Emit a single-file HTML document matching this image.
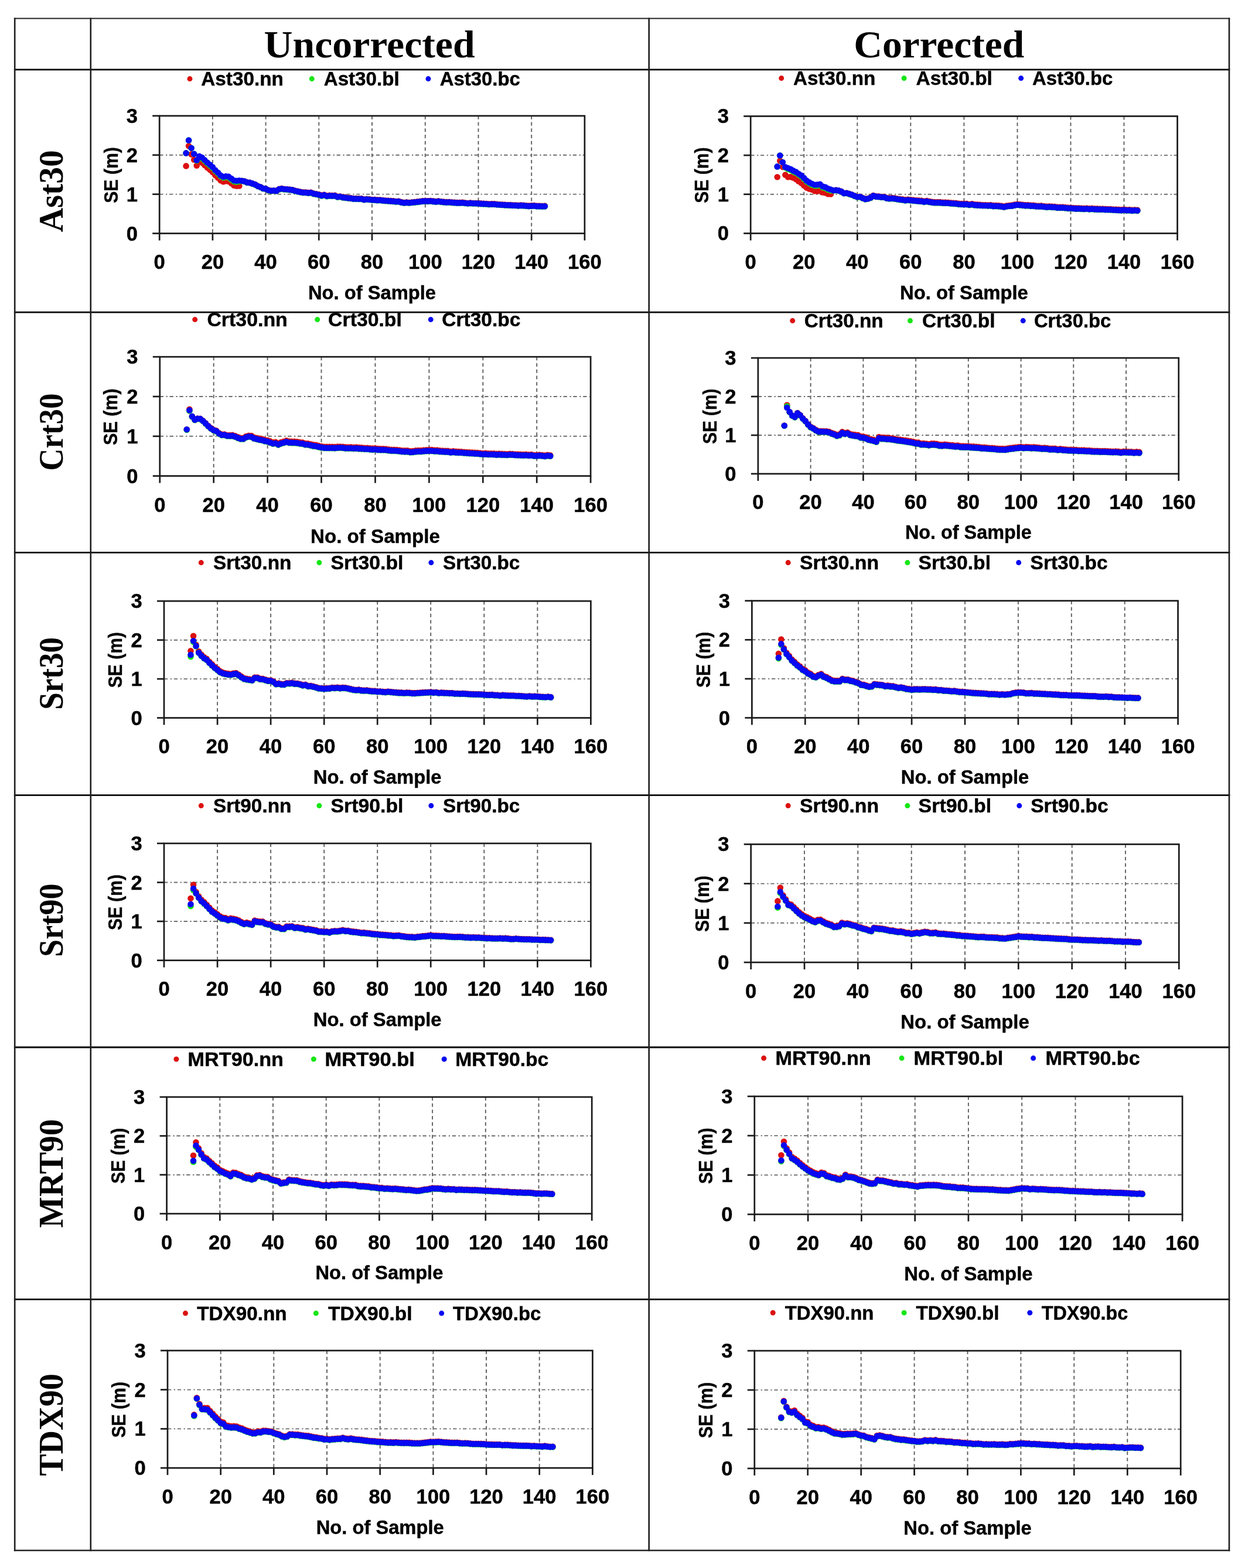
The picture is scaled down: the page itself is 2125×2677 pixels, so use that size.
<!DOCTYPE html>
<html><head><meta charset="utf-8"><title>SE vs No. of Sample</title>
<style>html,body{margin:0;padding:0;background:#fff;}svg{display:block;}</style></head><body>
<svg width="2125" height="2677" viewBox="0 0 2125 2677">
<rect x="0" y="0" width="2125" height="2677" fill="#fff"/>
<g><line x1="362.9" y1="197.8" x2="362.9" y2="398.5" stroke="#5e5e5e" stroke-width="1.9" stroke-dasharray="6 4.75"/><line x1="453.6" y1="197.8" x2="453.6" y2="398.5" stroke="#5e5e5e" stroke-width="1.9" stroke-dasharray="6 4.75"/><line x1="544.3" y1="197.8" x2="544.3" y2="398.5" stroke="#5e5e5e" stroke-width="1.9" stroke-dasharray="6 4.75"/><line x1="635.0" y1="197.8" x2="635.0" y2="398.5" stroke="#5e5e5e" stroke-width="1.9" stroke-dasharray="6 4.75"/><line x1="725.8" y1="197.8" x2="725.8" y2="398.5" stroke="#5e5e5e" stroke-width="1.9" stroke-dasharray="6 4.75"/><line x1="816.5" y1="197.8" x2="816.5" y2="398.5" stroke="#5e5e5e" stroke-width="1.9" stroke-dasharray="6 4.75"/><line x1="907.2" y1="197.8" x2="907.2" y2="398.5" stroke="#5e5e5e" stroke-width="1.9" stroke-dasharray="6 4.75"/><line x1="272.2" y1="331.6" x2="997.9" y2="331.6" stroke="#6c6c6c" stroke-width="1.9" stroke-dasharray="6.3 4.5 2.3 3.7"/><line x1="272.2" y1="264.7" x2="997.9" y2="264.7" stroke="#6c6c6c" stroke-width="1.9" stroke-dasharray="6.3 4.5 2.3 3.7"/><rect x="272.2" y="197.8" width="725.7" height="200.7" fill="none" stroke="#1a1a1a" stroke-width="2.7"/><line x1="260.2" y1="398.5" x2="272.2" y2="398.5" stroke="#1a1a1a" stroke-width="2.7"/><line x1="260.2" y1="331.6" x2="272.2" y2="331.6" stroke="#1a1a1a" stroke-width="2.7"/><line x1="260.2" y1="264.7" x2="272.2" y2="264.7" stroke="#1a1a1a" stroke-width="2.7"/><line x1="260.2" y1="197.8" x2="272.2" y2="197.8" stroke="#1a1a1a" stroke-width="2.7"/><line x1="272.2" y1="398.5" x2="272.2" y2="410.5" stroke="#1a1a1a" stroke-width="2.7"/><line x1="362.9" y1="398.5" x2="362.9" y2="410.5" stroke="#1a1a1a" stroke-width="2.7"/><line x1="453.6" y1="398.5" x2="453.6" y2="410.5" stroke="#1a1a1a" stroke-width="2.7"/><line x1="544.3" y1="398.5" x2="544.3" y2="410.5" stroke="#1a1a1a" stroke-width="2.7"/><line x1="635.0" y1="398.5" x2="635.0" y2="410.5" stroke="#1a1a1a" stroke-width="2.7"/><line x1="725.8" y1="398.5" x2="725.8" y2="410.5" stroke="#1a1a1a" stroke-width="2.7"/><line x1="816.5" y1="398.5" x2="816.5" y2="410.5" stroke="#1a1a1a" stroke-width="2.7"/><line x1="907.2" y1="398.5" x2="907.2" y2="410.5" stroke="#1a1a1a" stroke-width="2.7"/><line x1="997.9" y1="398.5" x2="997.9" y2="410.5" stroke="#1a1a1a" stroke-width="2.7"/><g fill="#dc1010"><circle cx="317.6" cy="283.4" r="5.3"/><circle cx="322.1" cy="249.3" r="5.3"/><circle cx="326.6" cy="263.4" r="5.3"/><circle cx="331.2" cy="272.7" r="5.3"/><circle cx="335.7" cy="282.8" r="5.3"/><circle cx="340.2" cy="275.5" r="5.3"/><circle cx="344.8" cy="277.7" r="5.3"/><circle cx="349.3" cy="282.0" r="5.3"/><circle cx="353.8" cy="286.2" r="5.3"/><circle cx="358.4" cy="289.9" r="5.3"/><circle cx="362.9" cy="294.0" r="5.3"/><circle cx="367.4" cy="299.2" r="5.3"/><circle cx="372.0" cy="303.4" r="5.3"/><circle cx="376.5" cy="308.1" r="5.3"/><circle cx="381.1" cy="310.2" r="5.3"/><circle cx="385.6" cy="309.3" r="5.3"/><circle cx="390.1" cy="309.7" r="5.3"/><circle cx="394.7" cy="312.9" r="5.3"/><circle cx="399.2" cy="316.6" r="5.3"/><circle cx="403.7" cy="317.6" r="5.3"/><circle cx="408.3" cy="317.5" r="5.3"/><circle cx="412.8" cy="308.7" r="5.3"/><circle cx="417.3" cy="309.6" r="5.3"/><circle cx="421.9" cy="311.4" r="5.3"/><circle cx="426.4" cy="311.9" r="5.3"/><circle cx="430.9" cy="313.3" r="5.3"/><circle cx="435.5" cy="314.9" r="5.3"/><circle cx="440.0" cy="317.6" r="5.3"/><circle cx="444.6" cy="319.3" r="5.3"/><circle cx="449.1" cy="321.7" r="5.3"/><circle cx="453.6" cy="322.3" r="5.3"/><circle cx="458.2" cy="324.6" r="5.3"/><circle cx="462.7" cy="325.6" r="5.3"/><circle cx="467.2" cy="325.2" r="5.3"/><circle cx="471.8" cy="325.6" r="5.3"/><circle cx="476.3" cy="322.8" r="5.3"/><circle cx="480.8" cy="321.9" r="5.3"/><circle cx="485.4" cy="322.7" r="5.3"/><circle cx="489.9" cy="323.0" r="5.3"/><circle cx="494.4" cy="323.6" r="5.3"/><circle cx="499.0" cy="324.0" r="5.3"/><circle cx="503.5" cy="325.5" r="5.3"/><circle cx="508.1" cy="326.5" r="5.3"/><circle cx="512.6" cy="327.5" r="5.3"/><circle cx="517.1" cy="328.3" r="5.3"/><circle cx="521.7" cy="328.3" r="5.3"/><circle cx="526.2" cy="328.9" r="5.3"/><circle cx="530.7" cy="328.5" r="5.3"/><circle cx="535.3" cy="330.3" r="5.3"/><circle cx="539.8" cy="331.0" r="5.3"/><circle cx="544.3" cy="332.0" r="5.3"/><circle cx="548.9" cy="333.4" r="5.3"/><circle cx="553.4" cy="332.5" r="5.3"/><circle cx="557.9" cy="334.3" r="5.3"/><circle cx="562.5" cy="333.6" r="5.3"/><circle cx="567.0" cy="333.9" r="5.3"/><circle cx="571.6" cy="333.6" r="5.3"/><circle cx="576.1" cy="335.7" r="5.3"/><circle cx="580.6" cy="335.2" r="5.3"/><circle cx="585.2" cy="336.5" r="5.3"/><circle cx="589.7" cy="336.9" r="5.3"/><circle cx="594.2" cy="337.7" r="5.3"/><circle cx="598.8" cy="338.1" r="5.3"/><circle cx="603.3" cy="338.9" r="5.3"/><circle cx="607.8" cy="338.9" r="5.3"/><circle cx="612.4" cy="339.1" r="5.3"/><circle cx="616.9" cy="339.0" r="5.3"/><circle cx="621.4" cy="340.4" r="5.3"/><circle cx="626.0" cy="339.7" r="5.3"/><circle cx="630.5" cy="340.1" r="5.3"/><circle cx="635.0" cy="340.7" r="5.3"/><circle cx="639.6" cy="340.9" r="5.3"/><circle cx="644.1" cy="341.4" r="5.3"/><circle cx="648.7" cy="341.2" r="5.3"/><circle cx="653.2" cy="341.8" r="5.3"/><circle cx="657.7" cy="342.2" r="5.3"/><circle cx="662.3" cy="342.5" r="5.3"/><circle cx="666.8" cy="342.8" r="5.3"/><circle cx="671.3" cy="343.1" r="5.3"/><circle cx="675.9" cy="343.8" r="5.3"/><circle cx="680.4" cy="343.5" r="5.3"/><circle cx="684.9" cy="344.9" r="5.3"/><circle cx="689.5" cy="345.8" r="5.3"/><circle cx="694.0" cy="345.4" r="5.3"/><circle cx="698.5" cy="345.8" r="5.3"/><circle cx="703.1" cy="345.2" r="5.3"/><circle cx="707.6" cy="344.8" r="5.3"/><circle cx="712.2" cy="344.3" r="5.3"/><circle cx="716.7" cy="343.7" r="5.3"/><circle cx="721.2" cy="343.0" r="5.3"/><circle cx="725.8" cy="342.9" r="5.3"/><circle cx="730.3" cy="343.1" r="5.3"/><circle cx="734.8" cy="342.8" r="5.3"/><circle cx="739.4" cy="343.3" r="5.3"/><circle cx="743.9" cy="343.9" r="5.3"/><circle cx="748.4" cy="343.4" r="5.3"/><circle cx="753.0" cy="344.0" r="5.3"/><circle cx="757.5" cy="344.6" r="5.3"/><circle cx="762.0" cy="344.9" r="5.3"/><circle cx="766.6" cy="344.8" r="5.3"/><circle cx="771.1" cy="345.3" r="5.3"/><circle cx="775.7" cy="345.6" r="5.3"/><circle cx="780.2" cy="345.8" r="5.3"/><circle cx="784.7" cy="345.8" r="5.3"/><circle cx="789.3" cy="345.6" r="5.3"/><circle cx="793.8" cy="346.2" r="5.3"/><circle cx="798.3" cy="346.7" r="5.3"/><circle cx="802.9" cy="346.4" r="5.3"/><circle cx="807.4" cy="346.7" r="5.3"/><circle cx="811.9" cy="346.7" r="5.3"/><circle cx="816.5" cy="346.8" r="5.3"/><circle cx="821.0" cy="347.4" r="5.3"/><circle cx="825.5" cy="347.6" r="5.3"/><circle cx="830.1" cy="347.8" r="5.3"/><circle cx="834.6" cy="348.3" r="5.3"/><circle cx="839.2" cy="348.1" r="5.3"/><circle cx="843.7" cy="348.1" r="5.3"/><circle cx="848.2" cy="348.6" r="5.3"/><circle cx="852.8" cy="349.0" r="5.3"/><circle cx="857.3" cy="349.2" r="5.3"/><circle cx="861.8" cy="349.5" r="5.3"/><circle cx="866.4" cy="349.8" r="5.3"/><circle cx="870.9" cy="349.9" r="5.3"/><circle cx="875.4" cy="350.2" r="5.3"/><circle cx="880.0" cy="350.2" r="5.3"/><circle cx="884.5" cy="350.6" r="5.3"/><circle cx="889.0" cy="350.3" r="5.3"/><circle cx="893.6" cy="350.6" r="5.3"/><circle cx="898.1" cy="351.0" r="5.3"/><circle cx="902.7" cy="351.4" r="5.3"/><circle cx="907.2" cy="351.0" r="5.3"/><circle cx="911.7" cy="350.9" r="5.3"/><circle cx="916.3" cy="351.5" r="5.3"/><circle cx="920.8" cy="351.6" r="5.3"/><circle cx="925.3" cy="351.8" r="5.3"/><circle cx="929.9" cy="351.6" r="5.3"/></g><g fill="#16e616"><circle cx="317.6" cy="261.4" r="5.3"/><circle cx="322.1" cy="239.5" r="5.3"/><circle cx="326.6" cy="252.7" r="5.3"/><circle cx="331.2" cy="262.8" r="5.3"/><circle cx="335.7" cy="274.2" r="5.3"/><circle cx="340.2" cy="268.2" r="5.3"/><circle cx="344.8" cy="270.4" r="5.3"/><circle cx="349.3" cy="274.7" r="5.3"/><circle cx="353.8" cy="278.9" r="5.3"/><circle cx="358.4" cy="282.7" r="5.3"/><circle cx="362.9" cy="286.8" r="5.3"/><circle cx="367.4" cy="291.9" r="5.3"/><circle cx="372.0" cy="296.2" r="5.3"/><circle cx="376.5" cy="301.0" r="5.3"/><circle cx="381.1" cy="303.2" r="5.3"/><circle cx="385.6" cy="302.5" r="5.3"/><circle cx="390.1" cy="303.1" r="5.3"/><circle cx="394.7" cy="306.4" r="5.3"/><circle cx="399.2" cy="309.7" r="5.3"/><circle cx="403.7" cy="310.4" r="5.3"/><circle cx="408.3" cy="309.8" r="5.3"/><circle cx="412.8" cy="309.1" r="5.3"/><circle cx="417.3" cy="310.0" r="5.3"/><circle cx="421.9" cy="311.9" r="5.3"/><circle cx="426.4" cy="312.3" r="5.3"/><circle cx="430.9" cy="313.8" r="5.3"/><circle cx="435.5" cy="315.4" r="5.3"/><circle cx="440.0" cy="318.1" r="5.3"/><circle cx="444.6" cy="319.8" r="5.3"/><circle cx="449.1" cy="322.2" r="5.3"/><circle cx="453.6" cy="322.8" r="5.3"/><circle cx="458.2" cy="325.2" r="5.3"/><circle cx="462.7" cy="326.2" r="5.3"/><circle cx="467.2" cy="325.8" r="5.3"/><circle cx="471.8" cy="326.3" r="5.3"/><circle cx="476.3" cy="323.5" r="5.3"/><circle cx="480.8" cy="322.6" r="5.3"/><circle cx="485.4" cy="323.4" r="5.3"/><circle cx="489.9" cy="323.7" r="5.3"/><circle cx="494.4" cy="324.3" r="5.3"/><circle cx="499.0" cy="324.8" r="5.3"/><circle cx="503.5" cy="326.2" r="5.3"/><circle cx="508.1" cy="327.3" r="5.3"/><circle cx="512.6" cy="328.3" r="5.3"/><circle cx="517.1" cy="329.1" r="5.3"/><circle cx="521.7" cy="329.1" r="5.3"/><circle cx="526.2" cy="329.8" r="5.3"/><circle cx="530.7" cy="329.4" r="5.3"/><circle cx="535.3" cy="331.2" r="5.3"/><circle cx="539.8" cy="331.9" r="5.3"/><circle cx="544.3" cy="332.9" r="5.3"/><circle cx="548.9" cy="334.4" r="5.3"/><circle cx="553.4" cy="333.4" r="5.3"/><circle cx="557.9" cy="335.2" r="5.3"/><circle cx="562.5" cy="334.6" r="5.3"/><circle cx="567.0" cy="334.8" r="5.3"/><circle cx="571.6" cy="334.6" r="5.3"/><circle cx="576.1" cy="336.6" r="5.3"/><circle cx="580.6" cy="336.1" r="5.3"/><circle cx="585.2" cy="337.4" r="5.3"/><circle cx="589.7" cy="337.9" r="5.3"/><circle cx="594.2" cy="338.6" r="5.3"/><circle cx="598.8" cy="339.0" r="5.3"/><circle cx="603.3" cy="339.8" r="5.3"/><circle cx="607.8" cy="339.8" r="5.3"/><circle cx="612.4" cy="340.0" r="5.3"/><circle cx="616.9" cy="340.0" r="5.3"/><circle cx="621.4" cy="341.3" r="5.3"/><circle cx="626.0" cy="340.6" r="5.3"/><circle cx="630.5" cy="341.0" r="5.3"/><circle cx="635.0" cy="341.7" r="5.3"/><circle cx="639.6" cy="341.8" r="5.3"/><circle cx="644.1" cy="342.3" r="5.3"/><circle cx="648.7" cy="342.1" r="5.3"/><circle cx="653.2" cy="342.7" r="5.3"/><circle cx="657.7" cy="343.1" r="5.3"/><circle cx="662.3" cy="343.4" r="5.3"/><circle cx="666.8" cy="343.7" r="5.3"/><circle cx="671.3" cy="344.1" r="5.3"/><circle cx="675.9" cy="344.7" r="5.3"/><circle cx="680.4" cy="344.4" r="5.3"/><circle cx="684.9" cy="345.8" r="5.3"/><circle cx="689.5" cy="346.7" r="5.3"/><circle cx="694.0" cy="346.3" r="5.3"/><circle cx="698.5" cy="346.7" r="5.3"/><circle cx="703.1" cy="346.0" r="5.3"/><circle cx="707.6" cy="345.7" r="5.3"/><circle cx="712.2" cy="345.2" r="5.3"/><circle cx="716.7" cy="344.6" r="5.3"/><circle cx="721.2" cy="343.9" r="5.3"/><circle cx="725.8" cy="343.8" r="5.3"/><circle cx="730.3" cy="344.0" r="5.3"/><circle cx="734.8" cy="343.7" r="5.3"/><circle cx="739.4" cy="344.2" r="5.3"/><circle cx="743.9" cy="344.8" r="5.3"/><circle cx="748.4" cy="344.3" r="5.3"/><circle cx="753.0" cy="344.9" r="5.3"/><circle cx="757.5" cy="345.4" r="5.3"/><circle cx="762.0" cy="345.8" r="5.3"/><circle cx="766.6" cy="345.7" r="5.3"/><circle cx="771.1" cy="346.2" r="5.3"/><circle cx="775.7" cy="346.5" r="5.3"/><circle cx="780.2" cy="346.7" r="5.3"/><circle cx="784.7" cy="346.7" r="5.3"/><circle cx="789.3" cy="346.5" r="5.3"/><circle cx="793.8" cy="347.1" r="5.3"/><circle cx="798.3" cy="347.6" r="5.3"/><circle cx="802.9" cy="347.2" r="5.3"/><circle cx="807.4" cy="347.6" r="5.3"/><circle cx="811.9" cy="347.6" r="5.3"/><circle cx="816.5" cy="347.7" r="5.3"/><circle cx="821.0" cy="348.3" r="5.3"/><circle cx="825.5" cy="348.5" r="5.3"/><circle cx="830.1" cy="348.7" r="5.3"/><circle cx="834.6" cy="349.2" r="5.3"/><circle cx="839.2" cy="349.0" r="5.3"/><circle cx="843.7" cy="349.0" r="5.3"/><circle cx="848.2" cy="349.5" r="5.3"/><circle cx="852.8" cy="349.8" r="5.3"/><circle cx="857.3" cy="350.1" r="5.3"/><circle cx="861.8" cy="350.4" r="5.3"/><circle cx="866.4" cy="350.6" r="5.3"/><circle cx="870.9" cy="350.8" r="5.3"/><circle cx="875.4" cy="351.0" r="5.3"/><circle cx="880.0" cy="351.1" r="5.3"/><circle cx="884.5" cy="351.5" r="5.3"/><circle cx="889.0" cy="351.2" r="5.3"/><circle cx="893.6" cy="351.4" r="5.3"/><circle cx="898.1" cy="351.9" r="5.3"/><circle cx="902.7" cy="352.3" r="5.3"/><circle cx="907.2" cy="351.9" r="5.3"/><circle cx="911.7" cy="351.8" r="5.3"/><circle cx="916.3" cy="352.4" r="5.3"/><circle cx="920.8" cy="352.5" r="5.3"/><circle cx="925.3" cy="352.7" r="5.3"/><circle cx="929.9" cy="352.5" r="5.3"/></g><g fill="#0808f2"><circle cx="317.6" cy="261.4" r="5.3"/><circle cx="322.1" cy="239.5" r="5.3"/><circle cx="326.6" cy="252.7" r="5.3"/><circle cx="331.2" cy="262.8" r="5.3"/><circle cx="335.7" cy="273.5" r="5.3"/><circle cx="340.2" cy="266.8" r="5.3"/><circle cx="344.8" cy="269.0" r="5.3"/><circle cx="349.3" cy="273.3" r="5.3"/><circle cx="353.8" cy="277.5" r="5.3"/><circle cx="358.4" cy="281.2" r="5.3"/><circle cx="362.9" cy="285.3" r="5.3"/><circle cx="367.4" cy="290.5" r="5.3"/><circle cx="372.0" cy="294.7" r="5.3"/><circle cx="376.5" cy="299.4" r="5.3"/><circle cx="381.1" cy="301.7" r="5.3"/><circle cx="385.6" cy="301.0" r="5.3"/><circle cx="390.1" cy="301.5" r="5.3"/><circle cx="394.7" cy="304.8" r="5.3"/><circle cx="399.2" cy="308.1" r="5.3"/><circle cx="403.7" cy="308.7" r="5.3"/><circle cx="408.3" cy="308.2" r="5.3"/><circle cx="412.8" cy="308.7" r="5.3"/><circle cx="417.3" cy="309.6" r="5.3"/><circle cx="421.9" cy="311.5" r="5.3"/><circle cx="426.4" cy="311.9" r="5.3"/><circle cx="430.9" cy="313.4" r="5.3"/><circle cx="435.5" cy="315.0" r="5.3"/><circle cx="440.0" cy="317.7" r="5.3"/><circle cx="444.6" cy="319.4" r="5.3"/><circle cx="449.1" cy="321.8" r="5.3"/><circle cx="453.6" cy="322.4" r="5.3"/><circle cx="458.2" cy="324.8" r="5.3"/><circle cx="462.7" cy="325.8" r="5.3"/><circle cx="467.2" cy="325.4" r="5.3"/><circle cx="471.8" cy="325.9" r="5.3"/><circle cx="476.3" cy="323.1" r="5.3"/><circle cx="480.8" cy="322.2" r="5.3"/><circle cx="485.4" cy="323.0" r="5.3"/><circle cx="489.9" cy="323.3" r="5.3"/><circle cx="494.4" cy="323.9" r="5.3"/><circle cx="499.0" cy="324.4" r="5.3"/><circle cx="503.5" cy="325.8" r="5.3"/><circle cx="508.1" cy="326.9" r="5.3"/><circle cx="512.6" cy="327.9" r="5.3"/><circle cx="517.1" cy="328.8" r="5.3"/><circle cx="521.7" cy="328.8" r="5.3"/><circle cx="526.2" cy="329.4" r="5.3"/><circle cx="530.7" cy="329.0" r="5.3"/><circle cx="535.3" cy="330.8" r="5.3"/><circle cx="539.8" cy="331.5" r="5.3"/><circle cx="544.3" cy="332.5" r="5.3"/><circle cx="548.9" cy="334.0" r="5.3"/><circle cx="553.4" cy="333.0" r="5.3"/><circle cx="557.9" cy="334.8" r="5.3"/><circle cx="562.5" cy="334.2" r="5.3"/><circle cx="567.0" cy="334.4" r="5.3"/><circle cx="571.6" cy="334.2" r="5.3"/><circle cx="576.1" cy="336.2" r="5.3"/><circle cx="580.6" cy="335.7" r="5.3"/><circle cx="585.2" cy="337.1" r="5.3"/><circle cx="589.7" cy="337.5" r="5.3"/><circle cx="594.2" cy="338.3" r="5.3"/><circle cx="598.8" cy="338.6" r="5.3"/><circle cx="603.3" cy="339.4" r="5.3"/><circle cx="607.8" cy="339.5" r="5.3"/><circle cx="612.4" cy="339.6" r="5.3"/><circle cx="616.9" cy="339.6" r="5.3"/><circle cx="621.4" cy="340.9" r="5.3"/><circle cx="626.0" cy="340.2" r="5.3"/><circle cx="630.5" cy="340.7" r="5.3"/><circle cx="635.0" cy="341.3" r="5.3"/><circle cx="639.6" cy="341.4" r="5.3"/><circle cx="644.1" cy="341.9" r="5.3"/><circle cx="648.7" cy="341.7" r="5.3"/><circle cx="653.2" cy="342.4" r="5.3"/><circle cx="657.7" cy="342.8" r="5.3"/><circle cx="662.3" cy="343.1" r="5.3"/><circle cx="666.8" cy="343.4" r="5.3"/><circle cx="671.3" cy="343.7" r="5.3"/><circle cx="675.9" cy="344.3" r="5.3"/><circle cx="680.4" cy="344.1" r="5.3"/><circle cx="684.9" cy="345.5" r="5.3"/><circle cx="689.5" cy="346.3" r="5.3"/><circle cx="694.0" cy="345.9" r="5.3"/><circle cx="698.5" cy="346.3" r="5.3"/><circle cx="703.1" cy="345.7" r="5.3"/><circle cx="707.6" cy="345.3" r="5.3"/><circle cx="712.2" cy="344.8" r="5.3"/><circle cx="716.7" cy="344.2" r="5.3"/><circle cx="721.2" cy="343.6" r="5.3"/><circle cx="725.8" cy="343.4" r="5.3"/><circle cx="730.3" cy="343.6" r="5.3"/><circle cx="734.8" cy="343.3" r="5.3"/><circle cx="739.4" cy="343.9" r="5.3"/><circle cx="743.9" cy="344.5" r="5.3"/><circle cx="748.4" cy="343.9" r="5.3"/><circle cx="753.0" cy="344.5" r="5.3"/><circle cx="757.5" cy="345.1" r="5.3"/><circle cx="762.0" cy="345.5" r="5.3"/><circle cx="766.6" cy="345.3" r="5.3"/><circle cx="771.1" cy="345.8" r="5.3"/><circle cx="775.7" cy="346.1" r="5.3"/><circle cx="780.2" cy="346.4" r="5.3"/><circle cx="784.7" cy="346.4" r="5.3"/><circle cx="789.3" cy="346.2" r="5.3"/><circle cx="793.8" cy="346.8" r="5.3"/><circle cx="798.3" cy="347.2" r="5.3"/><circle cx="802.9" cy="346.9" r="5.3"/><circle cx="807.4" cy="347.2" r="5.3"/><circle cx="811.9" cy="347.3" r="5.3"/><circle cx="816.5" cy="347.4" r="5.3"/><circle cx="821.0" cy="347.9" r="5.3"/><circle cx="825.5" cy="348.1" r="5.3"/><circle cx="830.1" cy="348.3" r="5.3"/><circle cx="834.6" cy="348.8" r="5.3"/><circle cx="839.2" cy="348.6" r="5.3"/><circle cx="843.7" cy="348.7" r="5.3"/><circle cx="848.2" cy="349.2" r="5.3"/><circle cx="852.8" cy="349.5" r="5.3"/><circle cx="857.3" cy="349.7" r="5.3"/><circle cx="861.8" cy="350.1" r="5.3"/><circle cx="866.4" cy="350.3" r="5.3"/><circle cx="870.9" cy="350.4" r="5.3"/><circle cx="875.4" cy="350.7" r="5.3"/><circle cx="880.0" cy="350.7" r="5.3"/><circle cx="884.5" cy="351.2" r="5.3"/><circle cx="889.0" cy="350.9" r="5.3"/><circle cx="893.6" cy="351.1" r="5.3"/><circle cx="898.1" cy="351.5" r="5.3"/><circle cx="902.7" cy="352.0" r="5.3"/><circle cx="907.2" cy="351.6" r="5.3"/><circle cx="911.7" cy="351.5" r="5.3"/><circle cx="916.3" cy="352.1" r="5.3"/><circle cx="920.8" cy="352.1" r="5.3"/><circle cx="925.3" cy="352.3" r="5.3"/><circle cx="929.9" cy="352.2" r="5.3"/></g><circle cx="324.0" cy="134.6" r="4.5" fill="#dc1010"/><circle cx="532.3" cy="134.6" r="4.5" fill="#16e616"/><circle cx="731.0" cy="134.6" r="4.5" fill="#0808f2"/></g>
<g font-family="'Liberation Sans', Arial, sans-serif" font-weight="bold" font-size="33.0" fill="#000" stroke="#000" stroke-width="0.45"><text x="234.9" y="410.5" text-anchor="end" font-size="34.6">0</text><text x="234.9" y="343.6" text-anchor="end" font-size="34.6">1</text><text x="234.9" y="276.7" text-anchor="end" font-size="34.6">2</text><text x="234.9" y="209.8" text-anchor="end" font-size="34.6">3</text><text x="272.2" y="459.3" text-anchor="middle" font-size="34.6">0</text><text x="362.9" y="459.3" text-anchor="middle" font-size="34.6">20</text><text x="453.6" y="459.3" text-anchor="middle" font-size="34.6">40</text><text x="544.3" y="459.3" text-anchor="middle" font-size="34.6">60</text><text x="635.0" y="459.3" text-anchor="middle" font-size="34.6">80</text><text x="725.8" y="459.3" text-anchor="middle" font-size="34.6">100</text><text x="816.5" y="459.3" text-anchor="middle" font-size="34.6">120</text><text x="907.2" y="459.3" text-anchor="middle" font-size="34.6">140</text><text x="997.9" y="459.3" text-anchor="middle" font-size="34.6">160</text><text x="635.0" y="511.4" text-anchor="middle" textLength="218.0" lengthAdjust="spacingAndGlyphs">No. of Sample</text><text transform="translate(200.6,298.9) rotate(-90)" text-anchor="middle" textLength="95.5" lengthAdjust="spacingAndGlyphs">SE (m)</text><text x="343.3" y="146.0" textLength="140.6" lengthAdjust="spacingAndGlyphs">Ast30.nn</text><text x="552.7" y="146.0" textLength="129.0" lengthAdjust="spacingAndGlyphs">Ast30.bl</text><text x="750.7" y="146.0" textLength="137.1" lengthAdjust="spacingAndGlyphs">Ast30.bc</text></g>
<g><line x1="364.7" y1="609.2" x2="364.7" y2="812.6" stroke="#5e5e5e" stroke-width="1.9" stroke-dasharray="6 4.75"/><line x1="456.6" y1="609.2" x2="456.6" y2="812.6" stroke="#5e5e5e" stroke-width="1.9" stroke-dasharray="6 4.75"/><line x1="548.5" y1="609.2" x2="548.5" y2="812.6" stroke="#5e5e5e" stroke-width="1.9" stroke-dasharray="6 4.75"/><line x1="640.5" y1="609.2" x2="640.5" y2="812.6" stroke="#5e5e5e" stroke-width="1.9" stroke-dasharray="6 4.75"/><line x1="732.4" y1="609.2" x2="732.4" y2="812.6" stroke="#5e5e5e" stroke-width="1.9" stroke-dasharray="6 4.75"/><line x1="824.3" y1="609.2" x2="824.3" y2="812.6" stroke="#5e5e5e" stroke-width="1.9" stroke-dasharray="6 4.75"/><line x1="916.2" y1="609.2" x2="916.2" y2="812.6" stroke="#5e5e5e" stroke-width="1.9" stroke-dasharray="6 4.75"/><line x1="272.8" y1="744.8" x2="1008.1" y2="744.8" stroke="#6c6c6c" stroke-width="1.9" stroke-dasharray="6.3 4.5 2.3 3.7"/><line x1="272.8" y1="677.0" x2="1008.1" y2="677.0" stroke="#6c6c6c" stroke-width="1.9" stroke-dasharray="6.3 4.5 2.3 3.7"/><rect x="272.8" y="609.2" width="735.3" height="203.4" fill="none" stroke="#1a1a1a" stroke-width="2.7"/><line x1="260.8" y1="812.6" x2="272.8" y2="812.6" stroke="#1a1a1a" stroke-width="2.7"/><line x1="260.8" y1="744.8" x2="272.8" y2="744.8" stroke="#1a1a1a" stroke-width="2.7"/><line x1="260.8" y1="677.0" x2="272.8" y2="677.0" stroke="#1a1a1a" stroke-width="2.7"/><line x1="260.8" y1="609.2" x2="272.8" y2="609.2" stroke="#1a1a1a" stroke-width="2.7"/><line x1="272.8" y1="812.6" x2="272.8" y2="824.6" stroke="#1a1a1a" stroke-width="2.7"/><line x1="364.7" y1="812.6" x2="364.7" y2="824.6" stroke="#1a1a1a" stroke-width="2.7"/><line x1="456.6" y1="812.6" x2="456.6" y2="824.6" stroke="#1a1a1a" stroke-width="2.7"/><line x1="548.5" y1="812.6" x2="548.5" y2="824.6" stroke="#1a1a1a" stroke-width="2.7"/><line x1="640.5" y1="812.6" x2="640.5" y2="824.6" stroke="#1a1a1a" stroke-width="2.7"/><line x1="732.4" y1="812.6" x2="732.4" y2="824.6" stroke="#1a1a1a" stroke-width="2.7"/><line x1="824.3" y1="812.6" x2="824.3" y2="824.6" stroke="#1a1a1a" stroke-width="2.7"/><line x1="916.2" y1="812.6" x2="916.2" y2="824.6" stroke="#1a1a1a" stroke-width="2.7"/><line x1="1008.1" y1="812.6" x2="1008.1" y2="824.6" stroke="#1a1a1a" stroke-width="2.7"/><g fill="#dc1010"><circle cx="318.8" cy="733.3" r="5.3"/><circle cx="323.4" cy="698.7" r="5.3"/><circle cx="327.9" cy="710.9" r="5.3"/><circle cx="332.5" cy="716.6" r="5.3"/><circle cx="337.1" cy="714.6" r="5.3"/><circle cx="341.7" cy="714.9" r="5.3"/><circle cx="346.3" cy="718.2" r="5.3"/><circle cx="350.9" cy="722.4" r="5.3"/><circle cx="355.5" cy="727.0" r="5.3"/><circle cx="360.1" cy="730.9" r="5.3"/><circle cx="364.7" cy="733.9" r="5.3"/><circle cx="369.3" cy="735.4" r="5.3"/><circle cx="373.9" cy="739.4" r="5.3"/><circle cx="378.5" cy="741.6" r="5.3"/><circle cx="383.1" cy="741.5" r="5.3"/><circle cx="387.7" cy="743.0" r="5.3"/><circle cx="392.3" cy="743.1" r="5.3"/><circle cx="396.9" cy="742.9" r="5.3"/><circle cx="401.5" cy="744.2" r="5.3"/><circle cx="406.1" cy="746.3" r="5.3"/><circle cx="410.7" cy="747.9" r="5.3"/><circle cx="415.3" cy="747.8" r="5.3"/><circle cx="419.9" cy="745.0" r="5.3"/><circle cx="424.5" cy="743.7" r="5.3"/><circle cx="429.1" cy="744.0" r="5.3"/><circle cx="433.6" cy="746.7" r="5.3"/><circle cx="438.2" cy="747.8" r="5.3"/><circle cx="442.8" cy="748.9" r="5.3"/><circle cx="447.4" cy="749.6" r="5.3"/><circle cx="452.0" cy="751.0" r="5.3"/><circle cx="456.6" cy="751.7" r="5.3"/><circle cx="461.2" cy="753.4" r="5.3"/><circle cx="465.8" cy="755.2" r="5.3"/><circle cx="470.4" cy="754.8" r="5.3"/><circle cx="475.0" cy="757.1" r="5.3"/><circle cx="479.6" cy="755.1" r="5.3"/><circle cx="484.2" cy="753.8" r="5.3"/><circle cx="488.8" cy="752.4" r="5.3"/><circle cx="493.4" cy="753.6" r="5.3"/><circle cx="498.0" cy="753.9" r="5.3"/><circle cx="502.6" cy="753.8" r="5.3"/><circle cx="507.2" cy="754.3" r="5.3"/><circle cx="511.8" cy="755.1" r="5.3"/><circle cx="516.4" cy="755.5" r="5.3"/><circle cx="521.0" cy="757.0" r="5.3"/><circle cx="525.6" cy="757.2" r="5.3"/><circle cx="530.2" cy="758.4" r="5.3"/><circle cx="534.8" cy="759.4" r="5.3"/><circle cx="539.3" cy="759.8" r="5.3"/><circle cx="543.9" cy="761.0" r="5.3"/><circle cx="548.5" cy="762.0" r="5.3"/><circle cx="553.1" cy="762.7" r="5.3"/><circle cx="557.7" cy="762.8" r="5.3"/><circle cx="562.3" cy="762.8" r="5.3"/><circle cx="566.9" cy="762.8" r="5.3"/><circle cx="571.5" cy="763.1" r="5.3"/><circle cx="576.1" cy="762.6" r="5.3"/><circle cx="580.7" cy="762.5" r="5.3"/><circle cx="585.3" cy="762.8" r="5.3"/><circle cx="589.9" cy="763.3" r="5.3"/><circle cx="594.5" cy="763.5" r="5.3"/><circle cx="599.1" cy="763.4" r="5.3"/><circle cx="603.7" cy="763.8" r="5.3"/><circle cx="608.3" cy="763.6" r="5.3"/><circle cx="612.9" cy="764.1" r="5.3"/><circle cx="617.5" cy="764.3" r="5.3"/><circle cx="622.1" cy="764.7" r="5.3"/><circle cx="626.7" cy="764.8" r="5.3"/><circle cx="631.3" cy="765.3" r="5.3"/><circle cx="635.9" cy="765.6" r="5.3"/><circle cx="640.5" cy="765.4" r="5.3"/><circle cx="645.0" cy="766.1" r="5.3"/><circle cx="649.6" cy="766.3" r="5.3"/><circle cx="654.2" cy="766.3" r="5.3"/><circle cx="658.8" cy="766.5" r="5.3"/><circle cx="663.4" cy="767.2" r="5.3"/><circle cx="668.0" cy="767.7" r="5.3"/><circle cx="672.6" cy="767.7" r="5.3"/><circle cx="677.2" cy="768.0" r="5.3"/><circle cx="681.8" cy="768.5" r="5.3"/><circle cx="686.4" cy="769.2" r="5.3"/><circle cx="691.0" cy="769.4" r="5.3"/><circle cx="695.6" cy="769.4" r="5.3"/><circle cx="700.2" cy="770.3" r="5.3"/><circle cx="704.8" cy="770.1" r="5.3"/><circle cx="709.4" cy="769.4" r="5.3"/><circle cx="714.0" cy="769.1" r="5.3"/><circle cx="718.6" cy="769.1" r="5.3"/><circle cx="723.2" cy="768.6" r="5.3"/><circle cx="727.8" cy="768.2" r="5.3"/><circle cx="732.4" cy="768.0" r="5.3"/><circle cx="737.0" cy="768.1" r="5.3"/><circle cx="741.6" cy="768.6" r="5.3"/><circle cx="746.1" cy="768.5" r="5.3"/><circle cx="750.7" cy="769.3" r="5.3"/><circle cx="755.3" cy="769.5" r="5.3"/><circle cx="759.9" cy="769.8" r="5.3"/><circle cx="764.5" cy="769.9" r="5.3"/><circle cx="769.1" cy="770.8" r="5.3"/><circle cx="773.7" cy="770.3" r="5.3"/><circle cx="778.3" cy="770.9" r="5.3"/><circle cx="782.9" cy="771.1" r="5.3"/><circle cx="787.5" cy="771.2" r="5.3"/><circle cx="792.1" cy="771.8" r="5.3"/><circle cx="796.7" cy="772.0" r="5.3"/><circle cx="801.3" cy="772.3" r="5.3"/><circle cx="805.9" cy="772.5" r="5.3"/><circle cx="810.5" cy="772.8" r="5.3"/><circle cx="815.1" cy="773.0" r="5.3"/><circle cx="819.7" cy="773.6" r="5.3"/><circle cx="824.3" cy="774.1" r="5.3"/><circle cx="828.9" cy="773.9" r="5.3"/><circle cx="833.5" cy="774.3" r="5.3"/><circle cx="838.1" cy="774.2" r="5.3"/><circle cx="842.7" cy="774.4" r="5.3"/><circle cx="847.3" cy="774.9" r="5.3"/><circle cx="851.8" cy="774.6" r="5.3"/><circle cx="856.4" cy="774.9" r="5.3"/><circle cx="861.0" cy="775.1" r="5.3"/><circle cx="865.6" cy="775.3" r="5.3"/><circle cx="870.2" cy="774.9" r="5.3"/><circle cx="874.8" cy="775.0" r="5.3"/><circle cx="879.4" cy="775.5" r="5.3"/><circle cx="884.0" cy="775.6" r="5.3"/><circle cx="888.6" cy="775.8" r="5.3"/><circle cx="893.2" cy="776.0" r="5.3"/><circle cx="897.8" cy="775.7" r="5.3"/><circle cx="902.4" cy="776.3" r="5.3"/><circle cx="907.0" cy="776.0" r="5.3"/><circle cx="911.6" cy="777.0" r="5.3"/><circle cx="916.2" cy="777.0" r="5.3"/><circle cx="920.8" cy="776.5" r="5.3"/><circle cx="925.4" cy="777.0" r="5.3"/><circle cx="930.0" cy="777.5" r="5.3"/><circle cx="934.6" cy="776.7" r="5.3"/><circle cx="939.2" cy="777.2" r="5.3"/></g><g fill="#16e616"><circle cx="318.8" cy="734.0" r="5.3"/><circle cx="323.4" cy="701.4" r="5.3"/><circle cx="327.9" cy="711.4" r="5.3"/><circle cx="332.5" cy="717.3" r="5.3"/><circle cx="337.1" cy="715.3" r="5.3"/><circle cx="341.7" cy="715.7" r="5.3"/><circle cx="346.3" cy="719.0" r="5.3"/><circle cx="350.9" cy="723.4" r="5.3"/><circle cx="355.5" cy="728.1" r="5.3"/><circle cx="360.1" cy="732.1" r="5.3"/><circle cx="364.7" cy="735.1" r="5.3"/><circle cx="369.3" cy="736.7" r="5.3"/><circle cx="373.9" cy="740.8" r="5.3"/><circle cx="378.5" cy="743.1" r="5.3"/><circle cx="383.1" cy="743.1" r="5.3"/><circle cx="387.7" cy="744.6" r="5.3"/><circle cx="392.3" cy="744.8" r="5.3"/><circle cx="396.9" cy="744.7" r="5.3"/><circle cx="401.5" cy="746.0" r="5.3"/><circle cx="406.1" cy="748.2" r="5.3"/><circle cx="410.7" cy="749.8" r="5.3"/><circle cx="415.3" cy="749.8" r="5.3"/><circle cx="419.9" cy="747.0" r="5.3"/><circle cx="424.5" cy="745.8" r="5.3"/><circle cx="429.1" cy="746.2" r="5.3"/><circle cx="433.6" cy="749.0" r="5.3"/><circle cx="438.2" cy="750.1" r="5.3"/><circle cx="442.8" cy="751.3" r="5.3"/><circle cx="447.4" cy="752.0" r="5.3"/><circle cx="452.0" cy="753.5" r="5.3"/><circle cx="456.6" cy="754.2" r="5.3"/><circle cx="461.2" cy="756.0" r="5.3"/><circle cx="465.8" cy="757.8" r="5.3"/><circle cx="470.4" cy="757.3" r="5.3"/><circle cx="475.0" cy="759.6" r="5.3"/><circle cx="479.6" cy="757.6" r="5.3"/><circle cx="484.2" cy="756.3" r="5.3"/><circle cx="488.8" cy="754.9" r="5.3"/><circle cx="493.4" cy="756.1" r="5.3"/><circle cx="498.0" cy="756.4" r="5.3"/><circle cx="502.6" cy="756.4" r="5.3"/><circle cx="507.2" cy="756.8" r="5.3"/><circle cx="511.8" cy="757.6" r="5.3"/><circle cx="516.4" cy="758.0" r="5.3"/><circle cx="521.0" cy="759.5" r="5.3"/><circle cx="525.6" cy="759.6" r="5.3"/><circle cx="530.2" cy="760.8" r="5.3"/><circle cx="534.8" cy="761.9" r="5.3"/><circle cx="539.3" cy="762.2" r="5.3"/><circle cx="543.9" cy="763.4" r="5.3"/><circle cx="548.5" cy="764.4" r="5.3"/><circle cx="553.1" cy="765.1" r="5.3"/><circle cx="557.7" cy="765.2" r="5.3"/><circle cx="562.3" cy="765.2" r="5.3"/><circle cx="566.9" cy="765.2" r="5.3"/><circle cx="571.5" cy="765.4" r="5.3"/><circle cx="576.1" cy="765.0" r="5.3"/><circle cx="580.7" cy="764.8" r="5.3"/><circle cx="585.3" cy="765.1" r="5.3"/><circle cx="589.9" cy="765.7" r="5.3"/><circle cx="594.5" cy="765.8" r="5.3"/><circle cx="599.1" cy="765.8" r="5.3"/><circle cx="603.7" cy="766.1" r="5.3"/><circle cx="608.3" cy="765.9" r="5.3"/><circle cx="612.9" cy="766.4" r="5.3"/><circle cx="617.5" cy="766.6" r="5.3"/><circle cx="622.1" cy="767.0" r="5.3"/><circle cx="626.7" cy="767.0" r="5.3"/><circle cx="631.3" cy="767.6" r="5.3"/><circle cx="635.9" cy="767.9" r="5.3"/><circle cx="640.5" cy="767.7" r="5.3"/><circle cx="645.0" cy="768.3" r="5.3"/><circle cx="649.6" cy="768.6" r="5.3"/><circle cx="654.2" cy="768.5" r="5.3"/><circle cx="658.8" cy="768.7" r="5.3"/><circle cx="663.4" cy="769.4" r="5.3"/><circle cx="668.0" cy="769.9" r="5.3"/><circle cx="672.6" cy="769.9" r="5.3"/><circle cx="677.2" cy="770.2" r="5.3"/><circle cx="681.8" cy="770.7" r="5.3"/><circle cx="686.4" cy="771.3" r="5.3"/><circle cx="691.0" cy="771.6" r="5.3"/><circle cx="695.6" cy="771.6" r="5.3"/><circle cx="700.2" cy="772.4" r="5.3"/><circle cx="704.8" cy="772.2" r="5.3"/><circle cx="709.4" cy="771.5" r="5.3"/><circle cx="714.0" cy="771.2" r="5.3"/><circle cx="718.6" cy="771.2" r="5.3"/><circle cx="723.2" cy="770.7" r="5.3"/><circle cx="727.8" cy="770.3" r="5.3"/><circle cx="732.4" cy="770.1" r="5.3"/><circle cx="737.0" cy="770.1" r="5.3"/><circle cx="741.6" cy="770.7" r="5.3"/><circle cx="746.1" cy="770.6" r="5.3"/><circle cx="750.7" cy="771.3" r="5.3"/><circle cx="755.3" cy="771.5" r="5.3"/><circle cx="759.9" cy="771.8" r="5.3"/><circle cx="764.5" cy="771.9" r="5.3"/><circle cx="769.1" cy="772.8" r="5.3"/><circle cx="773.7" cy="772.3" r="5.3"/><circle cx="778.3" cy="772.9" r="5.3"/><circle cx="782.9" cy="773.1" r="5.3"/><circle cx="787.5" cy="773.1" r="5.3"/><circle cx="792.1" cy="773.7" r="5.3"/><circle cx="796.7" cy="773.9" r="5.3"/><circle cx="801.3" cy="774.3" r="5.3"/><circle cx="805.9" cy="774.4" r="5.3"/><circle cx="810.5" cy="774.8" r="5.3"/><circle cx="815.1" cy="774.9" r="5.3"/><circle cx="819.7" cy="775.5" r="5.3"/><circle cx="824.3" cy="776.0" r="5.3"/><circle cx="828.9" cy="775.8" r="5.3"/><circle cx="833.5" cy="776.2" r="5.3"/><circle cx="838.1" cy="776.1" r="5.3"/><circle cx="842.7" cy="776.3" r="5.3"/><circle cx="847.3" cy="776.8" r="5.3"/><circle cx="851.8" cy="776.5" r="5.3"/><circle cx="856.4" cy="776.7" r="5.3"/><circle cx="861.0" cy="776.9" r="5.3"/><circle cx="865.6" cy="777.1" r="5.3"/><circle cx="870.2" cy="776.7" r="5.3"/><circle cx="874.8" cy="776.8" r="5.3"/><circle cx="879.4" cy="777.3" r="5.3"/><circle cx="884.0" cy="777.4" r="5.3"/><circle cx="888.6" cy="777.5" r="5.3"/><circle cx="893.2" cy="777.7" r="5.3"/><circle cx="897.8" cy="777.5" r="5.3"/><circle cx="902.4" cy="778.0" r="5.3"/><circle cx="907.0" cy="777.7" r="5.3"/><circle cx="911.6" cy="778.7" r="5.3"/><circle cx="916.2" cy="778.7" r="5.3"/><circle cx="920.8" cy="778.2" r="5.3"/><circle cx="925.4" cy="778.7" r="5.3"/><circle cx="930.0" cy="779.2" r="5.3"/><circle cx="934.6" cy="778.4" r="5.3"/><circle cx="939.2" cy="778.9" r="5.3"/></g><g fill="#0808f2"><circle cx="318.8" cy="733.3" r="5.3"/><circle cx="323.4" cy="700.4" r="5.3"/><circle cx="327.9" cy="710.9" r="5.3"/><circle cx="332.5" cy="716.7" r="5.3"/><circle cx="337.1" cy="714.8" r="5.3"/><circle cx="341.7" cy="715.1" r="5.3"/><circle cx="346.3" cy="718.5" r="5.3"/><circle cx="350.9" cy="722.9" r="5.3"/><circle cx="355.5" cy="727.5" r="5.3"/><circle cx="360.1" cy="731.5" r="5.3"/><circle cx="364.7" cy="734.5" r="5.3"/><circle cx="369.3" cy="736.1" r="5.3"/><circle cx="373.9" cy="740.2" r="5.3"/><circle cx="378.5" cy="742.6" r="5.3"/><circle cx="383.1" cy="742.6" r="5.3"/><circle cx="387.7" cy="744.1" r="5.3"/><circle cx="392.3" cy="744.3" r="5.3"/><circle cx="396.9" cy="744.1" r="5.3"/><circle cx="401.5" cy="745.5" r="5.3"/><circle cx="406.1" cy="747.6" r="5.3"/><circle cx="410.7" cy="749.3" r="5.3"/><circle cx="415.3" cy="749.3" r="5.3"/><circle cx="419.9" cy="746.5" r="5.3"/><circle cx="424.5" cy="745.2" r="5.3"/><circle cx="429.1" cy="745.7" r="5.3"/><circle cx="433.6" cy="748.4" r="5.3"/><circle cx="438.2" cy="749.6" r="5.3"/><circle cx="442.8" cy="750.7" r="5.3"/><circle cx="447.4" cy="751.5" r="5.3"/><circle cx="452.0" cy="752.9" r="5.3"/><circle cx="456.6" cy="753.7" r="5.3"/><circle cx="461.2" cy="755.5" r="5.3"/><circle cx="465.8" cy="757.2" r="5.3"/><circle cx="470.4" cy="756.8" r="5.3"/><circle cx="475.0" cy="759.1" r="5.3"/><circle cx="479.6" cy="757.1" r="5.3"/><circle cx="484.2" cy="755.7" r="5.3"/><circle cx="488.8" cy="754.4" r="5.3"/><circle cx="493.4" cy="755.6" r="5.3"/><circle cx="498.0" cy="755.8" r="5.3"/><circle cx="502.6" cy="755.8" r="5.3"/><circle cx="507.2" cy="756.2" r="5.3"/><circle cx="511.8" cy="757.1" r="5.3"/><circle cx="516.4" cy="757.4" r="5.3"/><circle cx="521.0" cy="758.9" r="5.3"/><circle cx="525.6" cy="759.1" r="5.3"/><circle cx="530.2" cy="760.3" r="5.3"/><circle cx="534.8" cy="761.3" r="5.3"/><circle cx="539.3" cy="761.7" r="5.3"/><circle cx="543.9" cy="762.9" r="5.3"/><circle cx="548.5" cy="763.9" r="5.3"/><circle cx="553.1" cy="764.6" r="5.3"/><circle cx="557.7" cy="764.7" r="5.3"/><circle cx="562.3" cy="764.7" r="5.3"/><circle cx="566.9" cy="764.7" r="5.3"/><circle cx="571.5" cy="764.9" r="5.3"/><circle cx="576.1" cy="764.5" r="5.3"/><circle cx="580.7" cy="764.3" r="5.3"/><circle cx="585.3" cy="764.6" r="5.3"/><circle cx="589.9" cy="765.2" r="5.3"/><circle cx="594.5" cy="765.3" r="5.3"/><circle cx="599.1" cy="765.3" r="5.3"/><circle cx="603.7" cy="765.6" r="5.3"/><circle cx="608.3" cy="765.4" r="5.3"/><circle cx="612.9" cy="765.9" r="5.3"/><circle cx="617.5" cy="766.1" r="5.3"/><circle cx="622.1" cy="766.5" r="5.3"/><circle cx="626.7" cy="766.6" r="5.3"/><circle cx="631.3" cy="767.1" r="5.3"/><circle cx="635.9" cy="767.4" r="5.3"/><circle cx="640.5" cy="767.2" r="5.3"/><circle cx="645.0" cy="767.9" r="5.3"/><circle cx="649.6" cy="768.1" r="5.3"/><circle cx="654.2" cy="768.1" r="5.3"/><circle cx="658.8" cy="768.2" r="5.3"/><circle cx="663.4" cy="769.0" r="5.3"/><circle cx="668.0" cy="769.4" r="5.3"/><circle cx="672.6" cy="769.5" r="5.3"/><circle cx="677.2" cy="769.8" r="5.3"/><circle cx="681.8" cy="770.2" r="5.3"/><circle cx="686.4" cy="770.9" r="5.3"/><circle cx="691.0" cy="771.1" r="5.3"/><circle cx="695.6" cy="771.1" r="5.3"/><circle cx="700.2" cy="772.0" r="5.3"/><circle cx="704.8" cy="771.7" r="5.3"/><circle cx="709.4" cy="771.1" r="5.3"/><circle cx="714.0" cy="770.7" r="5.3"/><circle cx="718.6" cy="770.7" r="5.3"/><circle cx="723.2" cy="770.3" r="5.3"/><circle cx="727.8" cy="769.9" r="5.3"/><circle cx="732.4" cy="769.7" r="5.3"/><circle cx="737.0" cy="769.7" r="5.3"/><circle cx="741.6" cy="770.2" r="5.3"/><circle cx="746.1" cy="770.2" r="5.3"/><circle cx="750.7" cy="770.9" r="5.3"/><circle cx="755.3" cy="771.1" r="5.3"/><circle cx="759.9" cy="771.4" r="5.3"/><circle cx="764.5" cy="771.5" r="5.3"/><circle cx="769.1" cy="772.4" r="5.3"/><circle cx="773.7" cy="771.9" r="5.3"/><circle cx="778.3" cy="772.5" r="5.3"/><circle cx="782.9" cy="772.7" r="5.3"/><circle cx="787.5" cy="772.7" r="5.3"/><circle cx="792.1" cy="773.3" r="5.3"/><circle cx="796.7" cy="773.5" r="5.3"/><circle cx="801.3" cy="773.9" r="5.3"/><circle cx="805.9" cy="774.0" r="5.3"/><circle cx="810.5" cy="774.4" r="5.3"/><circle cx="815.1" cy="774.5" r="5.3"/><circle cx="819.7" cy="775.1" r="5.3"/><circle cx="824.3" cy="775.6" r="5.3"/><circle cx="828.9" cy="775.4" r="5.3"/><circle cx="833.5" cy="775.8" r="5.3"/><circle cx="838.1" cy="775.7" r="5.3"/><circle cx="842.7" cy="775.9" r="5.3"/><circle cx="847.3" cy="776.4" r="5.3"/><circle cx="851.8" cy="776.1" r="5.3"/><circle cx="856.4" cy="776.4" r="5.3"/><circle cx="861.0" cy="776.5" r="5.3"/><circle cx="865.6" cy="776.8" r="5.3"/><circle cx="870.2" cy="776.3" r="5.3"/><circle cx="874.8" cy="776.4" r="5.3"/><circle cx="879.4" cy="776.9" r="5.3"/><circle cx="884.0" cy="777.1" r="5.3"/><circle cx="888.6" cy="777.2" r="5.3"/><circle cx="893.2" cy="777.4" r="5.3"/><circle cx="897.8" cy="777.2" r="5.3"/><circle cx="902.4" cy="777.7" r="5.3"/><circle cx="907.0" cy="777.4" r="5.3"/><circle cx="911.6" cy="778.3" r="5.3"/><circle cx="916.2" cy="778.4" r="5.3"/><circle cx="920.8" cy="777.9" r="5.3"/><circle cx="925.4" cy="778.3" r="5.3"/><circle cx="930.0" cy="778.9" r="5.3"/><circle cx="934.6" cy="778.0" r="5.3"/><circle cx="939.2" cy="778.5" r="5.3"/></g><circle cx="332.7" cy="545.6" r="4.5" fill="#dc1010"/><circle cx="541.7" cy="545.6" r="4.5" fill="#16e616"/><circle cx="735.2" cy="545.6" r="4.5" fill="#0808f2"/></g>
<g font-family="'Liberation Sans', Arial, sans-serif" font-weight="bold" font-size="33.0" fill="#000" stroke="#000" stroke-width="0.45"><text x="235.5" y="824.6" text-anchor="end" font-size="34.6">0</text><text x="235.5" y="756.8" text-anchor="end" font-size="34.6">1</text><text x="235.5" y="689.0" text-anchor="end" font-size="34.6">2</text><text x="235.5" y="621.2" text-anchor="end" font-size="34.6">3</text><text x="272.8" y="874.2" text-anchor="middle" font-size="34.6">0</text><text x="364.7" y="874.2" text-anchor="middle" font-size="34.6">20</text><text x="456.6" y="874.2" text-anchor="middle" font-size="34.6">40</text><text x="548.5" y="874.2" text-anchor="middle" font-size="34.6">60</text><text x="640.5" y="874.2" text-anchor="middle" font-size="34.6">80</text><text x="732.4" y="874.2" text-anchor="middle" font-size="34.6">100</text><text x="824.3" y="874.2" text-anchor="middle" font-size="34.6">120</text><text x="916.2" y="874.2" text-anchor="middle" font-size="34.6">140</text><text x="1008.1" y="874.2" text-anchor="middle" font-size="34.6">160</text><text x="640.5" y="927.0" text-anchor="middle" textLength="220.9" lengthAdjust="spacingAndGlyphs">No. of Sample</text><text transform="translate(200.3,711.7) rotate(-90)" text-anchor="middle" textLength="96.8" lengthAdjust="spacingAndGlyphs">SE (m)</text><text x="353.4" y="557.0" textLength="137.4" lengthAdjust="spacingAndGlyphs">Crt30.nn</text><text x="560.1" y="557.0" textLength="125.8" lengthAdjust="spacingAndGlyphs">Crt30.bl</text><text x="754.3" y="557.0" textLength="134.1" lengthAdjust="spacingAndGlyphs">Crt30.bc</text></g>
<g><line x1="371.1" y1="1026.2" x2="371.1" y2="1225.6" stroke="#5e5e5e" stroke-width="1.9" stroke-dasharray="6 4.75"/><line x1="462.1" y1="1026.2" x2="462.1" y2="1225.6" stroke="#5e5e5e" stroke-width="1.9" stroke-dasharray="6 4.75"/><line x1="553.2" y1="1026.2" x2="553.2" y2="1225.6" stroke="#5e5e5e" stroke-width="1.9" stroke-dasharray="6 4.75"/><line x1="644.2" y1="1026.2" x2="644.2" y2="1225.6" stroke="#5e5e5e" stroke-width="1.9" stroke-dasharray="6 4.75"/><line x1="735.2" y1="1026.2" x2="735.2" y2="1225.6" stroke="#5e5e5e" stroke-width="1.9" stroke-dasharray="6 4.75"/><line x1="826.3" y1="1026.2" x2="826.3" y2="1225.6" stroke="#5e5e5e" stroke-width="1.9" stroke-dasharray="6 4.75"/><line x1="917.4" y1="1026.2" x2="917.4" y2="1225.6" stroke="#5e5e5e" stroke-width="1.9" stroke-dasharray="6 4.75"/><line x1="280.0" y1="1159.1" x2="1008.4" y2="1159.1" stroke="#6c6c6c" stroke-width="1.9" stroke-dasharray="6.3 4.5 2.3 3.7"/><line x1="280.0" y1="1092.7" x2="1008.4" y2="1092.7" stroke="#6c6c6c" stroke-width="1.9" stroke-dasharray="6.3 4.5 2.3 3.7"/><rect x="280.0" y="1026.2" width="728.4" height="199.4" fill="none" stroke="#1a1a1a" stroke-width="2.7"/><line x1="268.0" y1="1225.6" x2="280.0" y2="1225.6" stroke="#1a1a1a" stroke-width="2.7"/><line x1="268.0" y1="1159.1" x2="280.0" y2="1159.1" stroke="#1a1a1a" stroke-width="2.7"/><line x1="268.0" y1="1092.7" x2="280.0" y2="1092.7" stroke="#1a1a1a" stroke-width="2.7"/><line x1="268.0" y1="1026.2" x2="280.0" y2="1026.2" stroke="#1a1a1a" stroke-width="2.7"/><line x1="280.0" y1="1225.6" x2="280.0" y2="1237.6" stroke="#1a1a1a" stroke-width="2.7"/><line x1="371.1" y1="1225.6" x2="371.1" y2="1237.6" stroke="#1a1a1a" stroke-width="2.7"/><line x1="462.1" y1="1225.6" x2="462.1" y2="1237.6" stroke="#1a1a1a" stroke-width="2.7"/><line x1="553.2" y1="1225.6" x2="553.2" y2="1237.6" stroke="#1a1a1a" stroke-width="2.7"/><line x1="644.2" y1="1225.6" x2="644.2" y2="1237.6" stroke="#1a1a1a" stroke-width="2.7"/><line x1="735.2" y1="1225.6" x2="735.2" y2="1237.6" stroke="#1a1a1a" stroke-width="2.7"/><line x1="826.3" y1="1225.6" x2="826.3" y2="1237.6" stroke="#1a1a1a" stroke-width="2.7"/><line x1="917.4" y1="1225.6" x2="917.4" y2="1237.6" stroke="#1a1a1a" stroke-width="2.7"/><line x1="1008.4" y1="1225.6" x2="1008.4" y2="1237.6" stroke="#1a1a1a" stroke-width="2.7"/><g fill="#dc1010"><circle cx="325.5" cy="1111.3" r="5.3"/><circle cx="330.1" cy="1085.7" r="5.3"/><circle cx="334.6" cy="1100.9" r="5.3"/><circle cx="339.2" cy="1112.3" r="5.3"/><circle cx="343.7" cy="1117.6" r="5.3"/><circle cx="348.3" cy="1121.9" r="5.3"/><circle cx="352.8" cy="1124.7" r="5.3"/><circle cx="357.4" cy="1129.8" r="5.3"/><circle cx="361.9" cy="1134.1" r="5.3"/><circle cx="366.5" cy="1138.5" r="5.3"/><circle cx="371.1" cy="1142.1" r="5.3"/><circle cx="375.6" cy="1145.9" r="5.3"/><circle cx="380.2" cy="1148.0" r="5.3"/><circle cx="384.7" cy="1149.2" r="5.3"/><circle cx="389.3" cy="1150.1" r="5.3"/><circle cx="393.8" cy="1150.6" r="5.3"/><circle cx="398.4" cy="1149.5" r="5.3"/><circle cx="402.9" cy="1149.0" r="5.3"/><circle cx="407.5" cy="1151.8" r="5.3"/><circle cx="412.0" cy="1154.9" r="5.3"/><circle cx="416.6" cy="1157.7" r="5.3"/><circle cx="421.1" cy="1158.8" r="5.3"/><circle cx="425.7" cy="1159.6" r="5.3"/><circle cx="430.2" cy="1160.4" r="5.3"/><circle cx="434.8" cy="1156.6" r="5.3"/><circle cx="439.3" cy="1156.5" r="5.3"/><circle cx="443.9" cy="1158.5" r="5.3"/><circle cx="448.4" cy="1158.8" r="5.3"/><circle cx="453.0" cy="1160.2" r="5.3"/><circle cx="457.5" cy="1161.6" r="5.3"/><circle cx="462.1" cy="1161.6" r="5.3"/><circle cx="466.7" cy="1163.4" r="5.3"/><circle cx="471.2" cy="1167.2" r="5.3"/><circle cx="475.8" cy="1166.6" r="5.3"/><circle cx="480.3" cy="1167.8" r="5.3"/><circle cx="484.9" cy="1167.9" r="5.3"/><circle cx="489.4" cy="1166.0" r="5.3"/><circle cx="494.0" cy="1166.1" r="5.3"/><circle cx="498.5" cy="1165.6" r="5.3"/><circle cx="503.1" cy="1166.6" r="5.3"/><circle cx="507.6" cy="1166.7" r="5.3"/><circle cx="512.2" cy="1167.8" r="5.3"/><circle cx="516.7" cy="1169.3" r="5.3"/><circle cx="521.3" cy="1168.8" r="5.3"/><circle cx="525.8" cy="1170.8" r="5.3"/><circle cx="530.4" cy="1170.7" r="5.3"/><circle cx="534.9" cy="1171.8" r="5.3"/><circle cx="539.5" cy="1173.0" r="5.3"/><circle cx="544.0" cy="1174.5" r="5.3"/><circle cx="548.6" cy="1174.7" r="5.3"/><circle cx="553.2" cy="1175.3" r="5.3"/><circle cx="557.7" cy="1174.9" r="5.3"/><circle cx="562.3" cy="1174.7" r="5.3"/><circle cx="566.8" cy="1173.8" r="5.3"/><circle cx="571.4" cy="1174.1" r="5.3"/><circle cx="575.9" cy="1173.6" r="5.3"/><circle cx="580.5" cy="1174.4" r="5.3"/><circle cx="585.0" cy="1173.9" r="5.3"/><circle cx="589.6" cy="1174.1" r="5.3"/><circle cx="594.1" cy="1175.0" r="5.3"/><circle cx="598.7" cy="1176.0" r="5.3"/><circle cx="603.2" cy="1177.2" r="5.3"/><circle cx="607.8" cy="1177.7" r="5.3"/><circle cx="612.3" cy="1177.3" r="5.3"/><circle cx="616.9" cy="1178.3" r="5.3"/><circle cx="621.4" cy="1178.5" r="5.3"/><circle cx="626.0" cy="1178.4" r="5.3"/><circle cx="630.5" cy="1179.1" r="5.3"/><circle cx="635.1" cy="1179.6" r="5.3"/><circle cx="639.6" cy="1179.6" r="5.3"/><circle cx="644.2" cy="1180.2" r="5.3"/><circle cx="648.8" cy="1180.2" r="5.3"/><circle cx="653.3" cy="1180.7" r="5.3"/><circle cx="657.9" cy="1181.1" r="5.3"/><circle cx="662.4" cy="1180.5" r="5.3"/><circle cx="667.0" cy="1181.0" r="5.3"/><circle cx="671.5" cy="1181.5" r="5.3"/><circle cx="676.1" cy="1181.8" r="5.3"/><circle cx="680.6" cy="1182.3" r="5.3"/><circle cx="685.2" cy="1182.3" r="5.3"/><circle cx="689.7" cy="1182.7" r="5.3"/><circle cx="694.3" cy="1182.4" r="5.3"/><circle cx="698.8" cy="1182.5" r="5.3"/><circle cx="703.4" cy="1183.1" r="5.3"/><circle cx="707.9" cy="1183.1" r="5.3"/><circle cx="712.5" cy="1182.7" r="5.3"/><circle cx="717.0" cy="1182.5" r="5.3"/><circle cx="721.6" cy="1182.1" r="5.3"/><circle cx="726.1" cy="1181.9" r="5.3"/><circle cx="730.7" cy="1181.7" r="5.3"/><circle cx="735.2" cy="1181.4" r="5.3"/><circle cx="739.8" cy="1182.0" r="5.3"/><circle cx="744.4" cy="1181.8" r="5.3"/><circle cx="748.9" cy="1182.7" r="5.3"/><circle cx="753.5" cy="1182.3" r="5.3"/><circle cx="758.0" cy="1182.6" r="5.3"/><circle cx="762.6" cy="1182.7" r="5.3"/><circle cx="767.1" cy="1183.0" r="5.3"/><circle cx="771.7" cy="1183.1" r="5.3"/><circle cx="776.2" cy="1183.8" r="5.3"/><circle cx="780.8" cy="1183.7" r="5.3"/><circle cx="785.3" cy="1184.0" r="5.3"/><circle cx="789.9" cy="1183.9" r="5.3"/><circle cx="794.4" cy="1184.1" r="5.3"/><circle cx="799.0" cy="1184.5" r="5.3"/><circle cx="803.5" cy="1184.7" r="5.3"/><circle cx="808.1" cy="1184.9" r="5.3"/><circle cx="812.6" cy="1185.0" r="5.3"/><circle cx="817.2" cy="1185.1" r="5.3"/><circle cx="821.7" cy="1185.2" r="5.3"/><circle cx="826.3" cy="1185.6" r="5.3"/><circle cx="830.9" cy="1186.0" r="5.3"/><circle cx="835.4" cy="1186.1" r="5.3"/><circle cx="840.0" cy="1185.9" r="5.3"/><circle cx="844.5" cy="1186.5" r="5.3"/><circle cx="849.1" cy="1186.5" r="5.3"/><circle cx="853.6" cy="1187.2" r="5.3"/><circle cx="858.2" cy="1186.6" r="5.3"/><circle cx="862.7" cy="1187.0" r="5.3"/><circle cx="867.3" cy="1187.3" r="5.3"/><circle cx="871.8" cy="1187.4" r="5.3"/><circle cx="876.4" cy="1187.4" r="5.3"/><circle cx="880.9" cy="1187.7" r="5.3"/><circle cx="885.5" cy="1187.8" r="5.3"/><circle cx="890.0" cy="1188.0" r="5.3"/><circle cx="894.6" cy="1188.5" r="5.3"/><circle cx="899.1" cy="1188.8" r="5.3"/><circle cx="903.7" cy="1188.3" r="5.3"/><circle cx="908.2" cy="1188.9" r="5.3"/><circle cx="912.8" cy="1188.6" r="5.3"/><circle cx="917.4" cy="1188.8" r="5.3"/><circle cx="921.9" cy="1189.4" r="5.3"/><circle cx="926.5" cy="1189.6" r="5.3"/><circle cx="931.0" cy="1189.8" r="5.3"/><circle cx="935.6" cy="1189.4" r="5.3"/><circle cx="940.1" cy="1190.0" r="5.3"/></g><g fill="#16e616"><circle cx="325.5" cy="1121.2" r="5.3"/><circle cx="330.1" cy="1096.0" r="5.3"/><circle cx="334.6" cy="1103.4" r="5.3"/><circle cx="339.2" cy="1114.7" r="5.3"/><circle cx="343.7" cy="1120.0" r="5.3"/><circle cx="348.3" cy="1124.3" r="5.3"/><circle cx="352.8" cy="1127.1" r="5.3"/><circle cx="357.4" cy="1132.1" r="5.3"/><circle cx="361.9" cy="1136.4" r="5.3"/><circle cx="366.5" cy="1140.7" r="5.3"/><circle cx="371.1" cy="1144.2" r="5.3"/><circle cx="375.6" cy="1148.1" r="5.3"/><circle cx="380.2" cy="1150.1" r="5.3"/><circle cx="384.7" cy="1151.3" r="5.3"/><circle cx="389.3" cy="1152.1" r="5.3"/><circle cx="393.8" cy="1152.6" r="5.3"/><circle cx="398.4" cy="1151.4" r="5.3"/><circle cx="402.9" cy="1150.9" r="5.3"/><circle cx="407.5" cy="1153.7" r="5.3"/><circle cx="412.0" cy="1156.7" r="5.3"/><circle cx="416.6" cy="1159.4" r="5.3"/><circle cx="421.1" cy="1160.6" r="5.3"/><circle cx="425.7" cy="1161.2" r="5.3"/><circle cx="430.2" cy="1162.0" r="5.3"/><circle cx="434.8" cy="1158.1" r="5.3"/><circle cx="439.3" cy="1158.0" r="5.3"/><circle cx="443.9" cy="1160.0" r="5.3"/><circle cx="448.4" cy="1160.2" r="5.3"/><circle cx="453.0" cy="1161.6" r="5.3"/><circle cx="457.5" cy="1163.0" r="5.3"/><circle cx="462.1" cy="1162.9" r="5.3"/><circle cx="466.7" cy="1164.7" r="5.3"/><circle cx="471.2" cy="1168.5" r="5.3"/><circle cx="475.8" cy="1168.0" r="5.3"/><circle cx="480.3" cy="1169.1" r="5.3"/><circle cx="484.9" cy="1169.2" r="5.3"/><circle cx="489.4" cy="1167.3" r="5.3"/><circle cx="494.0" cy="1167.4" r="5.3"/><circle cx="498.5" cy="1166.9" r="5.3"/><circle cx="503.1" cy="1167.9" r="5.3"/><circle cx="507.6" cy="1168.0" r="5.3"/><circle cx="512.2" cy="1169.1" r="5.3"/><circle cx="516.7" cy="1170.6" r="5.3"/><circle cx="521.3" cy="1170.1" r="5.3"/><circle cx="525.8" cy="1172.1" r="5.3"/><circle cx="530.4" cy="1172.0" r="5.3"/><circle cx="534.9" cy="1173.0" r="5.3"/><circle cx="539.5" cy="1174.2" r="5.3"/><circle cx="544.0" cy="1175.7" r="5.3"/><circle cx="548.6" cy="1175.9" r="5.3"/><circle cx="553.2" cy="1176.6" r="5.3"/><circle cx="557.7" cy="1176.1" r="5.3"/><circle cx="562.3" cy="1175.9" r="5.3"/><circle cx="566.8" cy="1175.0" r="5.3"/><circle cx="571.4" cy="1175.3" r="5.3"/><circle cx="575.9" cy="1174.8" r="5.3"/><circle cx="580.5" cy="1175.6" r="5.3"/><circle cx="585.0" cy="1175.1" r="5.3"/><circle cx="589.6" cy="1175.3" r="5.3"/><circle cx="594.1" cy="1176.1" r="5.3"/><circle cx="598.7" cy="1177.2" r="5.3"/><circle cx="603.2" cy="1178.3" r="5.3"/><circle cx="607.8" cy="1178.8" r="5.3"/><circle cx="612.3" cy="1178.5" r="5.3"/><circle cx="616.9" cy="1179.4" r="5.3"/><circle cx="621.4" cy="1179.7" r="5.3"/><circle cx="626.0" cy="1179.5" r="5.3"/><circle cx="630.5" cy="1180.3" r="5.3"/><circle cx="635.1" cy="1180.8" r="5.3"/><circle cx="639.6" cy="1180.7" r="5.3"/><circle cx="644.2" cy="1181.3" r="5.3"/><circle cx="648.8" cy="1181.3" r="5.3"/><circle cx="653.3" cy="1181.8" r="5.3"/><circle cx="657.9" cy="1182.2" r="5.3"/><circle cx="662.4" cy="1181.6" r="5.3"/><circle cx="667.0" cy="1182.1" r="5.3"/><circle cx="671.5" cy="1182.6" r="5.3"/><circle cx="676.1" cy="1182.9" r="5.3"/><circle cx="680.6" cy="1183.4" r="5.3"/><circle cx="685.2" cy="1183.4" r="5.3"/><circle cx="689.7" cy="1183.8" r="5.3"/><circle cx="694.3" cy="1183.4" r="5.3"/><circle cx="698.8" cy="1183.5" r="5.3"/><circle cx="703.4" cy="1184.1" r="5.3"/><circle cx="707.9" cy="1184.2" r="5.3"/><circle cx="712.5" cy="1183.7" r="5.3"/><circle cx="717.0" cy="1183.5" r="5.3"/><circle cx="721.6" cy="1183.2" r="5.3"/><circle cx="726.1" cy="1182.9" r="5.3"/><circle cx="730.7" cy="1182.7" r="5.3"/><circle cx="735.2" cy="1182.4" r="5.3"/><circle cx="739.8" cy="1183.0" r="5.3"/><circle cx="744.4" cy="1182.8" r="5.3"/><circle cx="748.9" cy="1183.6" r="5.3"/><circle cx="753.5" cy="1183.3" r="5.3"/><circle cx="758.0" cy="1183.6" r="5.3"/><circle cx="762.6" cy="1183.6" r="5.3"/><circle cx="767.1" cy="1184.0" r="5.3"/><circle cx="771.7" cy="1184.0" r="5.3"/><circle cx="776.2" cy="1184.8" r="5.3"/><circle cx="780.8" cy="1184.6" r="5.3"/><circle cx="785.3" cy="1184.9" r="5.3"/><circle cx="789.9" cy="1184.8" r="5.3"/><circle cx="794.4" cy="1185.0" r="5.3"/><circle cx="799.0" cy="1185.4" r="5.3"/><circle cx="803.5" cy="1185.6" r="5.3"/><circle cx="808.1" cy="1185.8" r="5.3"/><circle cx="812.6" cy="1185.9" r="5.3"/><circle cx="817.2" cy="1185.9" r="5.3"/><circle cx="821.7" cy="1186.1" r="5.3"/><circle cx="826.3" cy="1186.5" r="5.3"/><circle cx="830.9" cy="1186.9" r="5.3"/><circle cx="835.4" cy="1187.0" r="5.3"/><circle cx="840.0" cy="1186.8" r="5.3"/><circle cx="844.5" cy="1187.4" r="5.3"/><circle cx="849.1" cy="1187.4" r="5.3"/><circle cx="853.6" cy="1188.1" r="5.3"/><circle cx="858.2" cy="1187.4" r="5.3"/><circle cx="862.7" cy="1187.8" r="5.3"/><circle cx="867.3" cy="1188.1" r="5.3"/><circle cx="871.8" cy="1188.2" r="5.3"/><circle cx="876.4" cy="1188.2" r="5.3"/><circle cx="880.9" cy="1188.5" r="5.3"/><circle cx="885.5" cy="1188.6" r="5.3"/><circle cx="890.0" cy="1188.8" r="5.3"/><circle cx="894.6" cy="1189.3" r="5.3"/><circle cx="899.1" cy="1189.6" r="5.3"/><circle cx="903.7" cy="1189.1" r="5.3"/><circle cx="908.2" cy="1189.7" r="5.3"/><circle cx="912.8" cy="1189.4" r="5.3"/><circle cx="917.4" cy="1189.6" r="5.3"/><circle cx="921.9" cy="1190.2" r="5.3"/><circle cx="926.5" cy="1190.4" r="5.3"/><circle cx="931.0" cy="1190.5" r="5.3"/><circle cx="935.6" cy="1190.1" r="5.3"/><circle cx="940.1" cy="1190.7" r="5.3"/></g><g fill="#0808f2"><circle cx="325.5" cy="1117.9" r="5.3"/><circle cx="330.1" cy="1094.2" r="5.3"/><circle cx="334.6" cy="1102.9" r="5.3"/><circle cx="339.2" cy="1114.2" r="5.3"/><circle cx="343.7" cy="1119.5" r="5.3"/><circle cx="348.3" cy="1123.7" r="5.3"/><circle cx="352.8" cy="1126.5" r="5.3"/><circle cx="357.4" cy="1131.6" r="5.3"/><circle cx="361.9" cy="1135.9" r="5.3"/><circle cx="366.5" cy="1140.2" r="5.3"/><circle cx="371.1" cy="1143.7" r="5.3"/><circle cx="375.6" cy="1147.6" r="5.3"/><circle cx="380.2" cy="1149.6" r="5.3"/><circle cx="384.7" cy="1150.7" r="5.3"/><circle cx="389.3" cy="1151.6" r="5.3"/><circle cx="393.8" cy="1152.0" r="5.3"/><circle cx="398.4" cy="1150.9" r="5.3"/><circle cx="402.9" cy="1150.4" r="5.3"/><circle cx="407.5" cy="1153.1" r="5.3"/><circle cx="412.0" cy="1156.2" r="5.3"/><circle cx="416.6" cy="1158.9" r="5.3"/><circle cx="421.1" cy="1160.0" r="5.3"/><circle cx="425.7" cy="1160.7" r="5.3"/><circle cx="430.2" cy="1161.5" r="5.3"/><circle cx="434.8" cy="1157.6" r="5.3"/><circle cx="439.3" cy="1157.5" r="5.3"/><circle cx="443.9" cy="1159.4" r="5.3"/><circle cx="448.4" cy="1159.7" r="5.3"/><circle cx="453.0" cy="1161.1" r="5.3"/><circle cx="457.5" cy="1162.5" r="5.3"/><circle cx="462.1" cy="1162.4" r="5.3"/><circle cx="466.7" cy="1164.2" r="5.3"/><circle cx="471.2" cy="1168.0" r="5.3"/><circle cx="475.8" cy="1167.4" r="5.3"/><circle cx="480.3" cy="1168.6" r="5.3"/><circle cx="484.9" cy="1168.7" r="5.3"/><circle cx="489.4" cy="1166.8" r="5.3"/><circle cx="494.0" cy="1166.8" r="5.3"/><circle cx="498.5" cy="1166.4" r="5.3"/><circle cx="503.1" cy="1167.4" r="5.3"/><circle cx="507.6" cy="1167.5" r="5.3"/><circle cx="512.2" cy="1168.6" r="5.3"/><circle cx="516.7" cy="1170.1" r="5.3"/><circle cx="521.3" cy="1169.6" r="5.3"/><circle cx="525.8" cy="1171.6" r="5.3"/><circle cx="530.4" cy="1171.5" r="5.3"/><circle cx="534.9" cy="1172.5" r="5.3"/><circle cx="539.5" cy="1173.7" r="5.3"/><circle cx="544.0" cy="1175.2" r="5.3"/><circle cx="548.6" cy="1175.4" r="5.3"/><circle cx="553.2" cy="1176.1" r="5.3"/><circle cx="557.7" cy="1175.6" r="5.3"/><circle cx="562.3" cy="1175.4" r="5.3"/><circle cx="566.8" cy="1174.5" r="5.3"/><circle cx="571.4" cy="1174.8" r="5.3"/><circle cx="575.9" cy="1174.3" r="5.3"/><circle cx="580.5" cy="1175.1" r="5.3"/><circle cx="585.0" cy="1174.6" r="5.3"/><circle cx="589.6" cy="1174.8" r="5.3"/><circle cx="594.1" cy="1175.6" r="5.3"/><circle cx="598.7" cy="1176.7" r="5.3"/><circle cx="603.2" cy="1177.8" r="5.3"/><circle cx="607.8" cy="1178.3" r="5.3"/><circle cx="612.3" cy="1178.0" r="5.3"/><circle cx="616.9" cy="1178.9" r="5.3"/><circle cx="621.4" cy="1179.2" r="5.3"/><circle cx="626.0" cy="1179.1" r="5.3"/><circle cx="630.5" cy="1179.8" r="5.3"/><circle cx="635.1" cy="1180.3" r="5.3"/><circle cx="639.6" cy="1180.3" r="5.3"/><circle cx="644.2" cy="1180.9" r="5.3"/><circle cx="648.8" cy="1180.8" r="5.3"/><circle cx="653.3" cy="1181.4" r="5.3"/><circle cx="657.9" cy="1181.7" r="5.3"/><circle cx="662.4" cy="1181.1" r="5.3"/><circle cx="667.0" cy="1181.6" r="5.3"/><circle cx="671.5" cy="1182.1" r="5.3"/><circle cx="676.1" cy="1182.4" r="5.3"/><circle cx="680.6" cy="1182.9" r="5.3"/><circle cx="685.2" cy="1182.9" r="5.3"/><circle cx="689.7" cy="1183.3" r="5.3"/><circle cx="694.3" cy="1183.0" r="5.3"/><circle cx="698.8" cy="1183.1" r="5.3"/><circle cx="703.4" cy="1183.7" r="5.3"/><circle cx="707.9" cy="1183.7" r="5.3"/><circle cx="712.5" cy="1183.3" r="5.3"/><circle cx="717.0" cy="1183.1" r="5.3"/><circle cx="721.6" cy="1182.7" r="5.3"/><circle cx="726.1" cy="1182.5" r="5.3"/><circle cx="730.7" cy="1182.3" r="5.3"/><circle cx="735.2" cy="1182.0" r="5.3"/><circle cx="739.8" cy="1182.6" r="5.3"/><circle cx="744.4" cy="1182.3" r="5.3"/><circle cx="748.9" cy="1183.2" r="5.3"/><circle cx="753.5" cy="1182.9" r="5.3"/><circle cx="758.0" cy="1183.2" r="5.3"/><circle cx="762.6" cy="1183.2" r="5.3"/><circle cx="767.1" cy="1183.6" r="5.3"/><circle cx="771.7" cy="1183.6" r="5.3"/><circle cx="776.2" cy="1184.3" r="5.3"/><circle cx="780.8" cy="1184.2" r="5.3"/><circle cx="785.3" cy="1184.5" r="5.3"/><circle cx="789.9" cy="1184.4" r="5.3"/><circle cx="794.4" cy="1184.6" r="5.3"/><circle cx="799.0" cy="1185.0" r="5.3"/><circle cx="803.5" cy="1185.2" r="5.3"/><circle cx="808.1" cy="1185.5" r="5.3"/><circle cx="812.6" cy="1185.5" r="5.3"/><circle cx="817.2" cy="1185.6" r="5.3"/><circle cx="821.7" cy="1185.7" r="5.3"/><circle cx="826.3" cy="1186.1" r="5.3"/><circle cx="830.9" cy="1186.5" r="5.3"/><circle cx="835.4" cy="1186.6" r="5.3"/><circle cx="840.0" cy="1186.4" r="5.3"/><circle cx="844.5" cy="1187.0" r="5.3"/><circle cx="849.1" cy="1187.0" r="5.3"/><circle cx="853.6" cy="1187.7" r="5.3"/><circle cx="858.2" cy="1187.1" r="5.3"/><circle cx="862.7" cy="1187.4" r="5.3"/><circle cx="867.3" cy="1187.8" r="5.3"/><circle cx="871.8" cy="1187.8" r="5.3"/><circle cx="876.4" cy="1187.8" r="5.3"/><circle cx="880.9" cy="1188.2" r="5.3"/><circle cx="885.5" cy="1188.3" r="5.3"/><circle cx="890.0" cy="1188.5" r="5.3"/><circle cx="894.6" cy="1189.0" r="5.3"/><circle cx="899.1" cy="1189.3" r="5.3"/><circle cx="903.7" cy="1188.8" r="5.3"/><circle cx="908.2" cy="1189.3" r="5.3"/><circle cx="912.8" cy="1189.1" r="5.3"/><circle cx="917.4" cy="1189.2" r="5.3"/><circle cx="921.9" cy="1189.8" r="5.3"/><circle cx="926.5" cy="1190.0" r="5.3"/><circle cx="931.0" cy="1190.2" r="5.3"/><circle cx="935.6" cy="1189.8" r="5.3"/><circle cx="940.1" cy="1190.4" r="5.3"/></g><circle cx="343.3" cy="960.6" r="4.5" fill="#dc1010"/><circle cx="544.9" cy="960.6" r="4.5" fill="#16e616"/><circle cx="735.9" cy="960.6" r="4.5" fill="#0808f2"/></g>
<g font-family="'Liberation Sans', Arial, sans-serif" font-weight="bold" font-size="33.0" fill="#000" stroke="#000" stroke-width="0.45"><text x="242.7" y="1237.6" text-anchor="end" font-size="34.6">0</text><text x="242.7" y="1171.1" text-anchor="end" font-size="34.6">1</text><text x="242.7" y="1104.7" text-anchor="end" font-size="34.6">2</text><text x="242.7" y="1038.2" text-anchor="end" font-size="34.6">3</text><text x="280.0" y="1286.0" text-anchor="middle" font-size="34.6">0</text><text x="371.1" y="1286.0" text-anchor="middle" font-size="34.6">20</text><text x="462.1" y="1286.0" text-anchor="middle" font-size="34.6">40</text><text x="553.2" y="1286.0" text-anchor="middle" font-size="34.6">60</text><text x="644.2" y="1286.0" text-anchor="middle" font-size="34.6">80</text><text x="735.2" y="1286.0" text-anchor="middle" font-size="34.6">100</text><text x="826.3" y="1286.0" text-anchor="middle" font-size="34.6">120</text><text x="917.4" y="1286.0" text-anchor="middle" font-size="34.6">140</text><text x="1008.4" y="1286.0" text-anchor="middle" font-size="34.6">160</text><text x="644.2" y="1337.7" text-anchor="middle" textLength="218.8" lengthAdjust="spacingAndGlyphs">No. of Sample</text><text transform="translate(208.1,1126.7) rotate(-90)" text-anchor="middle" textLength="94.9" lengthAdjust="spacingAndGlyphs">SE (m)</text><text x="364.0" y="972.0" textLength="133.4" lengthAdjust="spacingAndGlyphs">Srt30.nn</text><text x="564.5" y="972.0" textLength="124.0" lengthAdjust="spacingAndGlyphs">Srt30.bl</text><text x="756.1" y="972.0" textLength="131.2" lengthAdjust="spacingAndGlyphs">Srt30.bc</text></g>
<g><line x1="371.1" y1="1439.9" x2="371.1" y2="1639.6" stroke="#5e5e5e" stroke-width="1.9" stroke-dasharray="6 4.75"/><line x1="462.1" y1="1439.9" x2="462.1" y2="1639.6" stroke="#5e5e5e" stroke-width="1.9" stroke-dasharray="6 4.75"/><line x1="553.2" y1="1439.9" x2="553.2" y2="1639.6" stroke="#5e5e5e" stroke-width="1.9" stroke-dasharray="6 4.75"/><line x1="644.2" y1="1439.9" x2="644.2" y2="1639.6" stroke="#5e5e5e" stroke-width="1.9" stroke-dasharray="6 4.75"/><line x1="735.2" y1="1439.9" x2="735.2" y2="1639.6" stroke="#5e5e5e" stroke-width="1.9" stroke-dasharray="6 4.75"/><line x1="826.3" y1="1439.9" x2="826.3" y2="1639.6" stroke="#5e5e5e" stroke-width="1.9" stroke-dasharray="6 4.75"/><line x1="917.4" y1="1439.9" x2="917.4" y2="1639.6" stroke="#5e5e5e" stroke-width="1.9" stroke-dasharray="6 4.75"/><line x1="280.0" y1="1573.0" x2="1008.4" y2="1573.0" stroke="#6c6c6c" stroke-width="1.9" stroke-dasharray="6.3 4.5 2.3 3.7"/><line x1="280.0" y1="1506.5" x2="1008.4" y2="1506.5" stroke="#6c6c6c" stroke-width="1.9" stroke-dasharray="6.3 4.5 2.3 3.7"/><rect x="280.0" y="1439.9" width="728.4" height="199.7" fill="none" stroke="#1a1a1a" stroke-width="2.7"/><line x1="268.0" y1="1639.6" x2="280.0" y2="1639.6" stroke="#1a1a1a" stroke-width="2.7"/><line x1="268.0" y1="1573.0" x2="280.0" y2="1573.0" stroke="#1a1a1a" stroke-width="2.7"/><line x1="268.0" y1="1506.5" x2="280.0" y2="1506.5" stroke="#1a1a1a" stroke-width="2.7"/><line x1="268.0" y1="1439.9" x2="280.0" y2="1439.9" stroke="#1a1a1a" stroke-width="2.7"/><line x1="280.0" y1="1639.6" x2="280.0" y2="1651.6" stroke="#1a1a1a" stroke-width="2.7"/><line x1="371.1" y1="1639.6" x2="371.1" y2="1651.6" stroke="#1a1a1a" stroke-width="2.7"/><line x1="462.1" y1="1639.6" x2="462.1" y2="1651.6" stroke="#1a1a1a" stroke-width="2.7"/><line x1="553.2" y1="1639.6" x2="553.2" y2="1651.6" stroke="#1a1a1a" stroke-width="2.7"/><line x1="644.2" y1="1639.6" x2="644.2" y2="1651.6" stroke="#1a1a1a" stroke-width="2.7"/><line x1="735.2" y1="1639.6" x2="735.2" y2="1651.6" stroke="#1a1a1a" stroke-width="2.7"/><line x1="826.3" y1="1639.6" x2="826.3" y2="1651.6" stroke="#1a1a1a" stroke-width="2.7"/><line x1="917.4" y1="1639.6" x2="917.4" y2="1651.6" stroke="#1a1a1a" stroke-width="2.7"/><line x1="1008.4" y1="1639.6" x2="1008.4" y2="1651.6" stroke="#1a1a1a" stroke-width="2.7"/><g fill="#dc1010"><circle cx="325.5" cy="1533.8" r="5.3"/><circle cx="330.1" cy="1510.5" r="5.3"/><circle cx="334.6" cy="1522.8" r="5.3"/><circle cx="339.2" cy="1530.2" r="5.3"/><circle cx="343.7" cy="1536.1" r="5.3"/><circle cx="348.3" cy="1540.1" r="5.3"/><circle cx="352.8" cy="1544.6" r="5.3"/><circle cx="357.4" cy="1549.5" r="5.3"/><circle cx="361.9" cy="1554.4" r="5.3"/><circle cx="366.5" cy="1557.5" r="5.3"/><circle cx="371.1" cy="1560.9" r="5.3"/><circle cx="375.6" cy="1564.3" r="5.3"/><circle cx="380.2" cy="1566.5" r="5.3"/><circle cx="384.7" cy="1567.0" r="5.3"/><circle cx="389.3" cy="1569.1" r="5.3"/><circle cx="393.8" cy="1567.9" r="5.3"/><circle cx="398.4" cy="1568.6" r="5.3"/><circle cx="402.9" cy="1569.5" r="5.3"/><circle cx="407.5" cy="1571.4" r="5.3"/><circle cx="412.0" cy="1574.0" r="5.3"/><circle cx="416.6" cy="1576.0" r="5.3"/><circle cx="421.1" cy="1575.1" r="5.3"/><circle cx="425.7" cy="1576.3" r="5.3"/><circle cx="430.2" cy="1577.4" r="5.3"/><circle cx="434.8" cy="1571.6" r="5.3"/><circle cx="439.3" cy="1572.7" r="5.3"/><circle cx="443.9" cy="1573.3" r="5.3"/><circle cx="448.4" cy="1573.4" r="5.3"/><circle cx="453.0" cy="1576.0" r="5.3"/><circle cx="457.5" cy="1577.2" r="5.3"/><circle cx="462.1" cy="1577.8" r="5.3"/><circle cx="466.7" cy="1581.0" r="5.3"/><circle cx="471.2" cy="1582.3" r="5.3"/><circle cx="475.8" cy="1582.4" r="5.3"/><circle cx="480.3" cy="1584.7" r="5.3"/><circle cx="484.9" cy="1584.9" r="5.3"/><circle cx="489.4" cy="1581.6" r="5.3"/><circle cx="494.0" cy="1581.6" r="5.3"/><circle cx="498.5" cy="1581.2" r="5.3"/><circle cx="503.1" cy="1583.3" r="5.3"/><circle cx="507.6" cy="1582.7" r="5.3"/><circle cx="512.2" cy="1583.8" r="5.3"/><circle cx="516.7" cy="1584.3" r="5.3"/><circle cx="521.3" cy="1585.9" r="5.3"/><circle cx="525.8" cy="1585.5" r="5.3"/><circle cx="530.4" cy="1586.5" r="5.3"/><circle cx="534.9" cy="1587.4" r="5.3"/><circle cx="539.5" cy="1588.1" r="5.3"/><circle cx="544.0" cy="1589.7" r="5.3"/><circle cx="548.6" cy="1589.9" r="5.3"/><circle cx="553.2" cy="1590.3" r="5.3"/><circle cx="557.7" cy="1590.2" r="5.3"/><circle cx="562.3" cy="1591.2" r="5.3"/><circle cx="566.8" cy="1589.7" r="5.3"/><circle cx="571.4" cy="1589.3" r="5.3"/><circle cx="575.9" cy="1589.5" r="5.3"/><circle cx="580.5" cy="1588.7" r="5.3"/><circle cx="585.0" cy="1587.9" r="5.3"/><circle cx="589.6" cy="1588.8" r="5.3"/><circle cx="594.1" cy="1588.7" r="5.3"/><circle cx="598.7" cy="1589.9" r="5.3"/><circle cx="603.2" cy="1590.4" r="5.3"/><circle cx="607.8" cy="1590.7" r="5.3"/><circle cx="612.3" cy="1591.5" r="5.3"/><circle cx="616.9" cy="1592.2" r="5.3"/><circle cx="621.4" cy="1592.1" r="5.3"/><circle cx="626.0" cy="1592.7" r="5.3"/><circle cx="630.5" cy="1593.0" r="5.3"/><circle cx="635.1" cy="1593.9" r="5.3"/><circle cx="639.6" cy="1594.3" r="5.3"/><circle cx="644.2" cy="1594.6" r="5.3"/><circle cx="648.8" cy="1595.3" r="5.3"/><circle cx="653.3" cy="1595.5" r="5.3"/><circle cx="657.9" cy="1595.8" r="5.3"/><circle cx="662.4" cy="1596.4" r="5.3"/><circle cx="667.0" cy="1596.5" r="5.3"/><circle cx="671.5" cy="1597.2" r="5.3"/><circle cx="676.1" cy="1597.1" r="5.3"/><circle cx="680.6" cy="1596.8" r="5.3"/><circle cx="685.2" cy="1597.7" r="5.3"/><circle cx="689.7" cy="1598.3" r="5.3"/><circle cx="694.3" cy="1599.0" r="5.3"/><circle cx="698.8" cy="1599.2" r="5.3"/><circle cx="703.4" cy="1599.3" r="5.3"/><circle cx="707.9" cy="1599.8" r="5.3"/><circle cx="712.5" cy="1599.0" r="5.3"/><circle cx="717.0" cy="1598.7" r="5.3"/><circle cx="721.6" cy="1598.1" r="5.3"/><circle cx="726.1" cy="1597.9" r="5.3"/><circle cx="730.7" cy="1597.2" r="5.3"/><circle cx="735.2" cy="1596.6" r="5.3"/><circle cx="739.8" cy="1597.4" r="5.3"/><circle cx="744.4" cy="1597.4" r="5.3"/><circle cx="748.9" cy="1597.6" r="5.3"/><circle cx="753.5" cy="1597.8" r="5.3"/><circle cx="758.0" cy="1597.7" r="5.3"/><circle cx="762.6" cy="1598.3" r="5.3"/><circle cx="767.1" cy="1598.6" r="5.3"/><circle cx="771.7" cy="1599.0" r="5.3"/><circle cx="776.2" cy="1599.2" r="5.3"/><circle cx="780.8" cy="1599.0" r="5.3"/><circle cx="785.3" cy="1599.0" r="5.3"/><circle cx="789.9" cy="1599.4" r="5.3"/><circle cx="794.4" cy="1599.8" r="5.3"/><circle cx="799.0" cy="1599.9" r="5.3"/><circle cx="803.5" cy="1600.3" r="5.3"/><circle cx="808.1" cy="1600.0" r="5.3"/><circle cx="812.6" cy="1600.4" r="5.3"/><circle cx="817.2" cy="1600.3" r="5.3"/><circle cx="821.7" cy="1600.7" r="5.3"/><circle cx="826.3" cy="1600.9" r="5.3"/><circle cx="830.9" cy="1601.4" r="5.3"/><circle cx="835.4" cy="1601.2" r="5.3"/><circle cx="840.0" cy="1601.6" r="5.3"/><circle cx="844.5" cy="1601.8" r="5.3"/><circle cx="849.1" cy="1601.7" r="5.3"/><circle cx="853.6" cy="1601.5" r="5.3"/><circle cx="858.2" cy="1601.9" r="5.3"/><circle cx="862.7" cy="1601.6" r="5.3"/><circle cx="867.3" cy="1602.1" r="5.3"/><circle cx="871.8" cy="1602.8" r="5.3"/><circle cx="876.4" cy="1602.7" r="5.3"/><circle cx="880.9" cy="1602.2" r="5.3"/><circle cx="885.5" cy="1602.7" r="5.3"/><circle cx="890.0" cy="1603.0" r="5.3"/><circle cx="894.6" cy="1603.2" r="5.3"/><circle cx="899.1" cy="1603.2" r="5.3"/><circle cx="903.7" cy="1603.3" r="5.3"/><circle cx="908.2" cy="1603.6" r="5.3"/><circle cx="912.8" cy="1603.7" r="5.3"/><circle cx="917.4" cy="1603.7" r="5.3"/><circle cx="921.9" cy="1604.2" r="5.3"/><circle cx="926.5" cy="1604.2" r="5.3"/><circle cx="931.0" cy="1604.4" r="5.3"/><circle cx="935.6" cy="1604.5" r="5.3"/><circle cx="940.1" cy="1604.7" r="5.3"/></g><g fill="#16e616"><circle cx="325.5" cy="1547.1" r="5.3"/><circle cx="330.1" cy="1519.8" r="5.3"/><circle cx="334.6" cy="1525.6" r="5.3"/><circle cx="339.2" cy="1533.0" r="5.3"/><circle cx="343.7" cy="1538.9" r="5.3"/><circle cx="348.3" cy="1542.9" r="5.3"/><circle cx="352.8" cy="1547.3" r="5.3"/><circle cx="357.4" cy="1552.2" r="5.3"/><circle cx="361.9" cy="1557.0" r="5.3"/><circle cx="366.5" cy="1560.1" r="5.3"/><circle cx="371.1" cy="1563.5" r="5.3"/><circle cx="375.6" cy="1566.8" r="5.3"/><circle cx="380.2" cy="1568.9" r="5.3"/><circle cx="384.7" cy="1569.4" r="5.3"/><circle cx="389.3" cy="1571.4" r="5.3"/><circle cx="393.8" cy="1570.2" r="5.3"/><circle cx="398.4" cy="1570.8" r="5.3"/><circle cx="402.9" cy="1571.7" r="5.3"/><circle cx="407.5" cy="1573.6" r="5.3"/><circle cx="412.0" cy="1576.1" r="5.3"/><circle cx="416.6" cy="1578.0" r="5.3"/><circle cx="421.1" cy="1577.1" r="5.3"/><circle cx="425.7" cy="1578.2" r="5.3"/><circle cx="430.2" cy="1579.3" r="5.3"/><circle cx="434.8" cy="1573.4" r="5.3"/><circle cx="439.3" cy="1574.4" r="5.3"/><circle cx="443.9" cy="1575.0" r="5.3"/><circle cx="448.4" cy="1575.1" r="5.3"/><circle cx="453.0" cy="1577.6" r="5.3"/><circle cx="457.5" cy="1578.8" r="5.3"/><circle cx="462.1" cy="1579.3" r="5.3"/><circle cx="466.7" cy="1582.6" r="5.3"/><circle cx="471.2" cy="1583.8" r="5.3"/><circle cx="475.8" cy="1583.9" r="5.3"/><circle cx="480.3" cy="1586.3" r="5.3"/><circle cx="484.9" cy="1586.4" r="5.3"/><circle cx="489.4" cy="1583.1" r="5.3"/><circle cx="494.0" cy="1583.1" r="5.3"/><circle cx="498.5" cy="1582.7" r="5.3"/><circle cx="503.1" cy="1584.8" r="5.3"/><circle cx="507.6" cy="1584.2" r="5.3"/><circle cx="512.2" cy="1585.3" r="5.3"/><circle cx="516.7" cy="1585.8" r="5.3"/><circle cx="521.3" cy="1587.4" r="5.3"/><circle cx="525.8" cy="1587.0" r="5.3"/><circle cx="530.4" cy="1587.9" r="5.3"/><circle cx="534.9" cy="1588.8" r="5.3"/><circle cx="539.5" cy="1589.6" r="5.3"/><circle cx="544.0" cy="1591.1" r="5.3"/><circle cx="548.6" cy="1591.3" r="5.3"/><circle cx="553.2" cy="1591.7" r="5.3"/><circle cx="557.7" cy="1591.6" r="5.3"/><circle cx="562.3" cy="1592.6" r="5.3"/><circle cx="566.8" cy="1591.0" r="5.3"/><circle cx="571.4" cy="1590.6" r="5.3"/><circle cx="575.9" cy="1590.8" r="5.3"/><circle cx="580.5" cy="1590.1" r="5.3"/><circle cx="585.0" cy="1589.2" r="5.3"/><circle cx="589.6" cy="1590.1" r="5.3"/><circle cx="594.1" cy="1590.0" r="5.3"/><circle cx="598.7" cy="1591.2" r="5.3"/><circle cx="603.2" cy="1591.7" r="5.3"/><circle cx="607.8" cy="1592.0" r="5.3"/><circle cx="612.3" cy="1592.8" r="5.3"/><circle cx="616.9" cy="1593.5" r="5.3"/><circle cx="621.4" cy="1593.4" r="5.3"/><circle cx="626.0" cy="1594.0" r="5.3"/><circle cx="630.5" cy="1594.3" r="5.3"/><circle cx="635.1" cy="1595.2" r="5.3"/><circle cx="639.6" cy="1595.6" r="5.3"/><circle cx="644.2" cy="1595.8" r="5.3"/><circle cx="648.8" cy="1596.5" r="5.3"/><circle cx="653.3" cy="1596.8" r="5.3"/><circle cx="657.9" cy="1597.0" r="5.3"/><circle cx="662.4" cy="1597.6" r="5.3"/><circle cx="667.0" cy="1597.7" r="5.3"/><circle cx="671.5" cy="1598.5" r="5.3"/><circle cx="676.1" cy="1598.3" r="5.3"/><circle cx="680.6" cy="1598.0" r="5.3"/><circle cx="685.2" cy="1598.9" r="5.3"/><circle cx="689.7" cy="1599.5" r="5.3"/><circle cx="694.3" cy="1600.2" r="5.3"/><circle cx="698.8" cy="1600.4" r="5.3"/><circle cx="703.4" cy="1600.5" r="5.3"/><circle cx="707.9" cy="1601.0" r="5.3"/><circle cx="712.5" cy="1600.2" r="5.3"/><circle cx="717.0" cy="1599.8" r="5.3"/><circle cx="721.6" cy="1599.2" r="5.3"/><circle cx="726.1" cy="1599.0" r="5.3"/><circle cx="730.7" cy="1598.3" r="5.3"/><circle cx="735.2" cy="1597.7" r="5.3"/><circle cx="739.8" cy="1598.5" r="5.3"/><circle cx="744.4" cy="1598.5" r="5.3"/><circle cx="748.9" cy="1598.7" r="5.3"/><circle cx="753.5" cy="1598.9" r="5.3"/><circle cx="758.0" cy="1598.8" r="5.3"/><circle cx="762.6" cy="1599.4" r="5.3"/><circle cx="767.1" cy="1599.7" r="5.3"/><circle cx="771.7" cy="1600.0" r="5.3"/><circle cx="776.2" cy="1600.3" r="5.3"/><circle cx="780.8" cy="1600.1" r="5.3"/><circle cx="785.3" cy="1600.0" r="5.3"/><circle cx="789.9" cy="1600.4" r="5.3"/><circle cx="794.4" cy="1600.9" r="5.3"/><circle cx="799.0" cy="1600.9" r="5.3"/><circle cx="803.5" cy="1601.3" r="5.3"/><circle cx="808.1" cy="1601.0" r="5.3"/><circle cx="812.6" cy="1601.4" r="5.3"/><circle cx="817.2" cy="1601.3" r="5.3"/><circle cx="821.7" cy="1601.7" r="5.3"/><circle cx="826.3" cy="1601.9" r="5.3"/><circle cx="830.9" cy="1602.4" r="5.3"/><circle cx="835.4" cy="1602.2" r="5.3"/><circle cx="840.0" cy="1602.5" r="5.3"/><circle cx="844.5" cy="1602.7" r="5.3"/><circle cx="849.1" cy="1602.6" r="5.3"/><circle cx="853.6" cy="1602.4" r="5.3"/><circle cx="858.2" cy="1602.8" r="5.3"/><circle cx="862.7" cy="1602.6" r="5.3"/><circle cx="867.3" cy="1603.0" r="5.3"/><circle cx="871.8" cy="1603.7" r="5.3"/><circle cx="876.4" cy="1603.6" r="5.3"/><circle cx="880.9" cy="1603.1" r="5.3"/><circle cx="885.5" cy="1603.6" r="5.3"/><circle cx="890.0" cy="1603.8" r="5.3"/><circle cx="894.6" cy="1604.1" r="5.3"/><circle cx="899.1" cy="1604.1" r="5.3"/><circle cx="903.7" cy="1604.1" r="5.3"/><circle cx="908.2" cy="1604.5" r="5.3"/><circle cx="912.8" cy="1604.5" r="5.3"/><circle cx="917.4" cy="1604.6" r="5.3"/><circle cx="921.9" cy="1605.1" r="5.3"/><circle cx="926.5" cy="1605.0" r="5.3"/><circle cx="931.0" cy="1605.2" r="5.3"/><circle cx="935.6" cy="1605.3" r="5.3"/><circle cx="940.1" cy="1605.5" r="5.3"/></g><g fill="#0808f2"><circle cx="325.5" cy="1543.7" r="5.3"/><circle cx="330.1" cy="1517.1" r="5.3"/><circle cx="334.6" cy="1525.1" r="5.3"/><circle cx="339.2" cy="1532.5" r="5.3"/><circle cx="343.7" cy="1538.4" r="5.3"/><circle cx="348.3" cy="1542.3" r="5.3"/><circle cx="352.8" cy="1546.7" r="5.3"/><circle cx="357.4" cy="1551.7" r="5.3"/><circle cx="361.9" cy="1556.5" r="5.3"/><circle cx="366.5" cy="1559.5" r="5.3"/><circle cx="371.1" cy="1562.9" r="5.3"/><circle cx="375.6" cy="1566.3" r="5.3"/><circle cx="380.2" cy="1568.4" r="5.3"/><circle cx="384.7" cy="1568.9" r="5.3"/><circle cx="389.3" cy="1570.9" r="5.3"/><circle cx="393.8" cy="1569.6" r="5.3"/><circle cx="398.4" cy="1570.3" r="5.3"/><circle cx="402.9" cy="1571.1" r="5.3"/><circle cx="407.5" cy="1573.0" r="5.3"/><circle cx="412.0" cy="1575.6" r="5.3"/><circle cx="416.6" cy="1577.5" r="5.3"/><circle cx="421.1" cy="1576.5" r="5.3"/><circle cx="425.7" cy="1577.7" r="5.3"/><circle cx="430.2" cy="1578.8" r="5.3"/><circle cx="434.8" cy="1572.9" r="5.3"/><circle cx="439.3" cy="1573.9" r="5.3"/><circle cx="443.9" cy="1574.5" r="5.3"/><circle cx="448.4" cy="1574.6" r="5.3"/><circle cx="453.0" cy="1577.1" r="5.3"/><circle cx="457.5" cy="1578.3" r="5.3"/><circle cx="462.1" cy="1578.8" r="5.3"/><circle cx="466.7" cy="1582.0" r="5.3"/><circle cx="471.2" cy="1583.3" r="5.3"/><circle cx="475.8" cy="1583.4" r="5.3"/><circle cx="480.3" cy="1585.7" r="5.3"/><circle cx="484.9" cy="1585.8" r="5.3"/><circle cx="489.4" cy="1582.6" r="5.3"/><circle cx="494.0" cy="1582.6" r="5.3"/><circle cx="498.5" cy="1582.1" r="5.3"/><circle cx="503.1" cy="1584.3" r="5.3"/><circle cx="507.6" cy="1583.7" r="5.3"/><circle cx="512.2" cy="1584.7" r="5.3"/><circle cx="516.7" cy="1585.3" r="5.3"/><circle cx="521.3" cy="1586.9" r="5.3"/><circle cx="525.8" cy="1586.5" r="5.3"/><circle cx="530.4" cy="1587.4" r="5.3"/><circle cx="534.9" cy="1588.3" r="5.3"/><circle cx="539.5" cy="1589.1" r="5.3"/><circle cx="544.0" cy="1590.6" r="5.3"/><circle cx="548.6" cy="1590.8" r="5.3"/><circle cx="553.2" cy="1591.2" r="5.3"/><circle cx="557.7" cy="1591.1" r="5.3"/><circle cx="562.3" cy="1592.1" r="5.3"/><circle cx="566.8" cy="1590.5" r="5.3"/><circle cx="571.4" cy="1590.1" r="5.3"/><circle cx="575.9" cy="1590.3" r="5.3"/><circle cx="580.5" cy="1589.6" r="5.3"/><circle cx="585.0" cy="1588.7" r="5.3"/><circle cx="589.6" cy="1589.6" r="5.3"/><circle cx="594.1" cy="1589.6" r="5.3"/><circle cx="598.7" cy="1590.7" r="5.3"/><circle cx="603.2" cy="1591.3" r="5.3"/><circle cx="607.8" cy="1591.5" r="5.3"/><circle cx="612.3" cy="1592.3" r="5.3"/><circle cx="616.9" cy="1593.0" r="5.3"/><circle cx="621.4" cy="1592.9" r="5.3"/><circle cx="626.0" cy="1593.5" r="5.3"/><circle cx="630.5" cy="1593.9" r="5.3"/><circle cx="635.1" cy="1594.7" r="5.3"/><circle cx="639.6" cy="1595.1" r="5.3"/><circle cx="644.2" cy="1595.3" r="5.3"/><circle cx="648.8" cy="1596.1" r="5.3"/><circle cx="653.3" cy="1596.3" r="5.3"/><circle cx="657.9" cy="1596.5" r="5.3"/><circle cx="662.4" cy="1597.1" r="5.3"/><circle cx="667.0" cy="1597.2" r="5.3"/><circle cx="671.5" cy="1598.0" r="5.3"/><circle cx="676.1" cy="1597.8" r="5.3"/><circle cx="680.6" cy="1597.6" r="5.3"/><circle cx="685.2" cy="1598.5" r="5.3"/><circle cx="689.7" cy="1599.1" r="5.3"/><circle cx="694.3" cy="1599.7" r="5.3"/><circle cx="698.8" cy="1600.0" r="5.3"/><circle cx="703.4" cy="1600.1" r="5.3"/><circle cx="707.9" cy="1600.5" r="5.3"/><circle cx="712.5" cy="1599.8" r="5.3"/><circle cx="717.0" cy="1599.4" r="5.3"/><circle cx="721.6" cy="1598.8" r="5.3"/><circle cx="726.1" cy="1598.6" r="5.3"/><circle cx="730.7" cy="1597.9" r="5.3"/><circle cx="735.2" cy="1597.3" r="5.3"/><circle cx="739.8" cy="1598.1" r="5.3"/><circle cx="744.4" cy="1598.1" r="5.3"/><circle cx="748.9" cy="1598.3" r="5.3"/><circle cx="753.5" cy="1598.5" r="5.3"/><circle cx="758.0" cy="1598.4" r="5.3"/><circle cx="762.6" cy="1599.0" r="5.3"/><circle cx="767.1" cy="1599.3" r="5.3"/><circle cx="771.7" cy="1599.6" r="5.3"/><circle cx="776.2" cy="1599.8" r="5.3"/><circle cx="780.8" cy="1599.7" r="5.3"/><circle cx="785.3" cy="1599.6" r="5.3"/><circle cx="789.9" cy="1600.0" r="5.3"/><circle cx="794.4" cy="1600.5" r="5.3"/><circle cx="799.0" cy="1600.5" r="5.3"/><circle cx="803.5" cy="1600.9" r="5.3"/><circle cx="808.1" cy="1600.6" r="5.3"/><circle cx="812.6" cy="1601.0" r="5.3"/><circle cx="817.2" cy="1600.9" r="5.3"/><circle cx="821.7" cy="1601.3" r="5.3"/><circle cx="826.3" cy="1601.5" r="5.3"/><circle cx="830.9" cy="1602.0" r="5.3"/><circle cx="835.4" cy="1601.8" r="5.3"/><circle cx="840.0" cy="1602.2" r="5.3"/><circle cx="844.5" cy="1602.3" r="5.3"/><circle cx="849.1" cy="1602.3" r="5.3"/><circle cx="853.6" cy="1602.0" r="5.3"/><circle cx="858.2" cy="1602.5" r="5.3"/><circle cx="862.7" cy="1602.2" r="5.3"/><circle cx="867.3" cy="1602.7" r="5.3"/><circle cx="871.8" cy="1603.3" r="5.3"/><circle cx="876.4" cy="1603.3" r="5.3"/><circle cx="880.9" cy="1602.8" r="5.3"/><circle cx="885.5" cy="1603.2" r="5.3"/><circle cx="890.0" cy="1603.5" r="5.3"/><circle cx="894.6" cy="1603.8" r="5.3"/><circle cx="899.1" cy="1603.7" r="5.3"/><circle cx="903.7" cy="1603.8" r="5.3"/><circle cx="908.2" cy="1604.2" r="5.3"/><circle cx="912.8" cy="1604.2" r="5.3"/><circle cx="917.4" cy="1604.2" r="5.3"/><circle cx="921.9" cy="1604.7" r="5.3"/><circle cx="926.5" cy="1604.6" r="5.3"/><circle cx="931.0" cy="1604.9" r="5.3"/><circle cx="935.6" cy="1605.0" r="5.3"/><circle cx="940.1" cy="1605.2" r="5.3"/></g><circle cx="343.3" cy="1375.6" r="4.5" fill="#dc1010"/><circle cx="544.9" cy="1375.6" r="4.5" fill="#16e616"/><circle cx="735.9" cy="1375.6" r="4.5" fill="#0808f2"/></g>
<g font-family="'Liberation Sans', Arial, sans-serif" font-weight="bold" font-size="33.0" fill="#000" stroke="#000" stroke-width="0.45"><text x="242.7" y="1651.6" text-anchor="end" font-size="34.6">0</text><text x="242.7" y="1585.0" text-anchor="end" font-size="34.6">1</text><text x="242.7" y="1518.5" text-anchor="end" font-size="34.6">2</text><text x="242.7" y="1451.9" text-anchor="end" font-size="34.6">3</text><text x="280.0" y="1700.1" text-anchor="middle" font-size="34.6">0</text><text x="371.1" y="1700.1" text-anchor="middle" font-size="34.6">20</text><text x="462.1" y="1700.1" text-anchor="middle" font-size="34.6">40</text><text x="553.2" y="1700.1" text-anchor="middle" font-size="34.6">60</text><text x="644.2" y="1700.1" text-anchor="middle" font-size="34.6">80</text><text x="735.2" y="1700.1" text-anchor="middle" font-size="34.6">100</text><text x="826.3" y="1700.1" text-anchor="middle" font-size="34.6">120</text><text x="917.4" y="1700.1" text-anchor="middle" font-size="34.6">140</text><text x="1008.4" y="1700.1" text-anchor="middle" font-size="34.6">160</text><text x="644.2" y="1751.9" text-anchor="middle" textLength="218.8" lengthAdjust="spacingAndGlyphs">No. of Sample</text><text transform="translate(208.1,1540.5) rotate(-90)" text-anchor="middle" textLength="95.1" lengthAdjust="spacingAndGlyphs">SE (m)</text><text x="364.0" y="1387.0" textLength="133.4" lengthAdjust="spacingAndGlyphs">Srt90.nn</text><text x="564.5" y="1387.0" textLength="124.0" lengthAdjust="spacingAndGlyphs">Srt90.bl</text><text x="756.1" y="1387.0" textLength="131.2" lengthAdjust="spacingAndGlyphs">Srt90.bc</text></g>
<g><line x1="375.3" y1="1872.9" x2="375.3" y2="2072.1" stroke="#5e5e5e" stroke-width="1.9" stroke-dasharray="6 4.75"/><line x1="466.0" y1="1872.9" x2="466.0" y2="2072.1" stroke="#5e5e5e" stroke-width="1.9" stroke-dasharray="6 4.75"/><line x1="556.7" y1="1872.9" x2="556.7" y2="2072.1" stroke="#5e5e5e" stroke-width="1.9" stroke-dasharray="6 4.75"/><line x1="647.4" y1="1872.9" x2="647.4" y2="2072.1" stroke="#5e5e5e" stroke-width="1.9" stroke-dasharray="6 4.75"/><line x1="738.1" y1="1872.9" x2="738.1" y2="2072.1" stroke="#5e5e5e" stroke-width="1.9" stroke-dasharray="6 4.75"/><line x1="828.8" y1="1872.9" x2="828.8" y2="2072.1" stroke="#5e5e5e" stroke-width="1.9" stroke-dasharray="6 4.75"/><line x1="919.5" y1="1872.9" x2="919.5" y2="2072.1" stroke="#5e5e5e" stroke-width="1.9" stroke-dasharray="6 4.75"/><line x1="284.6" y1="2005.7" x2="1010.2" y2="2005.7" stroke="#6c6c6c" stroke-width="1.9" stroke-dasharray="6.3 4.5 2.3 3.7"/><line x1="284.6" y1="1939.3" x2="1010.2" y2="1939.3" stroke="#6c6c6c" stroke-width="1.9" stroke-dasharray="6.3 4.5 2.3 3.7"/><rect x="284.6" y="1872.9" width="725.6" height="199.2" fill="none" stroke="#1a1a1a" stroke-width="2.7"/><line x1="272.6" y1="2072.1" x2="284.6" y2="2072.1" stroke="#1a1a1a" stroke-width="2.7"/><line x1="272.6" y1="2005.7" x2="284.6" y2="2005.7" stroke="#1a1a1a" stroke-width="2.7"/><line x1="272.6" y1="1939.3" x2="284.6" y2="1939.3" stroke="#1a1a1a" stroke-width="2.7"/><line x1="272.6" y1="1872.9" x2="284.6" y2="1872.9" stroke="#1a1a1a" stroke-width="2.7"/><line x1="284.6" y1="2072.1" x2="284.6" y2="2084.1" stroke="#1a1a1a" stroke-width="2.7"/><line x1="375.3" y1="2072.1" x2="375.3" y2="2084.1" stroke="#1a1a1a" stroke-width="2.7"/><line x1="466.0" y1="2072.1" x2="466.0" y2="2084.1" stroke="#1a1a1a" stroke-width="2.7"/><line x1="556.7" y1="2072.1" x2="556.7" y2="2084.1" stroke="#1a1a1a" stroke-width="2.7"/><line x1="647.4" y1="2072.1" x2="647.4" y2="2084.1" stroke="#1a1a1a" stroke-width="2.7"/><line x1="738.1" y1="2072.1" x2="738.1" y2="2084.1" stroke="#1a1a1a" stroke-width="2.7"/><line x1="828.8" y1="2072.1" x2="828.8" y2="2084.1" stroke="#1a1a1a" stroke-width="2.7"/><line x1="919.5" y1="2072.1" x2="919.5" y2="2084.1" stroke="#1a1a1a" stroke-width="2.7"/><line x1="1010.2" y1="2072.1" x2="1010.2" y2="2084.1" stroke="#1a1a1a" stroke-width="2.7"/><g fill="#dc1010"><circle cx="330.0" cy="1972.8" r="5.3"/><circle cx="334.5" cy="1950.2" r="5.3"/><circle cx="339.0" cy="1960.4" r="5.3"/><circle cx="343.6" cy="1968.7" r="5.3"/><circle cx="348.1" cy="1975.2" r="5.3"/><circle cx="352.6" cy="1977.5" r="5.3"/><circle cx="357.2" cy="1981.9" r="5.3"/><circle cx="361.7" cy="1985.8" r="5.3"/><circle cx="366.2" cy="1990.1" r="5.3"/><circle cx="370.8" cy="1993.1" r="5.3"/><circle cx="375.3" cy="1997.2" r="5.3"/><circle cx="379.8" cy="1999.3" r="5.3"/><circle cx="384.4" cy="2001.6" r="5.3"/><circle cx="388.9" cy="2003.2" r="5.3"/><circle cx="393.4" cy="2006.2" r="5.3"/><circle cx="398.0" cy="2001.9" r="5.3"/><circle cx="402.5" cy="2002.4" r="5.3"/><circle cx="407.0" cy="2004.3" r="5.3"/><circle cx="411.6" cy="2005.9" r="5.3"/><circle cx="416.1" cy="2008.5" r="5.3"/><circle cx="420.7" cy="2010.1" r="5.3"/><circle cx="425.2" cy="2010.7" r="5.3"/><circle cx="429.7" cy="2012.4" r="5.3"/><circle cx="434.3" cy="2010.9" r="5.3"/><circle cx="438.8" cy="2006.6" r="5.3"/><circle cx="443.3" cy="2006.0" r="5.3"/><circle cx="447.9" cy="2008.1" r="5.3"/><circle cx="452.4" cy="2009.1" r="5.3"/><circle cx="456.9" cy="2009.4" r="5.3"/><circle cx="461.5" cy="2012.3" r="5.3"/><circle cx="466.0" cy="2013.8" r="5.3"/><circle cx="470.5" cy="2014.9" r="5.3"/><circle cx="475.1" cy="2016.0" r="5.3"/><circle cx="479.6" cy="2019.5" r="5.3"/><circle cx="484.1" cy="2018.6" r="5.3"/><circle cx="488.7" cy="2018.1" r="5.3"/><circle cx="493.2" cy="2013.9" r="5.3"/><circle cx="497.7" cy="2014.5" r="5.3"/><circle cx="502.3" cy="2014.8" r="5.3"/><circle cx="506.8" cy="2015.1" r="5.3"/><circle cx="511.4" cy="2016.6" r="5.3"/><circle cx="515.9" cy="2017.6" r="5.3"/><circle cx="520.4" cy="2018.3" r="5.3"/><circle cx="525.0" cy="2019.0" r="5.3"/><circle cx="529.5" cy="2019.2" r="5.3"/><circle cx="534.0" cy="2020.1" r="5.3"/><circle cx="538.6" cy="2021.0" r="5.3"/><circle cx="543.1" cy="2021.2" r="5.3"/><circle cx="547.6" cy="2022.6" r="5.3"/><circle cx="552.2" cy="2023.4" r="5.3"/><circle cx="556.7" cy="2022.5" r="5.3"/><circle cx="561.2" cy="2023.5" r="5.3"/><circle cx="565.8" cy="2022.2" r="5.3"/><circle cx="570.3" cy="2022.6" r="5.3"/><circle cx="574.8" cy="2022.3" r="5.3"/><circle cx="579.4" cy="2021.7" r="5.3"/><circle cx="583.9" cy="2021.9" r="5.3"/><circle cx="588.4" cy="2021.9" r="5.3"/><circle cx="593.0" cy="2022.1" r="5.3"/><circle cx="597.5" cy="2022.7" r="5.3"/><circle cx="602.0" cy="2022.8" r="5.3"/><circle cx="606.6" cy="2022.9" r="5.3"/><circle cx="611.1" cy="2024.2" r="5.3"/><circle cx="615.7" cy="2024.6" r="5.3"/><circle cx="620.2" cy="2024.6" r="5.3"/><circle cx="624.7" cy="2025.1" r="5.3"/><circle cx="629.3" cy="2025.4" r="5.3"/><circle cx="633.8" cy="2026.4" r="5.3"/><circle cx="638.3" cy="2026.5" r="5.3"/><circle cx="642.9" cy="2027.1" r="5.3"/><circle cx="647.4" cy="2027.9" r="5.3"/><circle cx="651.9" cy="2027.9" r="5.3"/><circle cx="656.5" cy="2028.7" r="5.3"/><circle cx="661.0" cy="2028.5" r="5.3"/><circle cx="665.5" cy="2029.1" r="5.3"/><circle cx="670.1" cy="2029.3" r="5.3"/><circle cx="674.6" cy="2029.0" r="5.3"/><circle cx="679.1" cy="2029.5" r="5.3"/><circle cx="683.7" cy="2030.1" r="5.3"/><circle cx="688.2" cy="2030.4" r="5.3"/><circle cx="692.8" cy="2031.0" r="5.3"/><circle cx="697.3" cy="2030.8" r="5.3"/><circle cx="701.8" cy="2031.2" r="5.3"/><circle cx="706.4" cy="2031.9" r="5.3"/><circle cx="710.9" cy="2032.5" r="5.3"/><circle cx="715.4" cy="2032.3" r="5.3"/><circle cx="720.0" cy="2031.6" r="5.3"/><circle cx="724.5" cy="2030.6" r="5.3"/><circle cx="729.0" cy="2030.3" r="5.3"/><circle cx="733.6" cy="2029.4" r="5.3"/><circle cx="738.1" cy="2028.3" r="5.3"/><circle cx="742.6" cy="2028.6" r="5.3"/><circle cx="747.2" cy="2028.6" r="5.3"/><circle cx="751.7" cy="2028.8" r="5.3"/><circle cx="756.2" cy="2029.5" r="5.3"/><circle cx="760.8" cy="2030.1" r="5.3"/><circle cx="765.3" cy="2029.6" r="5.3"/><circle cx="769.8" cy="2030.0" r="5.3"/><circle cx="774.4" cy="2030.0" r="5.3"/><circle cx="778.9" cy="2030.9" r="5.3"/><circle cx="783.5" cy="2030.5" r="5.3"/><circle cx="788.0" cy="2030.6" r="5.3"/><circle cx="792.5" cy="2031.0" r="5.3"/><circle cx="797.1" cy="2030.9" r="5.3"/><circle cx="801.6" cy="2031.2" r="5.3"/><circle cx="806.1" cy="2031.4" r="5.3"/><circle cx="810.7" cy="2031.3" r="5.3"/><circle cx="815.2" cy="2031.5" r="5.3"/><circle cx="819.7" cy="2031.7" r="5.3"/><circle cx="824.3" cy="2032.2" r="5.3"/><circle cx="828.8" cy="2032.4" r="5.3"/><circle cx="833.3" cy="2032.5" r="5.3"/><circle cx="837.9" cy="2032.8" r="5.3"/><circle cx="842.4" cy="2033.3" r="5.3"/><circle cx="846.9" cy="2033.3" r="5.3"/><circle cx="851.5" cy="2033.4" r="5.3"/><circle cx="856.0" cy="2033.9" r="5.3"/><circle cx="860.5" cy="2034.3" r="5.3"/><circle cx="865.1" cy="2034.1" r="5.3"/><circle cx="869.6" cy="2034.7" r="5.3"/><circle cx="874.2" cy="2035.1" r="5.3"/><circle cx="878.7" cy="2035.0" r="5.3"/><circle cx="883.2" cy="2035.6" r="5.3"/><circle cx="887.8" cy="2035.3" r="5.3"/><circle cx="892.3" cy="2035.8" r="5.3"/><circle cx="896.8" cy="2035.9" r="5.3"/><circle cx="901.4" cy="2035.8" r="5.3"/><circle cx="905.9" cy="2036.1" r="5.3"/><circle cx="910.4" cy="2036.6" r="5.3"/><circle cx="915.0" cy="2037.4" r="5.3"/><circle cx="919.5" cy="2037.1" r="5.3"/><circle cx="924.0" cy="2037.5" r="5.3"/><circle cx="928.6" cy="2037.2" r="5.3"/><circle cx="933.1" cy="2037.3" r="5.3"/><circle cx="937.6" cy="2037.8" r="5.3"/><circle cx="942.2" cy="2038.0" r="5.3"/></g><g fill="#16e616"><circle cx="330.0" cy="1983.8" r="5.3"/><circle cx="334.5" cy="1957.9" r="5.3"/><circle cx="339.0" cy="1963.3" r="5.3"/><circle cx="343.6" cy="1971.5" r="5.3"/><circle cx="348.1" cy="1978.0" r="5.3"/><circle cx="352.6" cy="1980.2" r="5.3"/><circle cx="357.2" cy="1984.6" r="5.3"/><circle cx="361.7" cy="1988.4" r="5.3"/><circle cx="366.2" cy="1992.7" r="5.3"/><circle cx="370.8" cy="1995.7" r="5.3"/><circle cx="375.3" cy="1999.7" r="5.3"/><circle cx="379.8" cy="2001.8" r="5.3"/><circle cx="384.4" cy="2004.1" r="5.3"/><circle cx="388.9" cy="2005.6" r="5.3"/><circle cx="393.4" cy="2008.5" r="5.3"/><circle cx="398.0" cy="2004.1" r="5.3"/><circle cx="402.5" cy="2004.6" r="5.3"/><circle cx="407.0" cy="2006.5" r="5.3"/><circle cx="411.6" cy="2008.0" r="5.3"/><circle cx="416.1" cy="2010.6" r="5.3"/><circle cx="420.7" cy="2012.1" r="5.3"/><circle cx="425.2" cy="2012.7" r="5.3"/><circle cx="429.7" cy="2014.3" r="5.3"/><circle cx="434.3" cy="2012.8" r="5.3"/><circle cx="438.8" cy="2008.5" r="5.3"/><circle cx="443.3" cy="2007.8" r="5.3"/><circle cx="447.9" cy="2009.9" r="5.3"/><circle cx="452.4" cy="2010.8" r="5.3"/><circle cx="456.9" cy="2011.0" r="5.3"/><circle cx="461.5" cy="2013.9" r="5.3"/><circle cx="466.0" cy="2015.4" r="5.3"/><circle cx="470.5" cy="2016.4" r="5.3"/><circle cx="475.1" cy="2017.5" r="5.3"/><circle cx="479.6" cy="2021.0" r="5.3"/><circle cx="484.1" cy="2020.1" r="5.3"/><circle cx="488.7" cy="2019.6" r="5.3"/><circle cx="493.2" cy="2015.4" r="5.3"/><circle cx="497.7" cy="2016.0" r="5.3"/><circle cx="502.3" cy="2016.3" r="5.3"/><circle cx="506.8" cy="2016.6" r="5.3"/><circle cx="511.4" cy="2018.1" r="5.3"/><circle cx="515.9" cy="2019.1" r="5.3"/><circle cx="520.4" cy="2019.8" r="5.3"/><circle cx="525.0" cy="2020.5" r="5.3"/><circle cx="529.5" cy="2020.6" r="5.3"/><circle cx="534.0" cy="2021.5" r="5.3"/><circle cx="538.6" cy="2022.4" r="5.3"/><circle cx="543.1" cy="2022.6" r="5.3"/><circle cx="547.6" cy="2024.0" r="5.3"/><circle cx="552.2" cy="2024.8" r="5.3"/><circle cx="556.7" cy="2023.9" r="5.3"/><circle cx="561.2" cy="2024.9" r="5.3"/><circle cx="565.8" cy="2023.6" r="5.3"/><circle cx="570.3" cy="2024.0" r="5.3"/><circle cx="574.8" cy="2023.7" r="5.3"/><circle cx="579.4" cy="2023.0" r="5.3"/><circle cx="583.9" cy="2023.2" r="5.3"/><circle cx="588.4" cy="2023.3" r="5.3"/><circle cx="593.0" cy="2023.5" r="5.3"/><circle cx="597.5" cy="2024.0" r="5.3"/><circle cx="602.0" cy="2024.1" r="5.3"/><circle cx="606.6" cy="2024.2" r="5.3"/><circle cx="611.1" cy="2025.5" r="5.3"/><circle cx="615.7" cy="2025.9" r="5.3"/><circle cx="620.2" cy="2025.9" r="5.3"/><circle cx="624.7" cy="2026.4" r="5.3"/><circle cx="629.3" cy="2026.7" r="5.3"/><circle cx="633.8" cy="2027.6" r="5.3"/><circle cx="638.3" cy="2027.7" r="5.3"/><circle cx="642.9" cy="2028.4" r="5.3"/><circle cx="647.4" cy="2029.2" r="5.3"/><circle cx="651.9" cy="2029.1" r="5.3"/><circle cx="656.5" cy="2030.0" r="5.3"/><circle cx="661.0" cy="2029.7" r="5.3"/><circle cx="665.5" cy="2030.3" r="5.3"/><circle cx="670.1" cy="2030.5" r="5.3"/><circle cx="674.6" cy="2030.2" r="5.3"/><circle cx="679.1" cy="2030.7" r="5.3"/><circle cx="683.7" cy="2031.3" r="5.3"/><circle cx="688.2" cy="2031.6" r="5.3"/><circle cx="692.8" cy="2032.2" r="5.3"/><circle cx="697.3" cy="2032.0" r="5.3"/><circle cx="701.8" cy="2032.4" r="5.3"/><circle cx="706.4" cy="2033.1" r="5.3"/><circle cx="710.9" cy="2033.6" r="5.3"/><circle cx="715.4" cy="2033.5" r="5.3"/><circle cx="720.0" cy="2032.7" r="5.3"/><circle cx="724.5" cy="2031.7" r="5.3"/><circle cx="729.0" cy="2031.4" r="5.3"/><circle cx="733.6" cy="2030.6" r="5.3"/><circle cx="738.1" cy="2029.5" r="5.3"/><circle cx="742.6" cy="2029.7" r="5.3"/><circle cx="747.2" cy="2029.7" r="5.3"/><circle cx="751.7" cy="2029.9" r="5.3"/><circle cx="756.2" cy="2030.6" r="5.3"/><circle cx="760.8" cy="2031.1" r="5.3"/><circle cx="765.3" cy="2030.7" r="5.3"/><circle cx="769.8" cy="2031.1" r="5.3"/><circle cx="774.4" cy="2031.0" r="5.3"/><circle cx="778.9" cy="2032.0" r="5.3"/><circle cx="783.5" cy="2031.5" r="5.3"/><circle cx="788.0" cy="2031.7" r="5.3"/><circle cx="792.5" cy="2032.0" r="5.3"/><circle cx="797.1" cy="2031.9" r="5.3"/><circle cx="801.6" cy="2032.2" r="5.3"/><circle cx="806.1" cy="2032.4" r="5.3"/><circle cx="810.7" cy="2032.3" r="5.3"/><circle cx="815.2" cy="2032.5" r="5.3"/><circle cx="819.7" cy="2032.7" r="5.3"/><circle cx="824.3" cy="2033.1" r="5.3"/><circle cx="828.8" cy="2033.4" r="5.3"/><circle cx="833.3" cy="2033.5" r="5.3"/><circle cx="837.9" cy="2033.8" r="5.3"/><circle cx="842.4" cy="2034.3" r="5.3"/><circle cx="846.9" cy="2034.2" r="5.3"/><circle cx="851.5" cy="2034.3" r="5.3"/><circle cx="856.0" cy="2034.9" r="5.3"/><circle cx="860.5" cy="2035.3" r="5.3"/><circle cx="865.1" cy="2035.1" r="5.3"/><circle cx="869.6" cy="2035.6" r="5.3"/><circle cx="874.2" cy="2036.0" r="5.3"/><circle cx="878.7" cy="2035.9" r="5.3"/><circle cx="883.2" cy="2036.5" r="5.3"/><circle cx="887.8" cy="2036.2" r="5.3"/><circle cx="892.3" cy="2036.7" r="5.3"/><circle cx="896.8" cy="2036.7" r="5.3"/><circle cx="901.4" cy="2036.7" r="5.3"/><circle cx="905.9" cy="2036.9" r="5.3"/><circle cx="910.4" cy="2037.4" r="5.3"/><circle cx="915.0" cy="2038.2" r="5.3"/><circle cx="919.5" cy="2038.0" r="5.3"/><circle cx="924.0" cy="2038.4" r="5.3"/><circle cx="928.6" cy="2038.1" r="5.3"/><circle cx="933.1" cy="2038.1" r="5.3"/><circle cx="937.6" cy="2038.6" r="5.3"/><circle cx="942.2" cy="2038.8" r="5.3"/></g><g fill="#0808f2"><circle cx="330.0" cy="1981.8" r="5.3"/><circle cx="334.5" cy="1955.7" r="5.3"/><circle cx="339.0" cy="1962.8" r="5.3"/><circle cx="343.6" cy="1970.9" r="5.3"/><circle cx="348.1" cy="1977.5" r="5.3"/><circle cx="352.6" cy="1979.6" r="5.3"/><circle cx="357.2" cy="1984.1" r="5.3"/><circle cx="361.7" cy="1987.9" r="5.3"/><circle cx="366.2" cy="1992.2" r="5.3"/><circle cx="370.8" cy="1995.2" r="5.3"/><circle cx="375.3" cy="1999.2" r="5.3"/><circle cx="379.8" cy="2001.3" r="5.3"/><circle cx="384.4" cy="2003.5" r="5.3"/><circle cx="388.9" cy="2005.1" r="5.3"/><circle cx="393.4" cy="2008.0" r="5.3"/><circle cx="398.0" cy="2003.6" r="5.3"/><circle cx="402.5" cy="2004.0" r="5.3"/><circle cx="407.0" cy="2006.0" r="5.3"/><circle cx="411.6" cy="2007.5" r="5.3"/><circle cx="416.1" cy="2010.1" r="5.3"/><circle cx="420.7" cy="2011.6" r="5.3"/><circle cx="425.2" cy="2012.1" r="5.3"/><circle cx="429.7" cy="2013.8" r="5.3"/><circle cx="434.3" cy="2012.3" r="5.3"/><circle cx="438.8" cy="2007.9" r="5.3"/><circle cx="443.3" cy="2007.3" r="5.3"/><circle cx="447.9" cy="2009.3" r="5.3"/><circle cx="452.4" cy="2010.2" r="5.3"/><circle cx="456.9" cy="2010.5" r="5.3"/><circle cx="461.5" cy="2013.3" r="5.3"/><circle cx="466.0" cy="2014.8" r="5.3"/><circle cx="470.5" cy="2015.9" r="5.3"/><circle cx="475.1" cy="2017.0" r="5.3"/><circle cx="479.6" cy="2020.5" r="5.3"/><circle cx="484.1" cy="2019.6" r="5.3"/><circle cx="488.7" cy="2019.0" r="5.3"/><circle cx="493.2" cy="2014.9" r="5.3"/><circle cx="497.7" cy="2015.5" r="5.3"/><circle cx="502.3" cy="2015.8" r="5.3"/><circle cx="506.8" cy="2016.1" r="5.3"/><circle cx="511.4" cy="2017.6" r="5.3"/><circle cx="515.9" cy="2018.6" r="5.3"/><circle cx="520.4" cy="2019.3" r="5.3"/><circle cx="525.0" cy="2020.0" r="5.3"/><circle cx="529.5" cy="2020.1" r="5.3"/><circle cx="534.0" cy="2021.0" r="5.3"/><circle cx="538.6" cy="2021.9" r="5.3"/><circle cx="543.1" cy="2022.1" r="5.3"/><circle cx="547.6" cy="2023.5" r="5.3"/><circle cx="552.2" cy="2024.3" r="5.3"/><circle cx="556.7" cy="2023.4" r="5.3"/><circle cx="561.2" cy="2024.4" r="5.3"/><circle cx="565.8" cy="2023.1" r="5.3"/><circle cx="570.3" cy="2023.5" r="5.3"/><circle cx="574.8" cy="2023.2" r="5.3"/><circle cx="579.4" cy="2022.5" r="5.3"/><circle cx="583.9" cy="2022.7" r="5.3"/><circle cx="588.4" cy="2022.8" r="5.3"/><circle cx="593.0" cy="2023.0" r="5.3"/><circle cx="597.5" cy="2023.5" r="5.3"/><circle cx="602.0" cy="2023.6" r="5.3"/><circle cx="606.6" cy="2023.8" r="5.3"/><circle cx="611.1" cy="2025.0" r="5.3"/><circle cx="615.7" cy="2025.4" r="5.3"/><circle cx="620.2" cy="2025.4" r="5.3"/><circle cx="624.7" cy="2025.9" r="5.3"/><circle cx="629.3" cy="2026.2" r="5.3"/><circle cx="633.8" cy="2027.2" r="5.3"/><circle cx="638.3" cy="2027.3" r="5.3"/><circle cx="642.9" cy="2027.9" r="5.3"/><circle cx="647.4" cy="2028.7" r="5.3"/><circle cx="651.9" cy="2028.7" r="5.3"/><circle cx="656.5" cy="2029.5" r="5.3"/><circle cx="661.0" cy="2029.3" r="5.3"/><circle cx="665.5" cy="2029.8" r="5.3"/><circle cx="670.1" cy="2030.1" r="5.3"/><circle cx="674.6" cy="2029.8" r="5.3"/><circle cx="679.1" cy="2030.2" r="5.3"/><circle cx="683.7" cy="2030.8" r="5.3"/><circle cx="688.2" cy="2031.1" r="5.3"/><circle cx="692.8" cy="2031.7" r="5.3"/><circle cx="697.3" cy="2031.5" r="5.3"/><circle cx="701.8" cy="2032.0" r="5.3"/><circle cx="706.4" cy="2032.7" r="5.3"/><circle cx="710.9" cy="2033.2" r="5.3"/><circle cx="715.4" cy="2033.1" r="5.3"/><circle cx="720.0" cy="2032.3" r="5.3"/><circle cx="724.5" cy="2031.3" r="5.3"/><circle cx="729.0" cy="2031.0" r="5.3"/><circle cx="733.6" cy="2030.1" r="5.3"/><circle cx="738.1" cy="2029.0" r="5.3"/><circle cx="742.6" cy="2029.3" r="5.3"/><circle cx="747.2" cy="2029.3" r="5.3"/><circle cx="751.7" cy="2029.4" r="5.3"/><circle cx="756.2" cy="2030.1" r="5.3"/><circle cx="760.8" cy="2030.7" r="5.3"/><circle cx="765.3" cy="2030.3" r="5.3"/><circle cx="769.8" cy="2030.7" r="5.3"/><circle cx="774.4" cy="2030.6" r="5.3"/><circle cx="778.9" cy="2031.6" r="5.3"/><circle cx="783.5" cy="2031.1" r="5.3"/><circle cx="788.0" cy="2031.3" r="5.3"/><circle cx="792.5" cy="2031.6" r="5.3"/><circle cx="797.1" cy="2031.5" r="5.3"/><circle cx="801.6" cy="2031.8" r="5.3"/><circle cx="806.1" cy="2032.0" r="5.3"/><circle cx="810.7" cy="2031.9" r="5.3"/><circle cx="815.2" cy="2032.1" r="5.3"/><circle cx="819.7" cy="2032.4" r="5.3"/><circle cx="824.3" cy="2032.8" r="5.3"/><circle cx="828.8" cy="2033.0" r="5.3"/><circle cx="833.3" cy="2033.1" r="5.3"/><circle cx="837.9" cy="2033.4" r="5.3"/><circle cx="842.4" cy="2033.9" r="5.3"/><circle cx="846.9" cy="2033.8" r="5.3"/><circle cx="851.5" cy="2033.9" r="5.3"/><circle cx="856.0" cy="2034.5" r="5.3"/><circle cx="860.5" cy="2034.9" r="5.3"/><circle cx="865.1" cy="2034.7" r="5.3"/><circle cx="869.6" cy="2035.3" r="5.3"/><circle cx="874.2" cy="2035.7" r="5.3"/><circle cx="878.7" cy="2035.6" r="5.3"/><circle cx="883.2" cy="2036.1" r="5.3"/><circle cx="887.8" cy="2035.9" r="5.3"/><circle cx="892.3" cy="2036.3" r="5.3"/><circle cx="896.8" cy="2036.4" r="5.3"/><circle cx="901.4" cy="2036.3" r="5.3"/><circle cx="905.9" cy="2036.6" r="5.3"/><circle cx="910.4" cy="2037.1" r="5.3"/><circle cx="915.0" cy="2037.9" r="5.3"/><circle cx="919.5" cy="2037.6" r="5.3"/><circle cx="924.0" cy="2038.0" r="5.3"/><circle cx="928.6" cy="2037.7" r="5.3"/><circle cx="933.1" cy="2037.8" r="5.3"/><circle cx="937.6" cy="2038.2" r="5.3"/><circle cx="942.2" cy="2038.5" r="5.3"/></g><circle cx="300.9" cy="1808.3" r="4.5" fill="#dc1010"/><circle cx="535.4" cy="1808.3" r="4.5" fill="#16e616"/><circle cx="758.2" cy="1808.3" r="4.5" fill="#0808f2"/></g>
<g font-family="'Liberation Sans', Arial, sans-serif" font-weight="bold" font-size="33.0" fill="#000" stroke="#000" stroke-width="0.45"><text x="247.3" y="2084.1" text-anchor="end" font-size="34.6">0</text><text x="247.3" y="2017.7" text-anchor="end" font-size="34.6">1</text><text x="247.3" y="1951.3" text-anchor="end" font-size="34.6">2</text><text x="247.3" y="1884.9" text-anchor="end" font-size="34.6">3</text><text x="284.6" y="2132.5" text-anchor="middle" font-size="34.6">0</text><text x="375.3" y="2132.5" text-anchor="middle" font-size="34.6">20</text><text x="466.0" y="2132.5" text-anchor="middle" font-size="34.6">40</text><text x="556.7" y="2132.5" text-anchor="middle" font-size="34.6">60</text><text x="647.4" y="2132.5" text-anchor="middle" font-size="34.6">80</text><text x="738.1" y="2132.5" text-anchor="middle" font-size="34.6">100</text><text x="828.8" y="2132.5" text-anchor="middle" font-size="34.6">120</text><text x="919.5" y="2132.5" text-anchor="middle" font-size="34.6">140</text><text x="1010.2" y="2132.5" text-anchor="middle" font-size="34.6">160</text><text x="647.4" y="2184.1" text-anchor="middle" textLength="218.0" lengthAdjust="spacingAndGlyphs">No. of Sample</text><text transform="translate(213.0,1973.3) rotate(-90)" text-anchor="middle" textLength="94.8" lengthAdjust="spacingAndGlyphs">SE (m)</text><text x="320.6" y="1819.7" textLength="163.4" lengthAdjust="spacingAndGlyphs">MRT90.nn</text><text x="554.5" y="1819.7" textLength="153.4" lengthAdjust="spacingAndGlyphs">MRT90.bl</text><text x="777.3" y="1819.7" textLength="159.0" lengthAdjust="spacingAndGlyphs">MRT90.bc</text></g>
<g><line x1="376.7" y1="2305.8" x2="376.7" y2="2506.2" stroke="#5e5e5e" stroke-width="1.9" stroke-dasharray="6 4.75"/><line x1="467.3" y1="2305.8" x2="467.3" y2="2506.2" stroke="#5e5e5e" stroke-width="1.9" stroke-dasharray="6 4.75"/><line x1="558.0" y1="2305.8" x2="558.0" y2="2506.2" stroke="#5e5e5e" stroke-width="1.9" stroke-dasharray="6 4.75"/><line x1="648.7" y1="2305.8" x2="648.7" y2="2506.2" stroke="#5e5e5e" stroke-width="1.9" stroke-dasharray="6 4.75"/><line x1="739.4" y1="2305.8" x2="739.4" y2="2506.2" stroke="#5e5e5e" stroke-width="1.9" stroke-dasharray="6 4.75"/><line x1="830.0" y1="2305.8" x2="830.0" y2="2506.2" stroke="#5e5e5e" stroke-width="1.9" stroke-dasharray="6 4.75"/><line x1="920.7" y1="2305.8" x2="920.7" y2="2506.2" stroke="#5e5e5e" stroke-width="1.9" stroke-dasharray="6 4.75"/><line x1="286.0" y1="2439.4" x2="1011.4" y2="2439.4" stroke="#6c6c6c" stroke-width="1.9" stroke-dasharray="6.3 4.5 2.3 3.7"/><line x1="286.0" y1="2372.6" x2="1011.4" y2="2372.6" stroke="#6c6c6c" stroke-width="1.9" stroke-dasharray="6.3 4.5 2.3 3.7"/><rect x="286.0" y="2305.8" width="725.4" height="200.4" fill="none" stroke="#1a1a1a" stroke-width="2.7"/><line x1="274.0" y1="2506.2" x2="286.0" y2="2506.2" stroke="#1a1a1a" stroke-width="2.7"/><line x1="274.0" y1="2439.4" x2="286.0" y2="2439.4" stroke="#1a1a1a" stroke-width="2.7"/><line x1="274.0" y1="2372.6" x2="286.0" y2="2372.6" stroke="#1a1a1a" stroke-width="2.7"/><line x1="274.0" y1="2305.8" x2="286.0" y2="2305.8" stroke="#1a1a1a" stroke-width="2.7"/><line x1="286.0" y1="2506.2" x2="286.0" y2="2518.2" stroke="#1a1a1a" stroke-width="2.7"/><line x1="376.7" y1="2506.2" x2="376.7" y2="2518.2" stroke="#1a1a1a" stroke-width="2.7"/><line x1="467.3" y1="2506.2" x2="467.3" y2="2518.2" stroke="#1a1a1a" stroke-width="2.7"/><line x1="558.0" y1="2506.2" x2="558.0" y2="2518.2" stroke="#1a1a1a" stroke-width="2.7"/><line x1="648.7" y1="2506.2" x2="648.7" y2="2518.2" stroke="#1a1a1a" stroke-width="2.7"/><line x1="739.4" y1="2506.2" x2="739.4" y2="2518.2" stroke="#1a1a1a" stroke-width="2.7"/><line x1="830.0" y1="2506.2" x2="830.0" y2="2518.2" stroke="#1a1a1a" stroke-width="2.7"/><line x1="920.7" y1="2506.2" x2="920.7" y2="2518.2" stroke="#1a1a1a" stroke-width="2.7"/><line x1="1011.4" y1="2506.2" x2="1011.4" y2="2518.2" stroke="#1a1a1a" stroke-width="2.7"/><g fill="#dc1010"><circle cx="331.3" cy="2415.4" r="5.3"/><circle cx="335.9" cy="2386.6" r="5.3"/><circle cx="340.4" cy="2397.0" r="5.3"/><circle cx="344.9" cy="2403.9" r="5.3"/><circle cx="349.5" cy="2403.7" r="5.3"/><circle cx="354.0" cy="2403.9" r="5.3"/><circle cx="358.5" cy="2408.7" r="5.3"/><circle cx="363.1" cy="2413.6" r="5.3"/><circle cx="367.6" cy="2418.4" r="5.3"/><circle cx="372.1" cy="2422.5" r="5.3"/><circle cx="376.7" cy="2427.1" r="5.3"/><circle cx="381.2" cy="2428.6" r="5.3"/><circle cx="385.7" cy="2433.3" r="5.3"/><circle cx="390.3" cy="2434.4" r="5.3"/><circle cx="394.8" cy="2435.0" r="5.3"/><circle cx="399.3" cy="2434.9" r="5.3"/><circle cx="403.9" cy="2435.3" r="5.3"/><circle cx="408.4" cy="2437.3" r="5.3"/><circle cx="412.9" cy="2438.6" r="5.3"/><circle cx="417.5" cy="2440.7" r="5.3"/><circle cx="422.0" cy="2442.6" r="5.3"/><circle cx="426.5" cy="2443.9" r="5.3"/><circle cx="431.1" cy="2445.5" r="5.3"/><circle cx="435.6" cy="2445.4" r="5.3"/><circle cx="440.1" cy="2443.9" r="5.3"/><circle cx="444.7" cy="2444.1" r="5.3"/><circle cx="449.2" cy="2442.6" r="5.3"/><circle cx="453.7" cy="2442.5" r="5.3"/><circle cx="458.3" cy="2443.3" r="5.3"/><circle cx="462.8" cy="2443.7" r="5.3"/><circle cx="467.3" cy="2445.8" r="5.3"/><circle cx="471.9" cy="2447.3" r="5.3"/><circle cx="476.4" cy="2448.6" r="5.3"/><circle cx="481.0" cy="2451.1" r="5.3"/><circle cx="485.5" cy="2452.4" r="5.3"/><circle cx="490.0" cy="2451.5" r="5.3"/><circle cx="494.6" cy="2448.5" r="5.3"/><circle cx="499.1" cy="2448.5" r="5.3"/><circle cx="503.6" cy="2449.1" r="5.3"/><circle cx="508.2" cy="2449.0" r="5.3"/><circle cx="512.7" cy="2449.9" r="5.3"/><circle cx="517.2" cy="2450.5" r="5.3"/><circle cx="521.8" cy="2451.1" r="5.3"/><circle cx="526.3" cy="2451.4" r="5.3"/><circle cx="530.8" cy="2452.4" r="5.3"/><circle cx="535.4" cy="2453.4" r="5.3"/><circle cx="539.9" cy="2453.9" r="5.3"/><circle cx="544.4" cy="2454.8" r="5.3"/><circle cx="549.0" cy="2455.2" r="5.3"/><circle cx="553.5" cy="2456.5" r="5.3"/><circle cx="558.0" cy="2456.4" r="5.3"/><circle cx="562.6" cy="2457.2" r="5.3"/><circle cx="567.1" cy="2456.5" r="5.3"/><circle cx="571.6" cy="2456.2" r="5.3"/><circle cx="576.2" cy="2455.7" r="5.3"/><circle cx="580.7" cy="2455.7" r="5.3"/><circle cx="585.2" cy="2454.6" r="5.3"/><circle cx="589.8" cy="2455.7" r="5.3"/><circle cx="594.3" cy="2456.3" r="5.3"/><circle cx="598.8" cy="2455.6" r="5.3"/><circle cx="603.4" cy="2456.6" r="5.3"/><circle cx="607.9" cy="2457.2" r="5.3"/><circle cx="612.4" cy="2457.5" r="5.3"/><circle cx="617.0" cy="2457.9" r="5.3"/><circle cx="621.5" cy="2458.6" r="5.3"/><circle cx="626.0" cy="2459.1" r="5.3"/><circle cx="630.6" cy="2459.7" r="5.3"/><circle cx="635.1" cy="2460.0" r="5.3"/><circle cx="639.6" cy="2460.3" r="5.3"/><circle cx="644.2" cy="2460.9" r="5.3"/><circle cx="648.7" cy="2461.1" r="5.3"/><circle cx="653.2" cy="2461.4" r="5.3"/><circle cx="657.8" cy="2461.8" r="5.3"/><circle cx="662.3" cy="2462.3" r="5.3"/><circle cx="666.8" cy="2462.1" r="5.3"/><circle cx="671.4" cy="2462.4" r="5.3"/><circle cx="675.9" cy="2462.0" r="5.3"/><circle cx="680.4" cy="2462.5" r="5.3"/><circle cx="685.0" cy="2462.7" r="5.3"/><circle cx="689.5" cy="2462.9" r="5.3"/><circle cx="694.0" cy="2462.7" r="5.3"/><circle cx="698.6" cy="2462.9" r="5.3"/><circle cx="703.1" cy="2463.4" r="5.3"/><circle cx="707.6" cy="2463.6" r="5.3"/><circle cx="712.2" cy="2463.6" r="5.3"/><circle cx="716.7" cy="2463.5" r="5.3"/><circle cx="721.2" cy="2463.0" r="5.3"/><circle cx="725.8" cy="2462.6" r="5.3"/><circle cx="730.3" cy="2462.1" r="5.3"/><circle cx="734.8" cy="2461.4" r="5.3"/><circle cx="739.4" cy="2461.5" r="5.3"/><circle cx="743.9" cy="2461.3" r="5.3"/><circle cx="748.4" cy="2461.1" r="5.3"/><circle cx="753.0" cy="2461.5" r="5.3"/><circle cx="757.5" cy="2462.0" r="5.3"/><circle cx="762.0" cy="2462.2" r="5.3"/><circle cx="766.6" cy="2462.6" r="5.3"/><circle cx="771.1" cy="2462.9" r="5.3"/><circle cx="775.6" cy="2462.8" r="5.3"/><circle cx="780.2" cy="2462.8" r="5.3"/><circle cx="784.7" cy="2463.4" r="5.3"/><circle cx="789.2" cy="2463.7" r="5.3"/><circle cx="793.8" cy="2463.6" r="5.3"/><circle cx="798.3" cy="2463.7" r="5.3"/><circle cx="802.8" cy="2464.2" r="5.3"/><circle cx="807.4" cy="2464.7" r="5.3"/><circle cx="811.9" cy="2464.7" r="5.3"/><circle cx="816.4" cy="2464.7" r="5.3"/><circle cx="821.0" cy="2464.9" r="5.3"/><circle cx="825.5" cy="2465.0" r="5.3"/><circle cx="830.0" cy="2465.5" r="5.3"/><circle cx="834.6" cy="2465.9" r="5.3"/><circle cx="839.1" cy="2465.9" r="5.3"/><circle cx="843.7" cy="2466.1" r="5.3"/><circle cx="848.2" cy="2466.0" r="5.3"/><circle cx="852.7" cy="2466.1" r="5.3"/><circle cx="857.3" cy="2466.7" r="5.3"/><circle cx="861.8" cy="2466.5" r="5.3"/><circle cx="866.3" cy="2466.6" r="5.3"/><circle cx="870.9" cy="2466.9" r="5.3"/><circle cx="875.4" cy="2467.4" r="5.3"/><circle cx="879.9" cy="2467.3" r="5.3"/><circle cx="884.5" cy="2467.6" r="5.3"/><circle cx="889.0" cy="2467.8" r="5.3"/><circle cx="893.5" cy="2467.9" r="5.3"/><circle cx="898.1" cy="2467.9" r="5.3"/><circle cx="902.6" cy="2468.0" r="5.3"/><circle cx="907.1" cy="2468.6" r="5.3"/><circle cx="911.7" cy="2468.3" r="5.3"/><circle cx="916.2" cy="2468.8" r="5.3"/><circle cx="920.7" cy="2468.8" r="5.3"/><circle cx="925.3" cy="2469.4" r="5.3"/><circle cx="929.8" cy="2468.6" r="5.3"/><circle cx="934.3" cy="2469.2" r="5.3"/><circle cx="938.9" cy="2469.7" r="5.3"/><circle cx="943.4" cy="2469.7" r="5.3"/></g><g fill="#16e616"><circle cx="331.3" cy="2417.4" r="5.3"/><circle cx="335.9" cy="2388.0" r="5.3"/><circle cx="340.4" cy="2398.9" r="5.3"/><circle cx="344.9" cy="2406.2" r="5.3"/><circle cx="349.5" cy="2406.4" r="5.3"/><circle cx="354.0" cy="2407.2" r="5.3"/><circle cx="358.5" cy="2411.8" r="5.3"/><circle cx="363.1" cy="2416.6" r="5.3"/><circle cx="367.6" cy="2421.4" r="5.3"/><circle cx="372.1" cy="2425.4" r="5.3"/><circle cx="376.7" cy="2430.0" r="5.3"/><circle cx="381.2" cy="2431.4" r="5.3"/><circle cx="385.7" cy="2436.1" r="5.3"/><circle cx="390.3" cy="2437.0" r="5.3"/><circle cx="394.8" cy="2437.6" r="5.3"/><circle cx="399.3" cy="2437.5" r="5.3"/><circle cx="403.9" cy="2437.8" r="5.3"/><circle cx="408.4" cy="2439.7" r="5.3"/><circle cx="412.9" cy="2441.0" r="5.3"/><circle cx="417.5" cy="2442.9" r="5.3"/><circle cx="422.0" cy="2444.8" r="5.3"/><circle cx="426.5" cy="2446.1" r="5.3"/><circle cx="431.1" cy="2447.6" r="5.3"/><circle cx="435.6" cy="2447.5" r="5.3"/><circle cx="440.1" cy="2445.8" r="5.3"/><circle cx="444.7" cy="2446.0" r="5.3"/><circle cx="449.2" cy="2444.4" r="5.3"/><circle cx="453.7" cy="2444.2" r="5.3"/><circle cx="458.3" cy="2445.0" r="5.3"/><circle cx="462.8" cy="2445.3" r="5.3"/><circle cx="467.3" cy="2447.3" r="5.3"/><circle cx="471.9" cy="2448.9" r="5.3"/><circle cx="476.4" cy="2450.1" r="5.3"/><circle cx="481.0" cy="2452.6" r="5.3"/><circle cx="485.5" cy="2453.9" r="5.3"/><circle cx="490.0" cy="2453.0" r="5.3"/><circle cx="494.6" cy="2450.0" r="5.3"/><circle cx="499.1" cy="2450.0" r="5.3"/><circle cx="503.6" cy="2450.6" r="5.3"/><circle cx="508.2" cy="2450.5" r="5.3"/><circle cx="512.7" cy="2451.4" r="5.3"/><circle cx="517.2" cy="2452.0" r="5.3"/><circle cx="521.8" cy="2452.5" r="5.3"/><circle cx="526.3" cy="2452.9" r="5.3"/><circle cx="530.8" cy="2453.9" r="5.3"/><circle cx="535.4" cy="2454.9" r="5.3"/><circle cx="539.9" cy="2455.4" r="5.3"/><circle cx="544.4" cy="2456.2" r="5.3"/><circle cx="549.0" cy="2456.6" r="5.3"/><circle cx="553.5" cy="2457.9" r="5.3"/><circle cx="558.0" cy="2457.8" r="5.3"/><circle cx="562.6" cy="2458.6" r="5.3"/><circle cx="567.1" cy="2457.9" r="5.3"/><circle cx="571.6" cy="2457.6" r="5.3"/><circle cx="576.2" cy="2457.1" r="5.3"/><circle cx="580.7" cy="2457.1" r="5.3"/><circle cx="585.2" cy="2455.9" r="5.3"/><circle cx="589.8" cy="2457.1" r="5.3"/><circle cx="594.3" cy="2457.7" r="5.3"/><circle cx="598.8" cy="2457.0" r="5.3"/><circle cx="603.4" cy="2457.9" r="5.3"/><circle cx="607.9" cy="2458.5" r="5.3"/><circle cx="612.4" cy="2458.8" r="5.3"/><circle cx="617.0" cy="2459.2" r="5.3"/><circle cx="621.5" cy="2459.9" r="5.3"/><circle cx="626.0" cy="2460.4" r="5.3"/><circle cx="630.6" cy="2461.0" r="5.3"/><circle cx="635.1" cy="2461.3" r="5.3"/><circle cx="639.6" cy="2461.6" r="5.3"/><circle cx="644.2" cy="2462.2" r="5.3"/><circle cx="648.7" cy="2462.3" r="5.3"/><circle cx="653.2" cy="2462.7" r="5.3"/><circle cx="657.8" cy="2463.1" r="5.3"/><circle cx="662.3" cy="2463.5" r="5.3"/><circle cx="666.8" cy="2463.4" r="5.3"/><circle cx="671.4" cy="2463.7" r="5.3"/><circle cx="675.9" cy="2463.3" r="5.3"/><circle cx="680.4" cy="2463.7" r="5.3"/><circle cx="685.0" cy="2463.9" r="5.3"/><circle cx="689.5" cy="2464.1" r="5.3"/><circle cx="694.0" cy="2463.9" r="5.3"/><circle cx="698.6" cy="2464.1" r="5.3"/><circle cx="703.1" cy="2464.6" r="5.3"/><circle cx="707.6" cy="2464.8" r="5.3"/><circle cx="712.2" cy="2464.8" r="5.3"/><circle cx="716.7" cy="2464.6" r="5.3"/><circle cx="721.2" cy="2464.1" r="5.3"/><circle cx="725.8" cy="2463.7" r="5.3"/><circle cx="730.3" cy="2463.2" r="5.3"/><circle cx="734.8" cy="2462.6" r="5.3"/><circle cx="739.4" cy="2462.6" r="5.3"/><circle cx="743.9" cy="2462.4" r="5.3"/><circle cx="748.4" cy="2462.2" r="5.3"/><circle cx="753.0" cy="2462.6" r="5.3"/><circle cx="757.5" cy="2463.1" r="5.3"/><circle cx="762.0" cy="2463.3" r="5.3"/><circle cx="766.6" cy="2463.7" r="5.3"/><circle cx="771.1" cy="2463.9" r="5.3"/><circle cx="775.6" cy="2463.9" r="5.3"/><circle cx="780.2" cy="2463.8" r="5.3"/><circle cx="784.7" cy="2464.5" r="5.3"/><circle cx="789.2" cy="2464.7" r="5.3"/><circle cx="793.8" cy="2464.6" r="5.3"/><circle cx="798.3" cy="2464.7" r="5.3"/><circle cx="802.8" cy="2465.3" r="5.3"/><circle cx="807.4" cy="2465.7" r="5.3"/><circle cx="811.9" cy="2465.7" r="5.3"/><circle cx="816.4" cy="2465.7" r="5.3"/><circle cx="821.0" cy="2465.9" r="5.3"/><circle cx="825.5" cy="2466.0" r="5.3"/><circle cx="830.0" cy="2466.5" r="5.3"/><circle cx="834.6" cy="2466.8" r="5.3"/><circle cx="839.1" cy="2466.9" r="5.3"/><circle cx="843.7" cy="2467.0" r="5.3"/><circle cx="848.2" cy="2467.0" r="5.3"/><circle cx="852.7" cy="2467.0" r="5.3"/><circle cx="857.3" cy="2467.6" r="5.3"/><circle cx="861.8" cy="2467.4" r="5.3"/><circle cx="866.3" cy="2467.5" r="5.3"/><circle cx="870.9" cy="2467.8" r="5.3"/><circle cx="875.4" cy="2468.3" r="5.3"/><circle cx="879.9" cy="2468.2" r="5.3"/><circle cx="884.5" cy="2468.5" r="5.3"/><circle cx="889.0" cy="2468.7" r="5.3"/><circle cx="893.5" cy="2468.8" r="5.3"/><circle cx="898.1" cy="2468.8" r="5.3"/><circle cx="902.6" cy="2468.8" r="5.3"/><circle cx="907.1" cy="2469.4" r="5.3"/><circle cx="911.7" cy="2469.2" r="5.3"/><circle cx="916.2" cy="2469.6" r="5.3"/><circle cx="920.7" cy="2469.6" r="5.3"/><circle cx="925.3" cy="2470.2" r="5.3"/><circle cx="929.8" cy="2469.5" r="5.3"/><circle cx="934.3" cy="2470.0" r="5.3"/><circle cx="938.9" cy="2470.5" r="5.3"/><circle cx="943.4" cy="2470.5" r="5.3"/></g><g fill="#0808f2"><circle cx="331.3" cy="2416.4" r="5.3"/><circle cx="335.9" cy="2387.6" r="5.3"/><circle cx="340.4" cy="2398.3" r="5.3"/><circle cx="344.9" cy="2405.7" r="5.3"/><circle cx="349.5" cy="2405.9" r="5.3"/><circle cx="354.0" cy="2406.6" r="5.3"/><circle cx="358.5" cy="2411.3" r="5.3"/><circle cx="363.1" cy="2416.1" r="5.3"/><circle cx="367.6" cy="2420.8" r="5.3"/><circle cx="372.1" cy="2424.9" r="5.3"/><circle cx="376.7" cy="2429.5" r="5.3"/><circle cx="381.2" cy="2430.9" r="5.3"/><circle cx="385.7" cy="2435.5" r="5.3"/><circle cx="390.3" cy="2436.5" r="5.3"/><circle cx="394.8" cy="2437.1" r="5.3"/><circle cx="399.3" cy="2436.9" r="5.3"/><circle cx="403.9" cy="2437.2" r="5.3"/><circle cx="408.4" cy="2439.2" r="5.3"/><circle cx="412.9" cy="2440.4" r="5.3"/><circle cx="417.5" cy="2442.4" r="5.3"/><circle cx="422.0" cy="2444.3" r="5.3"/><circle cx="426.5" cy="2445.5" r="5.3"/><circle cx="431.1" cy="2447.1" r="5.3"/><circle cx="435.6" cy="2446.9" r="5.3"/><circle cx="440.1" cy="2445.3" r="5.3"/><circle cx="444.7" cy="2445.4" r="5.3"/><circle cx="449.2" cy="2443.9" r="5.3"/><circle cx="453.7" cy="2443.7" r="5.3"/><circle cx="458.3" cy="2444.4" r="5.3"/><circle cx="462.8" cy="2444.8" r="5.3"/><circle cx="467.3" cy="2446.8" r="5.3"/><circle cx="471.9" cy="2448.3" r="5.3"/><circle cx="476.4" cy="2449.6" r="5.3"/><circle cx="481.0" cy="2452.1" r="5.3"/><circle cx="485.5" cy="2453.3" r="5.3"/><circle cx="490.0" cy="2452.5" r="5.3"/><circle cx="494.6" cy="2449.4" r="5.3"/><circle cx="499.1" cy="2449.4" r="5.3"/><circle cx="503.6" cy="2450.0" r="5.3"/><circle cx="508.2" cy="2450.0" r="5.3"/><circle cx="512.7" cy="2450.9" r="5.3"/><circle cx="517.2" cy="2451.4" r="5.3"/><circle cx="521.8" cy="2452.0" r="5.3"/><circle cx="526.3" cy="2452.4" r="5.3"/><circle cx="530.8" cy="2453.4" r="5.3"/><circle cx="535.4" cy="2454.4" r="5.3"/><circle cx="539.9" cy="2454.8" r="5.3"/><circle cx="544.4" cy="2455.7" r="5.3"/><circle cx="549.0" cy="2456.1" r="5.3"/><circle cx="553.5" cy="2457.4" r="5.3"/><circle cx="558.0" cy="2457.3" r="5.3"/><circle cx="562.6" cy="2458.1" r="5.3"/><circle cx="567.1" cy="2457.3" r="5.3"/><circle cx="571.6" cy="2457.1" r="5.3"/><circle cx="576.2" cy="2456.6" r="5.3"/><circle cx="580.7" cy="2456.6" r="5.3"/><circle cx="585.2" cy="2455.4" r="5.3"/><circle cx="589.8" cy="2456.6" r="5.3"/><circle cx="594.3" cy="2457.2" r="5.3"/><circle cx="598.8" cy="2456.5" r="5.3"/><circle cx="603.4" cy="2457.4" r="5.3"/><circle cx="607.9" cy="2458.0" r="5.3"/><circle cx="612.4" cy="2458.3" r="5.3"/><circle cx="617.0" cy="2458.7" r="5.3"/><circle cx="621.5" cy="2459.5" r="5.3"/><circle cx="626.0" cy="2459.9" r="5.3"/><circle cx="630.6" cy="2460.5" r="5.3"/><circle cx="635.1" cy="2460.9" r="5.3"/><circle cx="639.6" cy="2461.1" r="5.3"/><circle cx="644.2" cy="2461.7" r="5.3"/><circle cx="648.7" cy="2461.9" r="5.3"/><circle cx="653.2" cy="2462.2" r="5.3"/><circle cx="657.8" cy="2462.6" r="5.3"/><circle cx="662.3" cy="2463.1" r="5.3"/><circle cx="666.8" cy="2462.9" r="5.3"/><circle cx="671.4" cy="2463.2" r="5.3"/><circle cx="675.9" cy="2462.8" r="5.3"/><circle cx="680.4" cy="2463.2" r="5.3"/><circle cx="685.0" cy="2463.5" r="5.3"/><circle cx="689.5" cy="2463.6" r="5.3"/><circle cx="694.0" cy="2463.4" r="5.3"/><circle cx="698.6" cy="2463.7" r="5.3"/><circle cx="703.1" cy="2464.1" r="5.3"/><circle cx="707.6" cy="2464.3" r="5.3"/><circle cx="712.2" cy="2464.3" r="5.3"/><circle cx="716.7" cy="2464.2" r="5.3"/><circle cx="721.2" cy="2463.7" r="5.3"/><circle cx="725.8" cy="2463.3" r="5.3"/><circle cx="730.3" cy="2462.8" r="5.3"/><circle cx="734.8" cy="2462.1" r="5.3"/><circle cx="739.4" cy="2462.2" r="5.3"/><circle cx="743.9" cy="2462.0" r="5.3"/><circle cx="748.4" cy="2461.8" r="5.3"/><circle cx="753.0" cy="2462.1" r="5.3"/><circle cx="757.5" cy="2462.7" r="5.3"/><circle cx="762.0" cy="2462.9" r="5.3"/><circle cx="766.6" cy="2463.2" r="5.3"/><circle cx="771.1" cy="2463.5" r="5.3"/><circle cx="775.6" cy="2463.5" r="5.3"/><circle cx="780.2" cy="2463.4" r="5.3"/><circle cx="784.7" cy="2464.1" r="5.3"/><circle cx="789.2" cy="2464.3" r="5.3"/><circle cx="793.8" cy="2464.2" r="5.3"/><circle cx="798.3" cy="2464.3" r="5.3"/><circle cx="802.8" cy="2464.9" r="5.3"/><circle cx="807.4" cy="2465.3" r="5.3"/><circle cx="811.9" cy="2465.3" r="5.3"/><circle cx="816.4" cy="2465.3" r="5.3"/><circle cx="821.0" cy="2465.5" r="5.3"/><circle cx="825.5" cy="2465.6" r="5.3"/><circle cx="830.0" cy="2466.1" r="5.3"/><circle cx="834.6" cy="2466.5" r="5.3"/><circle cx="839.1" cy="2466.5" r="5.3"/><circle cx="843.7" cy="2466.7" r="5.3"/><circle cx="848.2" cy="2466.6" r="5.3"/><circle cx="852.7" cy="2466.6" r="5.3"/><circle cx="857.3" cy="2467.3" r="5.3"/><circle cx="861.8" cy="2467.1" r="5.3"/><circle cx="866.3" cy="2467.1" r="5.3"/><circle cx="870.9" cy="2467.5" r="5.3"/><circle cx="875.4" cy="2467.9" r="5.3"/><circle cx="879.9" cy="2467.9" r="5.3"/><circle cx="884.5" cy="2468.2" r="5.3"/><circle cx="889.0" cy="2468.3" r="5.3"/><circle cx="893.5" cy="2468.4" r="5.3"/><circle cx="898.1" cy="2468.4" r="5.3"/><circle cx="902.6" cy="2468.5" r="5.3"/><circle cx="907.1" cy="2469.1" r="5.3"/><circle cx="911.7" cy="2468.8" r="5.3"/><circle cx="916.2" cy="2469.3" r="5.3"/><circle cx="920.7" cy="2469.3" r="5.3"/><circle cx="925.3" cy="2469.8" r="5.3"/><circle cx="929.8" cy="2469.1" r="5.3"/><circle cx="934.3" cy="2469.7" r="5.3"/><circle cx="938.9" cy="2470.2" r="5.3"/><circle cx="943.4" cy="2470.1" r="5.3"/></g><circle cx="316.5" cy="2242.1" r="4.5" fill="#dc1010"/><circle cx="539.3" cy="2242.1" r="4.5" fill="#16e616"/><circle cx="753.7" cy="2242.1" r="4.5" fill="#0808f2"/></g>
<g font-family="'Liberation Sans', Arial, sans-serif" font-weight="bold" font-size="33.0" fill="#000" stroke="#000" stroke-width="0.45"><text x="248.7" y="2518.2" text-anchor="end" font-size="34.6">0</text><text x="248.7" y="2451.4" text-anchor="end" font-size="34.6">1</text><text x="248.7" y="2384.6" text-anchor="end" font-size="34.6">2</text><text x="248.7" y="2317.8" text-anchor="end" font-size="34.6">3</text><text x="286.0" y="2566.9" text-anchor="middle" font-size="34.6">0</text><text x="376.7" y="2566.9" text-anchor="middle" font-size="34.6">20</text><text x="467.3" y="2566.9" text-anchor="middle" font-size="34.6">40</text><text x="558.0" y="2566.9" text-anchor="middle" font-size="34.6">60</text><text x="648.7" y="2566.9" text-anchor="middle" font-size="34.6">80</text><text x="739.4" y="2566.9" text-anchor="middle" font-size="34.6">100</text><text x="830.0" y="2566.9" text-anchor="middle" font-size="34.6">120</text><text x="920.7" y="2566.9" text-anchor="middle" font-size="34.6">140</text><text x="1011.4" y="2566.9" text-anchor="middle" font-size="34.6">160</text><text x="648.7" y="2618.9" text-anchor="middle" textLength="217.9" lengthAdjust="spacingAndGlyphs">No. of Sample</text><text transform="translate(214.4,2406.8) rotate(-90)" text-anchor="middle" textLength="95.4" lengthAdjust="spacingAndGlyphs">SE (m)</text><text x="336.2" y="2253.5" textLength="153.4" lengthAdjust="spacingAndGlyphs">TDX90.nn</text><text x="560.1" y="2253.5" textLength="143.4" lengthAdjust="spacingAndGlyphs">TDX90.bl</text><text x="772.9" y="2253.5" textLength="150.6" lengthAdjust="spacingAndGlyphs">TDX90.bc</text></g>
<g><line x1="1372.2" y1="198.4" x2="1372.2" y2="398.4" stroke="#5e5e5e" stroke-width="1.9" stroke-dasharray="6 4.75"/><line x1="1463.3" y1="198.4" x2="1463.3" y2="398.4" stroke="#5e5e5e" stroke-width="1.9" stroke-dasharray="6 4.75"/><line x1="1554.3" y1="198.4" x2="1554.3" y2="398.4" stroke="#5e5e5e" stroke-width="1.9" stroke-dasharray="6 4.75"/><line x1="1645.4" y1="198.4" x2="1645.4" y2="398.4" stroke="#5e5e5e" stroke-width="1.9" stroke-dasharray="6 4.75"/><line x1="1736.5" y1="198.4" x2="1736.5" y2="398.4" stroke="#5e5e5e" stroke-width="1.9" stroke-dasharray="6 4.75"/><line x1="1827.5" y1="198.4" x2="1827.5" y2="398.4" stroke="#5e5e5e" stroke-width="1.9" stroke-dasharray="6 4.75"/><line x1="1918.5" y1="198.4" x2="1918.5" y2="398.4" stroke="#5e5e5e" stroke-width="1.9" stroke-dasharray="6 4.75"/><line x1="1281.2" y1="331.7" x2="2009.6" y2="331.7" stroke="#6c6c6c" stroke-width="1.9" stroke-dasharray="6.3 4.5 2.3 3.7"/><line x1="1281.2" y1="265.1" x2="2009.6" y2="265.1" stroke="#6c6c6c" stroke-width="1.9" stroke-dasharray="6.3 4.5 2.3 3.7"/><rect x="1281.2" y="198.4" width="728.4" height="200.0" fill="none" stroke="#1a1a1a" stroke-width="2.7"/><line x1="1269.2" y1="398.4" x2="1281.2" y2="398.4" stroke="#1a1a1a" stroke-width="2.7"/><line x1="1269.2" y1="331.7" x2="1281.2" y2="331.7" stroke="#1a1a1a" stroke-width="2.7"/><line x1="1269.2" y1="265.1" x2="1281.2" y2="265.1" stroke="#1a1a1a" stroke-width="2.7"/><line x1="1269.2" y1="198.4" x2="1281.2" y2="198.4" stroke="#1a1a1a" stroke-width="2.7"/><line x1="1281.2" y1="398.4" x2="1281.2" y2="410.4" stroke="#1a1a1a" stroke-width="2.7"/><line x1="1372.2" y1="398.4" x2="1372.2" y2="410.4" stroke="#1a1a1a" stroke-width="2.7"/><line x1="1463.3" y1="398.4" x2="1463.3" y2="410.4" stroke="#1a1a1a" stroke-width="2.7"/><line x1="1554.3" y1="398.4" x2="1554.3" y2="410.4" stroke="#1a1a1a" stroke-width="2.7"/><line x1="1645.4" y1="398.4" x2="1645.4" y2="410.4" stroke="#1a1a1a" stroke-width="2.7"/><line x1="1736.5" y1="398.4" x2="1736.5" y2="410.4" stroke="#1a1a1a" stroke-width="2.7"/><line x1="1827.5" y1="398.4" x2="1827.5" y2="410.4" stroke="#1a1a1a" stroke-width="2.7"/><line x1="1918.5" y1="398.4" x2="1918.5" y2="410.4" stroke="#1a1a1a" stroke-width="2.7"/><line x1="2009.6" y1="398.4" x2="2009.6" y2="410.4" stroke="#1a1a1a" stroke-width="2.7"/><g fill="#dc1010"><circle cx="1326.7" cy="302.2" r="5.3"/><circle cx="1331.3" cy="274.4" r="5.3"/><circle cx="1335.8" cy="285.1" r="5.3"/><circle cx="1340.4" cy="298.6" r="5.3"/><circle cx="1344.9" cy="302.3" r="5.3"/><circle cx="1349.5" cy="302.1" r="5.3"/><circle cx="1354.0" cy="303.5" r="5.3"/><circle cx="1358.6" cy="306.0" r="5.3"/><circle cx="1363.1" cy="309.5" r="5.3"/><circle cx="1367.7" cy="312.6" r="5.3"/><circle cx="1372.2" cy="316.7" r="5.3"/><circle cx="1376.8" cy="320.4" r="5.3"/><circle cx="1381.4" cy="322.4" r="5.3"/><circle cx="1385.9" cy="323.8" r="5.3"/><circle cx="1390.5" cy="326.1" r="5.3"/><circle cx="1395.0" cy="326.5" r="5.3"/><circle cx="1399.6" cy="325.4" r="5.3"/><circle cx="1404.1" cy="328.5" r="5.3"/><circle cx="1408.7" cy="329.2" r="5.3"/><circle cx="1413.2" cy="331.2" r="5.3"/><circle cx="1417.8" cy="331.4" r="5.3"/><circle cx="1422.3" cy="325.1" r="5.3"/><circle cx="1426.9" cy="324.6" r="5.3"/><circle cx="1431.4" cy="325.4" r="5.3"/><circle cx="1436.0" cy="326.8" r="5.3"/><circle cx="1440.5" cy="329.7" r="5.3"/><circle cx="1445.1" cy="329.5" r="5.3"/><circle cx="1449.6" cy="330.9" r="5.3"/><circle cx="1454.2" cy="332.4" r="5.3"/><circle cx="1458.7" cy="334.2" r="5.3"/><circle cx="1463.3" cy="335.9" r="5.3"/><circle cx="1467.9" cy="335.7" r="5.3"/><circle cx="1472.4" cy="337.8" r="5.3"/><circle cx="1477.0" cy="339.5" r="5.3"/><circle cx="1481.5" cy="338.7" r="5.3"/><circle cx="1486.1" cy="337.0" r="5.3"/><circle cx="1490.6" cy="333.7" r="5.3"/><circle cx="1495.2" cy="335.1" r="5.3"/><circle cx="1499.7" cy="335.3" r="5.3"/><circle cx="1504.3" cy="336.0" r="5.3"/><circle cx="1508.8" cy="335.9" r="5.3"/><circle cx="1513.4" cy="337.7" r="5.3"/><circle cx="1517.9" cy="338.2" r="5.3"/><circle cx="1522.5" cy="338.0" r="5.3"/><circle cx="1527.0" cy="338.4" r="5.3"/><circle cx="1531.6" cy="339.2" r="5.3"/><circle cx="1536.1" cy="339.9" r="5.3"/><circle cx="1540.7" cy="340.3" r="5.3"/><circle cx="1545.2" cy="341.1" r="5.3"/><circle cx="1549.8" cy="340.6" r="5.3"/><circle cx="1554.3" cy="341.1" r="5.3"/><circle cx="1558.9" cy="341.5" r="5.3"/><circle cx="1563.5" cy="342.0" r="5.3"/><circle cx="1568.0" cy="342.4" r="5.3"/><circle cx="1572.6" cy="342.6" r="5.3"/><circle cx="1577.1" cy="343.6" r="5.3"/><circle cx="1581.7" cy="342.9" r="5.3"/><circle cx="1586.2" cy="343.8" r="5.3"/><circle cx="1590.8" cy="344.6" r="5.3"/><circle cx="1595.3" cy="345.0" r="5.3"/><circle cx="1599.9" cy="345.0" r="5.3"/><circle cx="1604.4" cy="345.1" r="5.3"/><circle cx="1609.0" cy="345.5" r="5.3"/><circle cx="1613.5" cy="345.6" r="5.3"/><circle cx="1618.1" cy="345.7" r="5.3"/><circle cx="1622.6" cy="346.3" r="5.3"/><circle cx="1627.2" cy="346.5" r="5.3"/><circle cx="1631.7" cy="346.8" r="5.3"/><circle cx="1636.3" cy="347.5" r="5.3"/><circle cx="1640.8" cy="347.7" r="5.3"/><circle cx="1645.4" cy="347.9" r="5.3"/><circle cx="1650.0" cy="347.9" r="5.3"/><circle cx="1654.5" cy="348.7" r="5.3"/><circle cx="1659.1" cy="348.1" r="5.3"/><circle cx="1663.6" cy="349.1" r="5.3"/><circle cx="1668.2" cy="349.4" r="5.3"/><circle cx="1672.7" cy="349.6" r="5.3"/><circle cx="1677.3" cy="350.0" r="5.3"/><circle cx="1681.8" cy="350.0" r="5.3"/><circle cx="1686.4" cy="350.2" r="5.3"/><circle cx="1690.9" cy="350.1" r="5.3"/><circle cx="1695.5" cy="350.9" r="5.3"/><circle cx="1700.0" cy="350.8" r="5.3"/><circle cx="1704.6" cy="351.1" r="5.3"/><circle cx="1709.1" cy="351.5" r="5.3"/><circle cx="1713.7" cy="352.4" r="5.3"/><circle cx="1718.2" cy="351.2" r="5.3"/><circle cx="1722.8" cy="350.7" r="5.3"/><circle cx="1727.3" cy="350.4" r="5.3"/><circle cx="1731.9" cy="349.4" r="5.3"/><circle cx="1736.5" cy="348.7" r="5.3"/><circle cx="1741.0" cy="349.1" r="5.3"/><circle cx="1745.6" cy="349.6" r="5.3"/><circle cx="1750.1" cy="350.1" r="5.3"/><circle cx="1754.7" cy="350.0" r="5.3"/><circle cx="1759.2" cy="350.6" r="5.3"/><circle cx="1763.8" cy="350.6" r="5.3"/><circle cx="1768.3" cy="351.2" r="5.3"/><circle cx="1772.9" cy="351.5" r="5.3"/><circle cx="1777.4" cy="351.4" r="5.3"/><circle cx="1782.0" cy="352.0" r="5.3"/><circle cx="1786.5" cy="352.6" r="5.3"/><circle cx="1791.1" cy="352.2" r="5.3"/><circle cx="1795.6" cy="352.6" r="5.3"/><circle cx="1800.2" cy="352.8" r="5.3"/><circle cx="1804.7" cy="353.6" r="5.3"/><circle cx="1809.3" cy="353.6" r="5.3"/><circle cx="1813.8" cy="353.6" r="5.3"/><circle cx="1818.4" cy="354.0" r="5.3"/><circle cx="1822.9" cy="354.6" r="5.3"/><circle cx="1827.5" cy="354.5" r="5.3"/><circle cx="1832.1" cy="355.0" r="5.3"/><circle cx="1836.6" cy="355.4" r="5.3"/><circle cx="1841.2" cy="355.3" r="5.3"/><circle cx="1845.7" cy="355.5" r="5.3"/><circle cx="1850.3" cy="355.8" r="5.3"/><circle cx="1854.8" cy="355.5" r="5.3"/><circle cx="1859.4" cy="356.1" r="5.3"/><circle cx="1863.9" cy="355.7" r="5.3"/><circle cx="1868.5" cy="356.3" r="5.3"/><circle cx="1873.0" cy="356.4" r="5.3"/><circle cx="1877.6" cy="356.5" r="5.3"/><circle cx="1882.1" cy="356.5" r="5.3"/><circle cx="1886.7" cy="356.9" r="5.3"/><circle cx="1891.2" cy="357.0" r="5.3"/><circle cx="1895.8" cy="357.1" r="5.3"/><circle cx="1900.3" cy="357.5" r="5.3"/><circle cx="1904.9" cy="357.6" r="5.3"/><circle cx="1909.4" cy="357.9" r="5.3"/><circle cx="1914.0" cy="358.1" r="5.3"/><circle cx="1918.5" cy="357.5" r="5.3"/><circle cx="1923.1" cy="358.2" r="5.3"/><circle cx="1927.7" cy="358.1" r="5.3"/><circle cx="1932.2" cy="358.6" r="5.3"/><circle cx="1936.8" cy="358.2" r="5.3"/><circle cx="1941.3" cy="358.6" r="5.3"/></g><g fill="#16e616"><circle cx="1326.7" cy="284.4" r="5.3"/><circle cx="1331.3" cy="265.5" r="5.3"/><circle cx="1335.8" cy="277.0" r="5.3"/><circle cx="1340.4" cy="286.1" r="5.3"/><circle cx="1344.9" cy="288.8" r="5.3"/><circle cx="1349.5" cy="290.5" r="5.3"/><circle cx="1354.0" cy="293.1" r="5.3"/><circle cx="1358.6" cy="295.3" r="5.3"/><circle cx="1363.1" cy="298.3" r="5.3"/><circle cx="1367.7" cy="301.2" r="5.3"/><circle cx="1372.2" cy="305.4" r="5.3"/><circle cx="1376.8" cy="310.1" r="5.3"/><circle cx="1381.4" cy="313.1" r="5.3"/><circle cx="1385.9" cy="315.5" r="5.3"/><circle cx="1390.5" cy="317.1" r="5.3"/><circle cx="1395.0" cy="316.9" r="5.3"/><circle cx="1399.6" cy="316.3" r="5.3"/><circle cx="1404.1" cy="319.9" r="5.3"/><circle cx="1408.7" cy="321.2" r="5.3"/><circle cx="1413.2" cy="323.7" r="5.3"/><circle cx="1417.8" cy="325.2" r="5.3"/><circle cx="1422.3" cy="325.5" r="5.3"/><circle cx="1426.9" cy="325.1" r="5.3"/><circle cx="1431.4" cy="325.8" r="5.3"/><circle cx="1436.0" cy="327.3" r="5.3"/><circle cx="1440.5" cy="330.3" r="5.3"/><circle cx="1445.1" cy="330.1" r="5.3"/><circle cx="1449.6" cy="331.5" r="5.3"/><circle cx="1454.2" cy="333.0" r="5.3"/><circle cx="1458.7" cy="334.9" r="5.3"/><circle cx="1463.3" cy="336.6" r="5.3"/><circle cx="1467.9" cy="336.5" r="5.3"/><circle cx="1472.4" cy="338.6" r="5.3"/><circle cx="1477.0" cy="340.3" r="5.3"/><circle cx="1481.5" cy="339.5" r="5.3"/><circle cx="1486.1" cy="337.9" r="5.3"/><circle cx="1490.6" cy="334.6" r="5.3"/><circle cx="1495.2" cy="336.0" r="5.3"/><circle cx="1499.7" cy="336.3" r="5.3"/><circle cx="1504.3" cy="337.0" r="5.3"/><circle cx="1508.8" cy="336.9" r="5.3"/><circle cx="1513.4" cy="338.8" r="5.3"/><circle cx="1517.9" cy="339.4" r="5.3"/><circle cx="1522.5" cy="339.2" r="5.3"/><circle cx="1527.0" cy="339.6" r="5.3"/><circle cx="1531.6" cy="340.4" r="5.3"/><circle cx="1536.1" cy="341.2" r="5.3"/><circle cx="1540.7" cy="341.6" r="5.3"/><circle cx="1545.2" cy="342.4" r="5.3"/><circle cx="1549.8" cy="341.9" r="5.3"/><circle cx="1554.3" cy="342.5" r="5.3"/><circle cx="1558.9" cy="342.9" r="5.3"/><circle cx="1563.5" cy="343.3" r="5.3"/><circle cx="1568.0" cy="343.8" r="5.3"/><circle cx="1572.6" cy="343.9" r="5.3"/><circle cx="1577.1" cy="345.0" r="5.3"/><circle cx="1581.7" cy="344.3" r="5.3"/><circle cx="1586.2" cy="345.2" r="5.3"/><circle cx="1590.8" cy="345.9" r="5.3"/><circle cx="1595.3" cy="346.4" r="5.3"/><circle cx="1599.9" cy="346.4" r="5.3"/><circle cx="1604.4" cy="346.5" r="5.3"/><circle cx="1609.0" cy="346.9" r="5.3"/><circle cx="1613.5" cy="347.0" r="5.3"/><circle cx="1618.1" cy="347.0" r="5.3"/><circle cx="1622.6" cy="347.7" r="5.3"/><circle cx="1627.2" cy="347.9" r="5.3"/><circle cx="1631.7" cy="348.2" r="5.3"/><circle cx="1636.3" cy="348.9" r="5.3"/><circle cx="1640.8" cy="349.1" r="5.3"/><circle cx="1645.4" cy="349.3" r="5.3"/><circle cx="1650.0" cy="349.3" r="5.3"/><circle cx="1654.5" cy="350.1" r="5.3"/><circle cx="1659.1" cy="349.5" r="5.3"/><circle cx="1663.6" cy="350.5" r="5.3"/><circle cx="1668.2" cy="350.8" r="5.3"/><circle cx="1672.7" cy="351.0" r="5.3"/><circle cx="1677.3" cy="351.3" r="5.3"/><circle cx="1681.8" cy="351.3" r="5.3"/><circle cx="1686.4" cy="351.6" r="5.3"/><circle cx="1690.9" cy="351.4" r="5.3"/><circle cx="1695.5" cy="352.3" r="5.3"/><circle cx="1700.0" cy="352.2" r="5.3"/><circle cx="1704.6" cy="352.5" r="5.3"/><circle cx="1709.1" cy="352.9" r="5.3"/><circle cx="1713.7" cy="353.7" r="5.3"/><circle cx="1718.2" cy="352.5" r="5.3"/><circle cx="1722.8" cy="352.0" r="5.3"/><circle cx="1727.3" cy="351.8" r="5.3"/><circle cx="1731.9" cy="350.7" r="5.3"/><circle cx="1736.5" cy="350.0" r="5.3"/><circle cx="1741.0" cy="350.5" r="5.3"/><circle cx="1745.6" cy="350.9" r="5.3"/><circle cx="1750.1" cy="351.5" r="5.3"/><circle cx="1754.7" cy="351.4" r="5.3"/><circle cx="1759.2" cy="352.0" r="5.3"/><circle cx="1763.8" cy="352.0" r="5.3"/><circle cx="1768.3" cy="352.6" r="5.3"/><circle cx="1772.9" cy="352.8" r="5.3"/><circle cx="1777.4" cy="352.8" r="5.3"/><circle cx="1782.0" cy="353.3" r="5.3"/><circle cx="1786.5" cy="354.0" r="5.3"/><circle cx="1791.1" cy="353.5" r="5.3"/><circle cx="1795.6" cy="353.9" r="5.3"/><circle cx="1800.2" cy="354.2" r="5.3"/><circle cx="1804.7" cy="355.0" r="5.3"/><circle cx="1809.3" cy="354.9" r="5.3"/><circle cx="1813.8" cy="355.0" r="5.3"/><circle cx="1818.4" cy="355.4" r="5.3"/><circle cx="1822.9" cy="355.9" r="5.3"/><circle cx="1827.5" cy="355.9" r="5.3"/><circle cx="1832.1" cy="356.3" r="5.3"/><circle cx="1836.6" cy="356.8" r="5.3"/><circle cx="1841.2" cy="356.6" r="5.3"/><circle cx="1845.7" cy="356.9" r="5.3"/><circle cx="1850.3" cy="357.2" r="5.3"/><circle cx="1854.8" cy="356.8" r="5.3"/><circle cx="1859.4" cy="357.5" r="5.3"/><circle cx="1863.9" cy="357.1" r="5.3"/><circle cx="1868.5" cy="357.7" r="5.3"/><circle cx="1873.0" cy="357.7" r="5.3"/><circle cx="1877.6" cy="357.9" r="5.3"/><circle cx="1882.1" cy="357.8" r="5.3"/><circle cx="1886.7" cy="358.2" r="5.3"/><circle cx="1891.2" cy="358.3" r="5.3"/><circle cx="1895.8" cy="358.4" r="5.3"/><circle cx="1900.3" cy="358.8" r="5.3"/><circle cx="1904.9" cy="359.0" r="5.3"/><circle cx="1909.4" cy="359.2" r="5.3"/><circle cx="1914.0" cy="359.5" r="5.3"/><circle cx="1918.5" cy="358.9" r="5.3"/><circle cx="1923.1" cy="359.6" r="5.3"/><circle cx="1927.7" cy="359.5" r="5.3"/><circle cx="1932.2" cy="359.9" r="5.3"/><circle cx="1936.8" cy="359.5" r="5.3"/><circle cx="1941.3" cy="359.9" r="5.3"/></g><g fill="#0808f2"><circle cx="1326.7" cy="284.4" r="5.3"/><circle cx="1331.3" cy="265.5" r="5.3"/><circle cx="1335.8" cy="277.0" r="5.3"/><circle cx="1340.4" cy="285.3" r="5.3"/><circle cx="1344.9" cy="287.1" r="5.3"/><circle cx="1349.5" cy="288.8" r="5.3"/><circle cx="1354.0" cy="291.4" r="5.3"/><circle cx="1358.6" cy="293.6" r="5.3"/><circle cx="1363.1" cy="296.7" r="5.3"/><circle cx="1367.7" cy="299.5" r="5.3"/><circle cx="1372.2" cy="303.7" r="5.3"/><circle cx="1376.8" cy="308.4" r="5.3"/><circle cx="1381.4" cy="311.4" r="5.3"/><circle cx="1385.9" cy="313.8" r="5.3"/><circle cx="1390.5" cy="315.5" r="5.3"/><circle cx="1395.0" cy="315.2" r="5.3"/><circle cx="1399.6" cy="314.6" r="5.3"/><circle cx="1404.1" cy="318.3" r="5.3"/><circle cx="1408.7" cy="319.5" r="5.3"/><circle cx="1413.2" cy="322.0" r="5.3"/><circle cx="1417.8" cy="323.5" r="5.3"/><circle cx="1422.3" cy="325.1" r="5.3"/><circle cx="1426.9" cy="324.7" r="5.3"/><circle cx="1431.4" cy="325.4" r="5.3"/><circle cx="1436.0" cy="327.0" r="5.3"/><circle cx="1440.5" cy="329.9" r="5.3"/><circle cx="1445.1" cy="329.7" r="5.3"/><circle cx="1449.6" cy="331.1" r="5.3"/><circle cx="1454.2" cy="332.6" r="5.3"/><circle cx="1458.7" cy="334.5" r="5.3"/><circle cx="1463.3" cy="336.2" r="5.3"/><circle cx="1467.9" cy="336.1" r="5.3"/><circle cx="1472.4" cy="338.2" r="5.3"/><circle cx="1477.0" cy="339.9" r="5.3"/><circle cx="1481.5" cy="339.2" r="5.3"/><circle cx="1486.1" cy="337.5" r="5.3"/><circle cx="1490.6" cy="334.2" r="5.3"/><circle cx="1495.2" cy="335.6" r="5.3"/><circle cx="1499.7" cy="335.9" r="5.3"/><circle cx="1504.3" cy="336.6" r="5.3"/><circle cx="1508.8" cy="336.5" r="5.3"/><circle cx="1513.4" cy="338.4" r="5.3"/><circle cx="1517.9" cy="339.0" r="5.3"/><circle cx="1522.5" cy="338.8" r="5.3"/><circle cx="1527.0" cy="339.2" r="5.3"/><circle cx="1531.6" cy="340.0" r="5.3"/><circle cx="1536.1" cy="340.8" r="5.3"/><circle cx="1540.7" cy="341.2" r="5.3"/><circle cx="1545.2" cy="342.1" r="5.3"/><circle cx="1549.8" cy="341.5" r="5.3"/><circle cx="1554.3" cy="342.1" r="5.3"/><circle cx="1558.9" cy="342.5" r="5.3"/><circle cx="1563.5" cy="343.0" r="5.3"/><circle cx="1568.0" cy="343.4" r="5.3"/><circle cx="1572.6" cy="343.6" r="5.3"/><circle cx="1577.1" cy="344.6" r="5.3"/><circle cx="1581.7" cy="343.9" r="5.3"/><circle cx="1586.2" cy="344.8" r="5.3"/><circle cx="1590.8" cy="345.6" r="5.3"/><circle cx="1595.3" cy="346.0" r="5.3"/><circle cx="1599.9" cy="346.0" r="5.3"/><circle cx="1604.4" cy="346.1" r="5.3"/><circle cx="1609.0" cy="346.5" r="5.3"/><circle cx="1613.5" cy="346.6" r="5.3"/><circle cx="1618.1" cy="346.7" r="5.3"/><circle cx="1622.6" cy="347.3" r="5.3"/><circle cx="1627.2" cy="347.5" r="5.3"/><circle cx="1631.7" cy="347.8" r="5.3"/><circle cx="1636.3" cy="348.5" r="5.3"/><circle cx="1640.8" cy="348.7" r="5.3"/><circle cx="1645.4" cy="348.9" r="5.3"/><circle cx="1650.0" cy="348.9" r="5.3"/><circle cx="1654.5" cy="349.7" r="5.3"/><circle cx="1659.1" cy="349.1" r="5.3"/><circle cx="1663.6" cy="350.1" r="5.3"/><circle cx="1668.2" cy="350.4" r="5.3"/><circle cx="1672.7" cy="350.6" r="5.3"/><circle cx="1677.3" cy="351.0" r="5.3"/><circle cx="1681.8" cy="351.0" r="5.3"/><circle cx="1686.4" cy="351.2" r="5.3"/><circle cx="1690.9" cy="351.1" r="5.3"/><circle cx="1695.5" cy="351.9" r="5.3"/><circle cx="1700.0" cy="351.8" r="5.3"/><circle cx="1704.6" cy="352.1" r="5.3"/><circle cx="1709.1" cy="352.5" r="5.3"/><circle cx="1713.7" cy="353.4" r="5.3"/><circle cx="1718.2" cy="352.2" r="5.3"/><circle cx="1722.8" cy="351.7" r="5.3"/><circle cx="1727.3" cy="351.4" r="5.3"/><circle cx="1731.9" cy="350.4" r="5.3"/><circle cx="1736.5" cy="349.7" r="5.3"/><circle cx="1741.0" cy="350.1" r="5.3"/><circle cx="1745.6" cy="350.6" r="5.3"/><circle cx="1750.1" cy="351.1" r="5.3"/><circle cx="1754.7" cy="351.0" r="5.3"/><circle cx="1759.2" cy="351.6" r="5.3"/><circle cx="1763.8" cy="351.6" r="5.3"/><circle cx="1768.3" cy="352.2" r="5.3"/><circle cx="1772.9" cy="352.5" r="5.3"/><circle cx="1777.4" cy="352.4" r="5.3"/><circle cx="1782.0" cy="353.0" r="5.3"/><circle cx="1786.5" cy="353.6" r="5.3"/><circle cx="1791.1" cy="353.2" r="5.3"/><circle cx="1795.6" cy="353.6" r="5.3"/><circle cx="1800.2" cy="353.8" r="5.3"/><circle cx="1804.7" cy="354.6" r="5.3"/><circle cx="1809.3" cy="354.6" r="5.3"/><circle cx="1813.8" cy="354.6" r="5.3"/><circle cx="1818.4" cy="355.0" r="5.3"/><circle cx="1822.9" cy="355.6" r="5.3"/><circle cx="1827.5" cy="355.5" r="5.3"/><circle cx="1832.1" cy="356.0" r="5.3"/><circle cx="1836.6" cy="356.4" r="5.3"/><circle cx="1841.2" cy="356.3" r="5.3"/><circle cx="1845.7" cy="356.5" r="5.3"/><circle cx="1850.3" cy="356.8" r="5.3"/><circle cx="1854.8" cy="356.5" r="5.3"/><circle cx="1859.4" cy="357.1" r="5.3"/><circle cx="1863.9" cy="356.7" r="5.3"/><circle cx="1868.5" cy="357.3" r="5.3"/><circle cx="1873.0" cy="357.4" r="5.3"/><circle cx="1877.6" cy="357.5" r="5.3"/><circle cx="1882.1" cy="357.5" r="5.3"/><circle cx="1886.7" cy="357.9" r="5.3"/><circle cx="1891.2" cy="358.0" r="5.3"/><circle cx="1895.8" cy="358.1" r="5.3"/><circle cx="1900.3" cy="358.5" r="5.3"/><circle cx="1904.9" cy="358.6" r="5.3"/><circle cx="1909.4" cy="358.9" r="5.3"/><circle cx="1914.0" cy="359.1" r="5.3"/><circle cx="1918.5" cy="358.5" r="5.3"/><circle cx="1923.1" cy="359.2" r="5.3"/><circle cx="1927.7" cy="359.1" r="5.3"/><circle cx="1932.2" cy="359.6" r="5.3"/><circle cx="1936.8" cy="359.2" r="5.3"/><circle cx="1941.3" cy="359.6" r="5.3"/></g><circle cx="1333.7" cy="133.6" r="4.5" fill="#dc1010"/><circle cx="1543.1" cy="133.6" r="4.5" fill="#16e616"/><circle cx="1742.7" cy="133.6" r="4.5" fill="#0808f2"/></g>
<g font-family="'Liberation Sans', Arial, sans-serif" font-weight="bold" font-size="33.0" fill="#000" stroke="#000" stroke-width="0.45"><text x="1243.9" y="410.4" text-anchor="end" font-size="34.6">0</text><text x="1243.9" y="343.7" text-anchor="end" font-size="34.6">1</text><text x="1243.9" y="277.1" text-anchor="end" font-size="34.6">2</text><text x="1243.9" y="210.4" text-anchor="end" font-size="34.6">3</text><text x="1281.2" y="459.0" text-anchor="middle" font-size="34.6">0</text><text x="1372.2" y="459.0" text-anchor="middle" font-size="34.6">20</text><text x="1463.3" y="459.0" text-anchor="middle" font-size="34.6">40</text><text x="1554.3" y="459.0" text-anchor="middle" font-size="34.6">60</text><text x="1645.4" y="459.0" text-anchor="middle" font-size="34.6">80</text><text x="1736.5" y="459.0" text-anchor="middle" font-size="34.6">100</text><text x="1827.5" y="459.0" text-anchor="middle" font-size="34.6">120</text><text x="1918.5" y="459.0" text-anchor="middle" font-size="34.6">140</text><text x="2009.6" y="459.0" text-anchor="middle" font-size="34.6">160</text><text x="1645.4" y="510.9" text-anchor="middle" textLength="218.8" lengthAdjust="spacingAndGlyphs">No. of Sample</text><text transform="translate(1209.3,299.2) rotate(-90)" text-anchor="middle" textLength="95.2" lengthAdjust="spacingAndGlyphs">SE (m)</text><text x="1354.1" y="145.0" textLength="140.2" lengthAdjust="spacingAndGlyphs">Ast30.nn</text><text x="1563.6" y="145.0" textLength="130.3" lengthAdjust="spacingAndGlyphs">Ast30.bl</text><text x="1762.1" y="145.0" textLength="137.2" lengthAdjust="spacingAndGlyphs">Ast30.bc</text></g>
<g><line x1="1383.6" y1="611.1" x2="1383.6" y2="808.9" stroke="#5e5e5e" stroke-width="1.9" stroke-dasharray="6 4.75"/><line x1="1473.4" y1="611.1" x2="1473.4" y2="808.9" stroke="#5e5e5e" stroke-width="1.9" stroke-dasharray="6 4.75"/><line x1="1563.1" y1="611.1" x2="1563.1" y2="808.9" stroke="#5e5e5e" stroke-width="1.9" stroke-dasharray="6 4.75"/><line x1="1652.8" y1="611.1" x2="1652.8" y2="808.9" stroke="#5e5e5e" stroke-width="1.9" stroke-dasharray="6 4.75"/><line x1="1742.6" y1="611.1" x2="1742.6" y2="808.9" stroke="#5e5e5e" stroke-width="1.9" stroke-dasharray="6 4.75"/><line x1="1832.3" y1="611.1" x2="1832.3" y2="808.9" stroke="#5e5e5e" stroke-width="1.9" stroke-dasharray="6 4.75"/><line x1="1922.1" y1="611.1" x2="1922.1" y2="808.9" stroke="#5e5e5e" stroke-width="1.9" stroke-dasharray="6 4.75"/><line x1="1293.9" y1="743.0" x2="2011.8" y2="743.0" stroke="#6c6c6c" stroke-width="1.9" stroke-dasharray="6.3 4.5 2.3 3.7"/><line x1="1293.9" y1="677.0" x2="2011.8" y2="677.0" stroke="#6c6c6c" stroke-width="1.9" stroke-dasharray="6.3 4.5 2.3 3.7"/><rect x="1293.9" y="611.1" width="717.9" height="197.8" fill="none" stroke="#1a1a1a" stroke-width="2.7"/><line x1="1281.9" y1="808.9" x2="1293.9" y2="808.9" stroke="#1a1a1a" stroke-width="2.7"/><line x1="1281.9" y1="743.0" x2="1293.9" y2="743.0" stroke="#1a1a1a" stroke-width="2.7"/><line x1="1281.9" y1="677.0" x2="1293.9" y2="677.0" stroke="#1a1a1a" stroke-width="2.7"/><line x1="1281.9" y1="611.1" x2="1293.9" y2="611.1" stroke="#1a1a1a" stroke-width="2.7"/><line x1="1293.9" y1="808.9" x2="1293.9" y2="820.9" stroke="#1a1a1a" stroke-width="2.7"/><line x1="1383.6" y1="808.9" x2="1383.6" y2="820.9" stroke="#1a1a1a" stroke-width="2.7"/><line x1="1473.4" y1="808.9" x2="1473.4" y2="820.9" stroke="#1a1a1a" stroke-width="2.7"/><line x1="1563.1" y1="808.9" x2="1563.1" y2="820.9" stroke="#1a1a1a" stroke-width="2.7"/><line x1="1652.8" y1="808.9" x2="1652.8" y2="820.9" stroke="#1a1a1a" stroke-width="2.7"/><line x1="1742.6" y1="808.9" x2="1742.6" y2="820.9" stroke="#1a1a1a" stroke-width="2.7"/><line x1="1832.3" y1="808.9" x2="1832.3" y2="820.9" stroke="#1a1a1a" stroke-width="2.7"/><line x1="1922.1" y1="808.9" x2="1922.1" y2="820.9" stroke="#1a1a1a" stroke-width="2.7"/><line x1="2011.8" y1="808.9" x2="2011.8" y2="820.9" stroke="#1a1a1a" stroke-width="2.7"/><g fill="#dc1010"><circle cx="1338.8" cy="726.5" r="5.3"/><circle cx="1343.3" cy="691.5" r="5.3"/><circle cx="1347.7" cy="703.3" r="5.3"/><circle cx="1352.2" cy="709.4" r="5.3"/><circle cx="1356.7" cy="712.0" r="5.3"/><circle cx="1361.2" cy="705.1" r="5.3"/><circle cx="1365.7" cy="708.6" r="5.3"/><circle cx="1370.2" cy="714.1" r="5.3"/><circle cx="1374.7" cy="718.5" r="5.3"/><circle cx="1379.2" cy="724.2" r="5.3"/><circle cx="1383.6" cy="728.6" r="5.3"/><circle cx="1388.1" cy="730.8" r="5.3"/><circle cx="1392.6" cy="733.9" r="5.3"/><circle cx="1397.1" cy="736.0" r="5.3"/><circle cx="1401.6" cy="736.1" r="5.3"/><circle cx="1406.1" cy="736.2" r="5.3"/><circle cx="1410.6" cy="736.2" r="5.3"/><circle cx="1415.0" cy="737.0" r="5.3"/><circle cx="1419.5" cy="739.0" r="5.3"/><circle cx="1424.0" cy="740.5" r="5.3"/><circle cx="1428.5" cy="742.6" r="5.3"/><circle cx="1433.0" cy="741.4" r="5.3"/><circle cx="1437.5" cy="737.4" r="5.3"/><circle cx="1442.0" cy="739.1" r="5.3"/><circle cx="1446.5" cy="738.2" r="5.3"/><circle cx="1450.9" cy="740.9" r="5.3"/><circle cx="1455.4" cy="741.7" r="5.3"/><circle cx="1459.9" cy="742.4" r="5.3"/><circle cx="1464.4" cy="742.8" r="5.3"/><circle cx="1468.9" cy="745.0" r="5.3"/><circle cx="1473.4" cy="745.4" r="5.3"/><circle cx="1477.9" cy="746.6" r="5.3"/><circle cx="1482.3" cy="748.7" r="5.3"/><circle cx="1486.8" cy="749.8" r="5.3"/><circle cx="1491.3" cy="750.8" r="5.3"/><circle cx="1495.8" cy="752.4" r="5.3"/><circle cx="1500.3" cy="746.1" r="5.3"/><circle cx="1504.8" cy="747.0" r="5.3"/><circle cx="1509.3" cy="747.1" r="5.3"/><circle cx="1513.8" cy="747.7" r="5.3"/><circle cx="1518.2" cy="747.9" r="5.3"/><circle cx="1522.7" cy="748.5" r="5.3"/><circle cx="1527.2" cy="749.2" r="5.3"/><circle cx="1531.7" cy="750.0" r="5.3"/><circle cx="1536.2" cy="750.6" r="5.3"/><circle cx="1540.7" cy="751.2" r="5.3"/><circle cx="1545.2" cy="751.8" r="5.3"/><circle cx="1549.7" cy="752.6" r="5.3"/><circle cx="1554.1" cy="753.3" r="5.3"/><circle cx="1558.6" cy="754.0" r="5.3"/><circle cx="1563.1" cy="755.3" r="5.3"/><circle cx="1567.6" cy="755.5" r="5.3"/><circle cx="1572.1" cy="757.2" r="5.3"/><circle cx="1576.6" cy="757.0" r="5.3"/><circle cx="1581.1" cy="757.5" r="5.3"/><circle cx="1585.5" cy="758.3" r="5.3"/><circle cx="1590.0" cy="757.3" r="5.3"/><circle cx="1594.5" cy="757.4" r="5.3"/><circle cx="1599.0" cy="757.9" r="5.3"/><circle cx="1603.5" cy="759.1" r="5.3"/><circle cx="1608.0" cy="759.4" r="5.3"/><circle cx="1612.5" cy="758.9" r="5.3"/><circle cx="1617.0" cy="759.2" r="5.3"/><circle cx="1621.4" cy="759.7" r="5.3"/><circle cx="1625.9" cy="760.1" r="5.3"/><circle cx="1630.4" cy="760.7" r="5.3"/><circle cx="1634.9" cy="760.6" r="5.3"/><circle cx="1639.4" cy="761.5" r="5.3"/><circle cx="1643.9" cy="761.6" r="5.3"/><circle cx="1648.4" cy="761.7" r="5.3"/><circle cx="1652.8" cy="761.7" r="5.3"/><circle cx="1657.3" cy="762.2" r="5.3"/><circle cx="1661.8" cy="762.4" r="5.3"/><circle cx="1666.3" cy="762.7" r="5.3"/><circle cx="1670.8" cy="763.1" r="5.3"/><circle cx="1675.3" cy="763.7" r="5.3"/><circle cx="1679.8" cy="763.9" r="5.3"/><circle cx="1684.3" cy="764.2" r="5.3"/><circle cx="1688.7" cy="764.7" r="5.3"/><circle cx="1693.2" cy="764.9" r="5.3"/><circle cx="1697.7" cy="765.2" r="5.3"/><circle cx="1702.2" cy="765.8" r="5.3"/><circle cx="1706.7" cy="766.1" r="5.3"/><circle cx="1711.2" cy="766.1" r="5.3"/><circle cx="1715.7" cy="766.2" r="5.3"/><circle cx="1720.2" cy="765.5" r="5.3"/><circle cx="1724.6" cy="764.8" r="5.3"/><circle cx="1729.1" cy="764.3" r="5.3"/><circle cx="1733.6" cy="763.7" r="5.3"/><circle cx="1738.1" cy="763.2" r="5.3"/><circle cx="1742.6" cy="762.8" r="5.3"/><circle cx="1747.1" cy="763.5" r="5.3"/><circle cx="1751.6" cy="763.1" r="5.3"/><circle cx="1756.0" cy="763.2" r="5.3"/><circle cx="1760.5" cy="763.6" r="5.3"/><circle cx="1765.0" cy="763.4" r="5.3"/><circle cx="1769.5" cy="763.8" r="5.3"/><circle cx="1774.0" cy="764.3" r="5.3"/><circle cx="1778.5" cy="764.8" r="5.3"/><circle cx="1783.0" cy="764.6" r="5.3"/><circle cx="1787.5" cy="765.0" r="5.3"/><circle cx="1791.9" cy="765.9" r="5.3"/><circle cx="1796.4" cy="765.8" r="5.3"/><circle cx="1800.9" cy="765.9" r="5.3"/><circle cx="1805.4" cy="766.7" r="5.3"/><circle cx="1809.9" cy="766.3" r="5.3"/><circle cx="1814.4" cy="767.1" r="5.3"/><circle cx="1818.9" cy="767.2" r="5.3"/><circle cx="1823.4" cy="767.7" r="5.3"/><circle cx="1827.8" cy="767.9" r="5.3"/><circle cx="1832.3" cy="768.1" r="5.3"/><circle cx="1836.8" cy="768.0" r="5.3"/><circle cx="1841.3" cy="768.6" r="5.3"/><circle cx="1845.8" cy="768.5" r="5.3"/><circle cx="1850.3" cy="768.6" r="5.3"/><circle cx="1854.8" cy="769.0" r="5.3"/><circle cx="1859.2" cy="769.0" r="5.3"/><circle cx="1863.7" cy="769.6" r="5.3"/><circle cx="1868.2" cy="769.7" r="5.3"/><circle cx="1872.7" cy="769.7" r="5.3"/><circle cx="1877.2" cy="770.1" r="5.3"/><circle cx="1881.7" cy="770.1" r="5.3"/><circle cx="1886.2" cy="770.1" r="5.3"/><circle cx="1890.7" cy="770.3" r="5.3"/><circle cx="1895.1" cy="770.5" r="5.3"/><circle cx="1899.6" cy="770.7" r="5.3"/><circle cx="1904.1" cy="770.5" r="5.3"/><circle cx="1908.6" cy="770.8" r="5.3"/><circle cx="1913.1" cy="771.5" r="5.3"/><circle cx="1917.6" cy="770.9" r="5.3"/><circle cx="1922.1" cy="770.9" r="5.3"/><circle cx="1926.5" cy="771.2" r="5.3"/><circle cx="1931.0" cy="771.3" r="5.3"/><circle cx="1935.5" cy="771.9" r="5.3"/><circle cx="1940.0" cy="771.4" r="5.3"/><circle cx="1944.5" cy="771.8" r="5.3"/></g><g fill="#16e616"><circle cx="1338.8" cy="727.1" r="5.3"/><circle cx="1343.3" cy="693.5" r="5.3"/><circle cx="1347.7" cy="703.8" r="5.3"/><circle cx="1352.2" cy="710.0" r="5.3"/><circle cx="1356.7" cy="712.6" r="5.3"/><circle cx="1361.2" cy="705.9" r="5.3"/><circle cx="1365.7" cy="709.4" r="5.3"/><circle cx="1370.2" cy="715.1" r="5.3"/><circle cx="1374.7" cy="719.6" r="5.3"/><circle cx="1379.2" cy="725.3" r="5.3"/><circle cx="1383.6" cy="729.8" r="5.3"/><circle cx="1388.1" cy="732.1" r="5.3"/><circle cx="1392.6" cy="735.3" r="5.3"/><circle cx="1397.1" cy="737.4" r="5.3"/><circle cx="1401.6" cy="737.6" r="5.3"/><circle cx="1406.1" cy="737.8" r="5.3"/><circle cx="1410.6" cy="737.8" r="5.3"/><circle cx="1415.0" cy="738.7" r="5.3"/><circle cx="1419.5" cy="740.7" r="5.3"/><circle cx="1424.0" cy="742.3" r="5.3"/><circle cx="1428.5" cy="744.5" r="5.3"/><circle cx="1433.0" cy="743.4" r="5.3"/><circle cx="1437.5" cy="739.4" r="5.3"/><circle cx="1442.0" cy="741.2" r="5.3"/><circle cx="1446.5" cy="740.3" r="5.3"/><circle cx="1450.9" cy="743.1" r="5.3"/><circle cx="1455.4" cy="744.0" r="5.3"/><circle cx="1459.9" cy="744.8" r="5.3"/><circle cx="1464.4" cy="745.2" r="5.3"/><circle cx="1468.9" cy="747.4" r="5.3"/><circle cx="1473.4" cy="747.9" r="5.3"/><circle cx="1477.9" cy="749.1" r="5.3"/><circle cx="1482.3" cy="751.2" r="5.3"/><circle cx="1486.8" cy="752.3" r="5.3"/><circle cx="1491.3" cy="753.3" r="5.3"/><circle cx="1495.8" cy="754.8" r="5.3"/><circle cx="1500.3" cy="748.5" r="5.3"/><circle cx="1504.8" cy="749.5" r="5.3"/><circle cx="1509.3" cy="749.6" r="5.3"/><circle cx="1513.8" cy="750.2" r="5.3"/><circle cx="1518.2" cy="750.3" r="5.3"/><circle cx="1522.7" cy="750.9" r="5.3"/><circle cx="1527.2" cy="751.7" r="5.3"/><circle cx="1531.7" cy="752.4" r="5.3"/><circle cx="1536.2" cy="753.1" r="5.3"/><circle cx="1540.7" cy="753.6" r="5.3"/><circle cx="1545.2" cy="754.2" r="5.3"/><circle cx="1549.7" cy="755.0" r="5.3"/><circle cx="1554.1" cy="755.6" r="5.3"/><circle cx="1558.6" cy="756.4" r="5.3"/><circle cx="1563.1" cy="757.7" r="5.3"/><circle cx="1567.6" cy="757.9" r="5.3"/><circle cx="1572.1" cy="759.5" r="5.3"/><circle cx="1576.6" cy="759.4" r="5.3"/><circle cx="1581.1" cy="759.8" r="5.3"/><circle cx="1585.5" cy="760.6" r="5.3"/><circle cx="1590.0" cy="759.7" r="5.3"/><circle cx="1594.5" cy="759.7" r="5.3"/><circle cx="1599.0" cy="760.2" r="5.3"/><circle cx="1603.5" cy="761.4" r="5.3"/><circle cx="1608.0" cy="761.6" r="5.3"/><circle cx="1612.5" cy="761.1" r="5.3"/><circle cx="1617.0" cy="761.4" r="5.3"/><circle cx="1621.4" cy="762.0" r="5.3"/><circle cx="1625.9" cy="762.3" r="5.3"/><circle cx="1630.4" cy="762.9" r="5.3"/><circle cx="1634.9" cy="762.8" r="5.3"/><circle cx="1639.4" cy="763.7" r="5.3"/><circle cx="1643.9" cy="763.9" r="5.3"/><circle cx="1648.4" cy="763.9" r="5.3"/><circle cx="1652.8" cy="763.9" r="5.3"/><circle cx="1657.3" cy="764.4" r="5.3"/><circle cx="1661.8" cy="764.6" r="5.3"/><circle cx="1666.3" cy="764.9" r="5.3"/><circle cx="1670.8" cy="765.3" r="5.3"/><circle cx="1675.3" cy="765.9" r="5.3"/><circle cx="1679.8" cy="766.0" r="5.3"/><circle cx="1684.3" cy="766.3" r="5.3"/><circle cx="1688.7" cy="766.8" r="5.3"/><circle cx="1693.2" cy="767.0" r="5.3"/><circle cx="1697.7" cy="767.3" r="5.3"/><circle cx="1702.2" cy="767.9" r="5.3"/><circle cx="1706.7" cy="768.2" r="5.3"/><circle cx="1711.2" cy="768.2" r="5.3"/><circle cx="1715.7" cy="768.3" r="5.3"/><circle cx="1720.2" cy="767.6" r="5.3"/><circle cx="1724.6" cy="766.8" r="5.3"/><circle cx="1729.1" cy="766.4" r="5.3"/><circle cx="1733.6" cy="765.8" r="5.3"/><circle cx="1738.1" cy="765.3" r="5.3"/><circle cx="1742.6" cy="764.8" r="5.3"/><circle cx="1747.1" cy="765.5" r="5.3"/><circle cx="1751.6" cy="765.1" r="5.3"/><circle cx="1756.0" cy="765.2" r="5.3"/><circle cx="1760.5" cy="765.6" r="5.3"/><circle cx="1765.0" cy="765.4" r="5.3"/><circle cx="1769.5" cy="765.8" r="5.3"/><circle cx="1774.0" cy="766.2" r="5.3"/><circle cx="1778.5" cy="766.7" r="5.3"/><circle cx="1783.0" cy="766.6" r="5.3"/><circle cx="1787.5" cy="766.9" r="5.3"/><circle cx="1791.9" cy="767.8" r="5.3"/><circle cx="1796.4" cy="767.7" r="5.3"/><circle cx="1800.9" cy="767.8" r="5.3"/><circle cx="1805.4" cy="768.6" r="5.3"/><circle cx="1809.9" cy="768.2" r="5.3"/><circle cx="1814.4" cy="769.0" r="5.3"/><circle cx="1818.9" cy="769.1" r="5.3"/><circle cx="1823.4" cy="769.6" r="5.3"/><circle cx="1827.8" cy="769.7" r="5.3"/><circle cx="1832.3" cy="770.0" r="5.3"/><circle cx="1836.8" cy="769.8" r="5.3"/><circle cx="1841.3" cy="770.4" r="5.3"/><circle cx="1845.8" cy="770.3" r="5.3"/><circle cx="1850.3" cy="770.5" r="5.3"/><circle cx="1854.8" cy="770.8" r="5.3"/><circle cx="1859.2" cy="770.8" r="5.3"/><circle cx="1863.7" cy="771.4" r="5.3"/><circle cx="1868.2" cy="771.5" r="5.3"/><circle cx="1872.7" cy="771.5" r="5.3"/><circle cx="1877.2" cy="771.9" r="5.3"/><circle cx="1881.7" cy="771.8" r="5.3"/><circle cx="1886.2" cy="771.8" r="5.3"/><circle cx="1890.7" cy="772.1" r="5.3"/><circle cx="1895.1" cy="772.2" r="5.3"/><circle cx="1899.6" cy="772.4" r="5.3"/><circle cx="1904.1" cy="772.2" r="5.3"/><circle cx="1908.6" cy="772.5" r="5.3"/><circle cx="1913.1" cy="773.2" r="5.3"/><circle cx="1917.6" cy="772.6" r="5.3"/><circle cx="1922.1" cy="772.6" r="5.3"/><circle cx="1926.5" cy="772.9" r="5.3"/><circle cx="1931.0" cy="772.9" r="5.3"/><circle cx="1935.5" cy="773.5" r="5.3"/><circle cx="1940.0" cy="773.1" r="5.3"/><circle cx="1944.5" cy="773.5" r="5.3"/></g><g fill="#0808f2"><circle cx="1338.8" cy="726.7" r="5.3"/><circle cx="1343.3" cy="695.9" r="5.3"/><circle cx="1347.7" cy="703.3" r="5.3"/><circle cx="1352.2" cy="709.5" r="5.3"/><circle cx="1356.7" cy="712.1" r="5.3"/><circle cx="1361.2" cy="705.4" r="5.3"/><circle cx="1365.7" cy="708.9" r="5.3"/><circle cx="1370.2" cy="714.6" r="5.3"/><circle cx="1374.7" cy="719.0" r="5.3"/><circle cx="1379.2" cy="724.8" r="5.3"/><circle cx="1383.6" cy="729.2" r="5.3"/><circle cx="1388.1" cy="731.6" r="5.3"/><circle cx="1392.6" cy="734.7" r="5.3"/><circle cx="1397.1" cy="736.9" r="5.3"/><circle cx="1401.6" cy="737.1" r="5.3"/><circle cx="1406.1" cy="737.2" r="5.3"/><circle cx="1410.6" cy="737.3" r="5.3"/><circle cx="1415.0" cy="738.2" r="5.3"/><circle cx="1419.5" cy="740.2" r="5.3"/><circle cx="1424.0" cy="741.8" r="5.3"/><circle cx="1428.5" cy="744.0" r="5.3"/><circle cx="1433.0" cy="742.8" r="5.3"/><circle cx="1437.5" cy="738.9" r="5.3"/><circle cx="1442.0" cy="740.7" r="5.3"/><circle cx="1446.5" cy="739.8" r="5.3"/><circle cx="1450.9" cy="742.6" r="5.3"/><circle cx="1455.4" cy="743.5" r="5.3"/><circle cx="1459.9" cy="744.2" r="5.3"/><circle cx="1464.4" cy="744.7" r="5.3"/><circle cx="1468.9" cy="746.9" r="5.3"/><circle cx="1473.4" cy="747.4" r="5.3"/><circle cx="1477.9" cy="748.6" r="5.3"/><circle cx="1482.3" cy="750.7" r="5.3"/><circle cx="1486.8" cy="751.8" r="5.3"/><circle cx="1491.3" cy="752.8" r="5.3"/><circle cx="1495.8" cy="754.3" r="5.3"/><circle cx="1500.3" cy="748.0" r="5.3"/><circle cx="1504.8" cy="748.9" r="5.3"/><circle cx="1509.3" cy="749.0" r="5.3"/><circle cx="1513.8" cy="749.7" r="5.3"/><circle cx="1518.2" cy="749.8" r="5.3"/><circle cx="1522.7" cy="750.4" r="5.3"/><circle cx="1527.2" cy="751.1" r="5.3"/><circle cx="1531.7" cy="751.9" r="5.3"/><circle cx="1536.2" cy="752.5" r="5.3"/><circle cx="1540.7" cy="753.0" r="5.3"/><circle cx="1545.2" cy="753.7" r="5.3"/><circle cx="1549.7" cy="754.5" r="5.3"/><circle cx="1554.1" cy="755.1" r="5.3"/><circle cx="1558.6" cy="755.9" r="5.3"/><circle cx="1563.1" cy="757.2" r="5.3"/><circle cx="1567.6" cy="757.4" r="5.3"/><circle cx="1572.1" cy="759.0" r="5.3"/><circle cx="1576.6" cy="758.9" r="5.3"/><circle cx="1581.1" cy="759.3" r="5.3"/><circle cx="1585.5" cy="760.1" r="5.3"/><circle cx="1590.0" cy="759.2" r="5.3"/><circle cx="1594.5" cy="759.2" r="5.3"/><circle cx="1599.0" cy="759.7" r="5.3"/><circle cx="1603.5" cy="760.9" r="5.3"/><circle cx="1608.0" cy="761.2" r="5.3"/><circle cx="1612.5" cy="760.6" r="5.3"/><circle cx="1617.0" cy="761.0" r="5.3"/><circle cx="1621.4" cy="761.5" r="5.3"/><circle cx="1625.9" cy="761.9" r="5.3"/><circle cx="1630.4" cy="762.4" r="5.3"/><circle cx="1634.9" cy="762.3" r="5.3"/><circle cx="1639.4" cy="763.2" r="5.3"/><circle cx="1643.9" cy="763.4" r="5.3"/><circle cx="1648.4" cy="763.4" r="5.3"/><circle cx="1652.8" cy="763.4" r="5.3"/><circle cx="1657.3" cy="763.9" r="5.3"/><circle cx="1661.8" cy="764.2" r="5.3"/><circle cx="1666.3" cy="764.4" r="5.3"/><circle cx="1670.8" cy="764.8" r="5.3"/><circle cx="1675.3" cy="765.4" r="5.3"/><circle cx="1679.8" cy="765.5" r="5.3"/><circle cx="1684.3" cy="765.9" r="5.3"/><circle cx="1688.7" cy="766.3" r="5.3"/><circle cx="1693.2" cy="766.5" r="5.3"/><circle cx="1697.7" cy="766.8" r="5.3"/><circle cx="1702.2" cy="767.4" r="5.3"/><circle cx="1706.7" cy="767.8" r="5.3"/><circle cx="1711.2" cy="767.7" r="5.3"/><circle cx="1715.7" cy="767.9" r="5.3"/><circle cx="1720.2" cy="767.1" r="5.3"/><circle cx="1724.6" cy="766.4" r="5.3"/><circle cx="1729.1" cy="766.0" r="5.3"/><circle cx="1733.6" cy="765.3" r="5.3"/><circle cx="1738.1" cy="764.9" r="5.3"/><circle cx="1742.6" cy="764.4" r="5.3"/><circle cx="1747.1" cy="765.0" r="5.3"/><circle cx="1751.6" cy="764.7" r="5.3"/><circle cx="1756.0" cy="764.8" r="5.3"/><circle cx="1760.5" cy="765.2" r="5.3"/><circle cx="1765.0" cy="765.0" r="5.3"/><circle cx="1769.5" cy="765.4" r="5.3"/><circle cx="1774.0" cy="765.8" r="5.3"/><circle cx="1778.5" cy="766.3" r="5.3"/><circle cx="1783.0" cy="766.2" r="5.3"/><circle cx="1787.5" cy="766.5" r="5.3"/><circle cx="1791.9" cy="767.4" r="5.3"/><circle cx="1796.4" cy="767.3" r="5.3"/><circle cx="1800.9" cy="767.4" r="5.3"/><circle cx="1805.4" cy="768.2" r="5.3"/><circle cx="1809.9" cy="767.8" r="5.3"/><circle cx="1814.4" cy="768.6" r="5.3"/><circle cx="1818.9" cy="768.7" r="5.3"/><circle cx="1823.4" cy="769.2" r="5.3"/><circle cx="1827.8" cy="769.3" r="5.3"/><circle cx="1832.3" cy="769.6" r="5.3"/><circle cx="1836.8" cy="769.5" r="5.3"/><circle cx="1841.3" cy="770.0" r="5.3"/><circle cx="1845.8" cy="770.0" r="5.3"/><circle cx="1850.3" cy="770.1" r="5.3"/><circle cx="1854.8" cy="770.5" r="5.3"/><circle cx="1859.2" cy="770.4" r="5.3"/><circle cx="1863.7" cy="771.0" r="5.3"/><circle cx="1868.2" cy="771.2" r="5.3"/><circle cx="1872.7" cy="771.1" r="5.3"/><circle cx="1877.2" cy="771.5" r="5.3"/><circle cx="1881.7" cy="771.5" r="5.3"/><circle cx="1886.2" cy="771.5" r="5.3"/><circle cx="1890.7" cy="771.7" r="5.3"/><circle cx="1895.1" cy="771.9" r="5.3"/><circle cx="1899.6" cy="772.1" r="5.3"/><circle cx="1904.1" cy="771.9" r="5.3"/><circle cx="1908.6" cy="772.2" r="5.3"/><circle cx="1913.1" cy="772.9" r="5.3"/><circle cx="1917.6" cy="772.2" r="5.3"/><circle cx="1922.1" cy="772.2" r="5.3"/><circle cx="1926.5" cy="772.6" r="5.3"/><circle cx="1931.0" cy="772.6" r="5.3"/><circle cx="1935.5" cy="773.2" r="5.3"/><circle cx="1940.0" cy="772.8" r="5.3"/><circle cx="1944.5" cy="773.2" r="5.3"/></g><circle cx="1352.7" cy="547.6" r="4.5" fill="#dc1010"/><circle cx="1553.5" cy="547.6" r="4.5" fill="#16e616"/><circle cx="1746.2" cy="547.6" r="4.5" fill="#0808f2"/></g>
<g font-family="'Liberation Sans', Arial, sans-serif" font-weight="bold" font-size="33.0" fill="#000" stroke="#000" stroke-width="0.45"><text x="1256.6" y="820.9" text-anchor="end" font-size="34.6">0</text><text x="1256.6" y="755.0" text-anchor="end" font-size="34.6">1</text><text x="1256.6" y="689.0" text-anchor="end" font-size="34.6">2</text><text x="1256.6" y="623.1" text-anchor="end" font-size="34.6">3</text><text x="1293.9" y="868.9" text-anchor="middle" font-size="34.6">0</text><text x="1383.6" y="868.9" text-anchor="middle" font-size="34.6">20</text><text x="1473.4" y="868.9" text-anchor="middle" font-size="34.6">40</text><text x="1563.1" y="868.9" text-anchor="middle" font-size="34.6">60</text><text x="1652.8" y="868.9" text-anchor="middle" font-size="34.6">80</text><text x="1742.6" y="868.9" text-anchor="middle" font-size="34.6">100</text><text x="1832.3" y="868.9" text-anchor="middle" font-size="34.6">120</text><text x="1922.1" y="868.9" text-anchor="middle" font-size="34.6">140</text><text x="2011.8" y="868.9" text-anchor="middle" font-size="34.6">160</text><text x="1652.8" y="920.1" text-anchor="middle" textLength="215.7" lengthAdjust="spacingAndGlyphs">No. of Sample</text><text transform="translate(1223.1,710.8) rotate(-90)" text-anchor="middle" textLength="94.2" lengthAdjust="spacingAndGlyphs">SE (m)</text><text x="1372.7" y="559.0" textLength="134.9" lengthAdjust="spacingAndGlyphs">Crt30.nn</text><text x="1574.0" y="559.0" textLength="124.5" lengthAdjust="spacingAndGlyphs">Crt30.bl</text><text x="1764.9" y="559.0" textLength="131.5" lengthAdjust="spacingAndGlyphs">Crt30.bc</text></g>
<g><line x1="1374.3" y1="1025.7" x2="1374.3" y2="1225.5" stroke="#5e5e5e" stroke-width="1.9" stroke-dasharray="6 4.75"/><line x1="1465.2" y1="1025.7" x2="1465.2" y2="1225.5" stroke="#5e5e5e" stroke-width="1.9" stroke-dasharray="6 4.75"/><line x1="1556.1" y1="1025.7" x2="1556.1" y2="1225.5" stroke="#5e5e5e" stroke-width="1.9" stroke-dasharray="6 4.75"/><line x1="1647.0" y1="1025.7" x2="1647.0" y2="1225.5" stroke="#5e5e5e" stroke-width="1.9" stroke-dasharray="6 4.75"/><line x1="1737.9" y1="1025.7" x2="1737.9" y2="1225.5" stroke="#5e5e5e" stroke-width="1.9" stroke-dasharray="6 4.75"/><line x1="1828.8" y1="1025.7" x2="1828.8" y2="1225.5" stroke="#5e5e5e" stroke-width="1.9" stroke-dasharray="6 4.75"/><line x1="1919.7" y1="1025.7" x2="1919.7" y2="1225.5" stroke="#5e5e5e" stroke-width="1.9" stroke-dasharray="6 4.75"/><line x1="1283.4" y1="1158.9" x2="2010.6" y2="1158.9" stroke="#6c6c6c" stroke-width="1.9" stroke-dasharray="6.3 4.5 2.3 3.7"/><line x1="1283.4" y1="1092.3" x2="2010.6" y2="1092.3" stroke="#6c6c6c" stroke-width="1.9" stroke-dasharray="6.3 4.5 2.3 3.7"/><rect x="1283.4" y="1025.7" width="727.2" height="199.8" fill="none" stroke="#1a1a1a" stroke-width="2.7"/><line x1="1271.4" y1="1225.5" x2="1283.4" y2="1225.5" stroke="#1a1a1a" stroke-width="2.7"/><line x1="1271.4" y1="1158.9" x2="1283.4" y2="1158.9" stroke="#1a1a1a" stroke-width="2.7"/><line x1="1271.4" y1="1092.3" x2="1283.4" y2="1092.3" stroke="#1a1a1a" stroke-width="2.7"/><line x1="1271.4" y1="1025.7" x2="1283.4" y2="1025.7" stroke="#1a1a1a" stroke-width="2.7"/><line x1="1283.4" y1="1225.5" x2="1283.4" y2="1237.5" stroke="#1a1a1a" stroke-width="2.7"/><line x1="1374.3" y1="1225.5" x2="1374.3" y2="1237.5" stroke="#1a1a1a" stroke-width="2.7"/><line x1="1465.2" y1="1225.5" x2="1465.2" y2="1237.5" stroke="#1a1a1a" stroke-width="2.7"/><line x1="1556.1" y1="1225.5" x2="1556.1" y2="1237.5" stroke="#1a1a1a" stroke-width="2.7"/><line x1="1647.0" y1="1225.5" x2="1647.0" y2="1237.5" stroke="#1a1a1a" stroke-width="2.7"/><line x1="1737.9" y1="1225.5" x2="1737.9" y2="1237.5" stroke="#1a1a1a" stroke-width="2.7"/><line x1="1828.8" y1="1225.5" x2="1828.8" y2="1237.5" stroke="#1a1a1a" stroke-width="2.7"/><line x1="1919.7" y1="1225.5" x2="1919.7" y2="1237.5" stroke="#1a1a1a" stroke-width="2.7"/><line x1="2010.6" y1="1225.5" x2="2010.6" y2="1237.5" stroke="#1a1a1a" stroke-width="2.7"/><g fill="#dc1010"><circle cx="1328.9" cy="1116.1" r="5.3"/><circle cx="1333.4" cy="1091.6" r="5.3"/><circle cx="1337.9" cy="1106.5" r="5.3"/><circle cx="1342.5" cy="1114.5" r="5.3"/><circle cx="1347.0" cy="1119.7" r="5.3"/><circle cx="1351.6" cy="1125.9" r="5.3"/><circle cx="1356.1" cy="1129.9" r="5.3"/><circle cx="1360.7" cy="1134.3" r="5.3"/><circle cx="1365.2" cy="1137.5" r="5.3"/><circle cx="1369.8" cy="1141.8" r="5.3"/><circle cx="1374.3" cy="1144.2" r="5.3"/><circle cx="1378.8" cy="1148.1" r="5.3"/><circle cx="1383.4" cy="1150.4" r="5.3"/><circle cx="1387.9" cy="1153.7" r="5.3"/><circle cx="1392.5" cy="1154.8" r="5.3"/><circle cx="1397.0" cy="1152.2" r="5.3"/><circle cx="1401.6" cy="1150.6" r="5.3"/><circle cx="1406.1" cy="1154.2" r="5.3"/><circle cx="1410.7" cy="1155.9" r="5.3"/><circle cx="1415.2" cy="1158.5" r="5.3"/><circle cx="1419.8" cy="1161.1" r="5.3"/><circle cx="1424.3" cy="1162.0" r="5.3"/><circle cx="1428.8" cy="1162.0" r="5.3"/><circle cx="1433.4" cy="1162.1" r="5.3"/><circle cx="1437.9" cy="1158.7" r="5.3"/><circle cx="1442.5" cy="1160.0" r="5.3"/><circle cx="1447.0" cy="1160.0" r="5.3"/><circle cx="1451.6" cy="1161.5" r="5.3"/><circle cx="1456.1" cy="1162.3" r="5.3"/><circle cx="1460.7" cy="1164.2" r="5.3"/><circle cx="1465.2" cy="1165.7" r="5.3"/><circle cx="1469.7" cy="1168.4" r="5.3"/><circle cx="1474.3" cy="1168.9" r="5.3"/><circle cx="1478.8" cy="1170.4" r="5.3"/><circle cx="1483.4" cy="1171.8" r="5.3"/><circle cx="1487.9" cy="1171.2" r="5.3"/><circle cx="1492.5" cy="1167.7" r="5.3"/><circle cx="1497.0" cy="1168.4" r="5.3"/><circle cx="1501.6" cy="1168.8" r="5.3"/><circle cx="1506.1" cy="1169.2" r="5.3"/><circle cx="1510.7" cy="1170.8" r="5.3"/><circle cx="1515.2" cy="1170.4" r="5.3"/><circle cx="1519.7" cy="1171.1" r="5.3"/><circle cx="1524.3" cy="1171.4" r="5.3"/><circle cx="1528.8" cy="1172.6" r="5.3"/><circle cx="1533.4" cy="1173.7" r="5.3"/><circle cx="1537.9" cy="1173.2" r="5.3"/><circle cx="1542.5" cy="1174.2" r="5.3"/><circle cx="1547.0" cy="1175.5" r="5.3"/><circle cx="1551.6" cy="1176.1" r="5.3"/><circle cx="1556.1" cy="1176.9" r="5.3"/><circle cx="1560.6" cy="1176.4" r="5.3"/><circle cx="1565.2" cy="1176.2" r="5.3"/><circle cx="1569.7" cy="1176.6" r="5.3"/><circle cx="1574.3" cy="1176.2" r="5.3"/><circle cx="1578.8" cy="1176.2" r="5.3"/><circle cx="1583.4" cy="1176.6" r="5.3"/><circle cx="1587.9" cy="1176.5" r="5.3"/><circle cx="1592.5" cy="1177.0" r="5.3"/><circle cx="1597.0" cy="1176.9" r="5.3"/><circle cx="1601.5" cy="1177.7" r="5.3"/><circle cx="1606.1" cy="1177.7" r="5.3"/><circle cx="1610.6" cy="1178.5" r="5.3"/><circle cx="1615.2" cy="1178.7" r="5.3"/><circle cx="1619.7" cy="1179.0" r="5.3"/><circle cx="1624.3" cy="1179.7" r="5.3"/><circle cx="1628.8" cy="1179.3" r="5.3"/><circle cx="1633.4" cy="1180.2" r="5.3"/><circle cx="1637.9" cy="1180.8" r="5.3"/><circle cx="1642.5" cy="1180.9" r="5.3"/><circle cx="1647.0" cy="1181.3" r="5.3"/><circle cx="1651.5" cy="1181.7" r="5.3"/><circle cx="1656.1" cy="1182.2" r="5.3"/><circle cx="1660.6" cy="1182.6" r="5.3"/><circle cx="1665.2" cy="1182.8" r="5.3"/><circle cx="1669.7" cy="1183.0" r="5.3"/><circle cx="1674.3" cy="1183.4" r="5.3"/><circle cx="1678.8" cy="1183.5" r="5.3"/><circle cx="1683.4" cy="1183.9" r="5.3"/><circle cx="1687.9" cy="1184.6" r="5.3"/><circle cx="1692.5" cy="1184.5" r="5.3"/><circle cx="1697.0" cy="1184.6" r="5.3"/><circle cx="1701.5" cy="1184.9" r="5.3"/><circle cx="1706.1" cy="1185.5" r="5.3"/><circle cx="1710.6" cy="1185.1" r="5.3"/><circle cx="1715.2" cy="1185.5" r="5.3"/><circle cx="1719.7" cy="1185.0" r="5.3"/><circle cx="1724.3" cy="1184.7" r="5.3"/><circle cx="1728.8" cy="1183.3" r="5.3"/><circle cx="1733.4" cy="1182.4" r="5.3"/><circle cx="1737.9" cy="1182.1" r="5.3"/><circle cx="1742.4" cy="1182.0" r="5.3"/><circle cx="1747.0" cy="1182.3" r="5.3"/><circle cx="1751.5" cy="1183.2" r="5.3"/><circle cx="1756.1" cy="1183.2" r="5.3"/><circle cx="1760.6" cy="1182.9" r="5.3"/><circle cx="1765.2" cy="1183.6" r="5.3"/><circle cx="1769.7" cy="1183.6" r="5.3"/><circle cx="1774.3" cy="1183.9" r="5.3"/><circle cx="1778.8" cy="1184.2" r="5.3"/><circle cx="1783.3" cy="1184.4" r="5.3"/><circle cx="1787.9" cy="1184.7" r="5.3"/><circle cx="1792.4" cy="1184.8" r="5.3"/><circle cx="1797.0" cy="1185.3" r="5.3"/><circle cx="1801.5" cy="1185.4" r="5.3"/><circle cx="1806.1" cy="1185.6" r="5.3"/><circle cx="1810.6" cy="1186.2" r="5.3"/><circle cx="1815.2" cy="1186.3" r="5.3"/><circle cx="1819.7" cy="1186.2" r="5.3"/><circle cx="1824.3" cy="1186.7" r="5.3"/><circle cx="1828.8" cy="1186.8" r="5.3"/><circle cx="1833.3" cy="1186.9" r="5.3"/><circle cx="1837.9" cy="1186.9" r="5.3"/><circle cx="1842.4" cy="1187.1" r="5.3"/><circle cx="1847.0" cy="1187.5" r="5.3"/><circle cx="1851.5" cy="1187.6" r="5.3"/><circle cx="1856.1" cy="1187.8" r="5.3"/><circle cx="1860.6" cy="1188.1" r="5.3"/><circle cx="1865.2" cy="1188.1" r="5.3"/><circle cx="1869.7" cy="1188.2" r="5.3"/><circle cx="1874.2" cy="1188.9" r="5.3"/><circle cx="1878.8" cy="1189.1" r="5.3"/><circle cx="1883.3" cy="1189.2" r="5.3"/><circle cx="1887.9" cy="1188.9" r="5.3"/><circle cx="1892.4" cy="1189.4" r="5.3"/><circle cx="1897.0" cy="1189.3" r="5.3"/><circle cx="1901.5" cy="1190.1" r="5.3"/><circle cx="1906.1" cy="1190.3" r="5.3"/><circle cx="1910.6" cy="1190.3" r="5.3"/><circle cx="1915.2" cy="1190.5" r="5.3"/><circle cx="1919.7" cy="1190.7" r="5.3"/><circle cx="1924.2" cy="1191.0" r="5.3"/><circle cx="1928.8" cy="1190.7" r="5.3"/><circle cx="1933.3" cy="1191.1" r="5.3"/><circle cx="1937.9" cy="1191.3" r="5.3"/><circle cx="1942.4" cy="1191.4" r="5.3"/></g><g fill="#16e616"><circle cx="1328.9" cy="1124.3" r="5.3"/><circle cx="1333.4" cy="1101.0" r="5.3"/><circle cx="1337.9" cy="1109.0" r="5.3"/><circle cx="1342.5" cy="1116.9" r="5.3"/><circle cx="1347.0" cy="1122.2" r="5.3"/><circle cx="1351.6" cy="1128.3" r="5.3"/><circle cx="1356.1" cy="1132.2" r="5.3"/><circle cx="1360.7" cy="1136.6" r="5.3"/><circle cx="1365.2" cy="1139.8" r="5.3"/><circle cx="1369.8" cy="1144.1" r="5.3"/><circle cx="1374.3" cy="1146.4" r="5.3"/><circle cx="1378.8" cy="1150.2" r="5.3"/><circle cx="1383.4" cy="1152.5" r="5.3"/><circle cx="1387.9" cy="1155.8" r="5.3"/><circle cx="1392.5" cy="1156.8" r="5.3"/><circle cx="1397.0" cy="1154.1" r="5.3"/><circle cx="1401.6" cy="1152.6" r="5.3"/><circle cx="1406.1" cy="1156.0" r="5.3"/><circle cx="1410.7" cy="1157.8" r="5.3"/><circle cx="1415.2" cy="1160.3" r="5.3"/><circle cx="1419.8" cy="1162.8" r="5.3"/><circle cx="1424.3" cy="1163.7" r="5.3"/><circle cx="1428.8" cy="1163.7" r="5.3"/><circle cx="1433.4" cy="1163.8" r="5.3"/><circle cx="1437.9" cy="1160.3" r="5.3"/><circle cx="1442.5" cy="1161.5" r="5.3"/><circle cx="1447.0" cy="1161.5" r="5.3"/><circle cx="1451.6" cy="1163.0" r="5.3"/><circle cx="1456.1" cy="1163.7" r="5.3"/><circle cx="1460.7" cy="1165.5" r="5.3"/><circle cx="1465.2" cy="1167.1" r="5.3"/><circle cx="1469.7" cy="1169.7" r="5.3"/><circle cx="1474.3" cy="1170.3" r="5.3"/><circle cx="1478.8" cy="1171.8" r="5.3"/><circle cx="1483.4" cy="1173.1" r="5.3"/><circle cx="1487.9" cy="1172.5" r="5.3"/><circle cx="1492.5" cy="1169.1" r="5.3"/><circle cx="1497.0" cy="1169.7" r="5.3"/><circle cx="1501.6" cy="1170.1" r="5.3"/><circle cx="1506.1" cy="1170.5" r="5.3"/><circle cx="1510.7" cy="1172.1" r="5.3"/><circle cx="1515.2" cy="1171.7" r="5.3"/><circle cx="1519.7" cy="1172.4" r="5.3"/><circle cx="1524.3" cy="1172.7" r="5.3"/><circle cx="1528.8" cy="1173.8" r="5.3"/><circle cx="1533.4" cy="1175.0" r="5.3"/><circle cx="1537.9" cy="1174.4" r="5.3"/><circle cx="1542.5" cy="1175.5" r="5.3"/><circle cx="1547.0" cy="1176.7" r="5.3"/><circle cx="1551.6" cy="1177.3" r="5.3"/><circle cx="1556.1" cy="1178.2" r="5.3"/><circle cx="1560.6" cy="1177.6" r="5.3"/><circle cx="1565.2" cy="1177.4" r="5.3"/><circle cx="1569.7" cy="1177.8" r="5.3"/><circle cx="1574.3" cy="1177.5" r="5.3"/><circle cx="1578.8" cy="1177.4" r="5.3"/><circle cx="1583.4" cy="1177.8" r="5.3"/><circle cx="1587.9" cy="1177.7" r="5.3"/><circle cx="1592.5" cy="1178.2" r="5.3"/><circle cx="1597.0" cy="1178.1" r="5.3"/><circle cx="1601.5" cy="1178.9" r="5.3"/><circle cx="1606.1" cy="1178.8" r="5.3"/><circle cx="1610.6" cy="1179.7" r="5.3"/><circle cx="1615.2" cy="1179.8" r="5.3"/><circle cx="1619.7" cy="1180.1" r="5.3"/><circle cx="1624.3" cy="1180.8" r="5.3"/><circle cx="1628.8" cy="1180.5" r="5.3"/><circle cx="1633.4" cy="1181.3" r="5.3"/><circle cx="1637.9" cy="1182.0" r="5.3"/><circle cx="1642.5" cy="1182.0" r="5.3"/><circle cx="1647.0" cy="1182.4" r="5.3"/><circle cx="1651.5" cy="1182.8" r="5.3"/><circle cx="1656.1" cy="1183.3" r="5.3"/><circle cx="1660.6" cy="1183.7" r="5.3"/><circle cx="1665.2" cy="1183.9" r="5.3"/><circle cx="1669.7" cy="1184.1" r="5.3"/><circle cx="1674.3" cy="1184.5" r="5.3"/><circle cx="1678.8" cy="1184.5" r="5.3"/><circle cx="1683.4" cy="1184.9" r="5.3"/><circle cx="1687.9" cy="1185.7" r="5.3"/><circle cx="1692.5" cy="1185.6" r="5.3"/><circle cx="1697.0" cy="1185.7" r="5.3"/><circle cx="1701.5" cy="1185.9" r="5.3"/><circle cx="1706.1" cy="1186.6" r="5.3"/><circle cx="1710.6" cy="1186.1" r="5.3"/><circle cx="1715.2" cy="1186.5" r="5.3"/><circle cx="1719.7" cy="1186.0" r="5.3"/><circle cx="1724.3" cy="1185.8" r="5.3"/><circle cx="1728.8" cy="1184.3" r="5.3"/><circle cx="1733.4" cy="1183.4" r="5.3"/><circle cx="1737.9" cy="1183.1" r="5.3"/><circle cx="1742.4" cy="1183.0" r="5.3"/><circle cx="1747.0" cy="1183.3" r="5.3"/><circle cx="1751.5" cy="1184.2" r="5.3"/><circle cx="1756.1" cy="1184.2" r="5.3"/><circle cx="1760.6" cy="1183.9" r="5.3"/><circle cx="1765.2" cy="1184.6" r="5.3"/><circle cx="1769.7" cy="1184.6" r="5.3"/><circle cx="1774.3" cy="1184.9" r="5.3"/><circle cx="1778.8" cy="1185.2" r="5.3"/><circle cx="1783.3" cy="1185.3" r="5.3"/><circle cx="1787.9" cy="1185.6" r="5.3"/><circle cx="1792.4" cy="1185.7" r="5.3"/><circle cx="1797.0" cy="1186.2" r="5.3"/><circle cx="1801.5" cy="1186.3" r="5.3"/><circle cx="1806.1" cy="1186.5" r="5.3"/><circle cx="1810.6" cy="1187.1" r="5.3"/><circle cx="1815.2" cy="1187.2" r="5.3"/><circle cx="1819.7" cy="1187.1" r="5.3"/><circle cx="1824.3" cy="1187.6" r="5.3"/><circle cx="1828.8" cy="1187.7" r="5.3"/><circle cx="1833.3" cy="1187.8" r="5.3"/><circle cx="1837.9" cy="1187.8" r="5.3"/><circle cx="1842.4" cy="1188.0" r="5.3"/><circle cx="1847.0" cy="1188.3" r="5.3"/><circle cx="1851.5" cy="1188.5" r="5.3"/><circle cx="1856.1" cy="1188.7" r="5.3"/><circle cx="1860.6" cy="1188.9" r="5.3"/><circle cx="1865.2" cy="1189.0" r="5.3"/><circle cx="1869.7" cy="1189.0" r="5.3"/><circle cx="1874.2" cy="1189.7" r="5.3"/><circle cx="1878.8" cy="1189.9" r="5.3"/><circle cx="1883.3" cy="1190.0" r="5.3"/><circle cx="1887.9" cy="1189.7" r="5.3"/><circle cx="1892.4" cy="1190.2" r="5.3"/><circle cx="1897.0" cy="1190.0" r="5.3"/><circle cx="1901.5" cy="1190.9" r="5.3"/><circle cx="1906.1" cy="1191.1" r="5.3"/><circle cx="1910.6" cy="1191.1" r="5.3"/><circle cx="1915.2" cy="1191.2" r="5.3"/><circle cx="1919.7" cy="1191.5" r="5.3"/><circle cx="1924.2" cy="1191.8" r="5.3"/><circle cx="1928.8" cy="1191.4" r="5.3"/><circle cx="1933.3" cy="1191.9" r="5.3"/><circle cx="1937.9" cy="1192.1" r="5.3"/><circle cx="1942.4" cy="1192.1" r="5.3"/></g><g fill="#0808f2"><circle cx="1328.9" cy="1122.7" r="5.3"/><circle cx="1333.4" cy="1099.4" r="5.3"/><circle cx="1337.9" cy="1108.5" r="5.3"/><circle cx="1342.5" cy="1116.4" r="5.3"/><circle cx="1347.0" cy="1121.7" r="5.3"/><circle cx="1351.6" cy="1127.7" r="5.3"/><circle cx="1356.1" cy="1131.7" r="5.3"/><circle cx="1360.7" cy="1136.1" r="5.3"/><circle cx="1365.2" cy="1139.3" r="5.3"/><circle cx="1369.8" cy="1143.5" r="5.3"/><circle cx="1374.3" cy="1145.9" r="5.3"/><circle cx="1378.8" cy="1149.7" r="5.3"/><circle cx="1383.4" cy="1151.9" r="5.3"/><circle cx="1387.9" cy="1155.2" r="5.3"/><circle cx="1392.5" cy="1156.3" r="5.3"/><circle cx="1397.0" cy="1153.6" r="5.3"/><circle cx="1401.6" cy="1152.0" r="5.3"/><circle cx="1406.1" cy="1155.5" r="5.3"/><circle cx="1410.7" cy="1157.3" r="5.3"/><circle cx="1415.2" cy="1159.8" r="5.3"/><circle cx="1419.8" cy="1162.3" r="5.3"/><circle cx="1424.3" cy="1163.2" r="5.3"/><circle cx="1428.8" cy="1163.2" r="5.3"/><circle cx="1433.4" cy="1163.2" r="5.3"/><circle cx="1437.9" cy="1159.7" r="5.3"/><circle cx="1442.5" cy="1161.0" r="5.3"/><circle cx="1447.0" cy="1160.9" r="5.3"/><circle cx="1451.6" cy="1162.5" r="5.3"/><circle cx="1456.1" cy="1163.2" r="5.3"/><circle cx="1460.7" cy="1165.0" r="5.3"/><circle cx="1465.2" cy="1166.5" r="5.3"/><circle cx="1469.7" cy="1169.2" r="5.3"/><circle cx="1474.3" cy="1169.7" r="5.3"/><circle cx="1478.8" cy="1171.2" r="5.3"/><circle cx="1483.4" cy="1172.5" r="5.3"/><circle cx="1487.9" cy="1172.0" r="5.3"/><circle cx="1492.5" cy="1168.5" r="5.3"/><circle cx="1497.0" cy="1169.1" r="5.3"/><circle cx="1501.6" cy="1169.6" r="5.3"/><circle cx="1506.1" cy="1169.9" r="5.3"/><circle cx="1510.7" cy="1171.6" r="5.3"/><circle cx="1515.2" cy="1171.2" r="5.3"/><circle cx="1519.7" cy="1171.9" r="5.3"/><circle cx="1524.3" cy="1172.1" r="5.3"/><circle cx="1528.8" cy="1173.3" r="5.3"/><circle cx="1533.4" cy="1174.4" r="5.3"/><circle cx="1537.9" cy="1173.9" r="5.3"/><circle cx="1542.5" cy="1174.9" r="5.3"/><circle cx="1547.0" cy="1176.2" r="5.3"/><circle cx="1551.6" cy="1176.8" r="5.3"/><circle cx="1556.1" cy="1177.6" r="5.3"/><circle cx="1560.6" cy="1177.1" r="5.3"/><circle cx="1565.2" cy="1176.9" r="5.3"/><circle cx="1569.7" cy="1177.3" r="5.3"/><circle cx="1574.3" cy="1177.0" r="5.3"/><circle cx="1578.8" cy="1176.9" r="5.3"/><circle cx="1583.4" cy="1177.3" r="5.3"/><circle cx="1587.9" cy="1177.2" r="5.3"/><circle cx="1592.5" cy="1177.7" r="5.3"/><circle cx="1597.0" cy="1177.6" r="5.3"/><circle cx="1601.5" cy="1178.4" r="5.3"/><circle cx="1606.1" cy="1178.3" r="5.3"/><circle cx="1610.6" cy="1179.2" r="5.3"/><circle cx="1615.2" cy="1179.3" r="5.3"/><circle cx="1619.7" cy="1179.7" r="5.3"/><circle cx="1624.3" cy="1180.3" r="5.3"/><circle cx="1628.8" cy="1180.0" r="5.3"/><circle cx="1633.4" cy="1180.8" r="5.3"/><circle cx="1637.9" cy="1181.5" r="5.3"/><circle cx="1642.5" cy="1181.6" r="5.3"/><circle cx="1647.0" cy="1181.9" r="5.3"/><circle cx="1651.5" cy="1182.3" r="5.3"/><circle cx="1656.1" cy="1182.8" r="5.3"/><circle cx="1660.6" cy="1183.2" r="5.3"/><circle cx="1665.2" cy="1183.4" r="5.3"/><circle cx="1669.7" cy="1183.7" r="5.3"/><circle cx="1674.3" cy="1184.0" r="5.3"/><circle cx="1678.8" cy="1184.1" r="5.3"/><circle cx="1683.4" cy="1184.5" r="5.3"/><circle cx="1687.9" cy="1185.2" r="5.3"/><circle cx="1692.5" cy="1185.1" r="5.3"/><circle cx="1697.0" cy="1185.2" r="5.3"/><circle cx="1701.5" cy="1185.5" r="5.3"/><circle cx="1706.1" cy="1186.1" r="5.3"/><circle cx="1710.6" cy="1185.7" r="5.3"/><circle cx="1715.2" cy="1186.1" r="5.3"/><circle cx="1719.7" cy="1185.6" r="5.3"/><circle cx="1724.3" cy="1185.3" r="5.3"/><circle cx="1728.8" cy="1183.8" r="5.3"/><circle cx="1733.4" cy="1183.0" r="5.3"/><circle cx="1737.9" cy="1182.6" r="5.3"/><circle cx="1742.4" cy="1182.6" r="5.3"/><circle cx="1747.0" cy="1182.9" r="5.3"/><circle cx="1751.5" cy="1183.7" r="5.3"/><circle cx="1756.1" cy="1183.8" r="5.3"/><circle cx="1760.6" cy="1183.5" r="5.3"/><circle cx="1765.2" cy="1184.2" r="5.3"/><circle cx="1769.7" cy="1184.2" r="5.3"/><circle cx="1774.3" cy="1184.4" r="5.3"/><circle cx="1778.8" cy="1184.8" r="5.3"/><circle cx="1783.3" cy="1184.9" r="5.3"/><circle cx="1787.9" cy="1185.2" r="5.3"/><circle cx="1792.4" cy="1185.3" r="5.3"/><circle cx="1797.0" cy="1185.8" r="5.3"/><circle cx="1801.5" cy="1185.9" r="5.3"/><circle cx="1806.1" cy="1186.1" r="5.3"/><circle cx="1810.6" cy="1186.7" r="5.3"/><circle cx="1815.2" cy="1186.8" r="5.3"/><circle cx="1819.7" cy="1186.7" r="5.3"/><circle cx="1824.3" cy="1187.2" r="5.3"/><circle cx="1828.8" cy="1187.3" r="5.3"/><circle cx="1833.3" cy="1187.4" r="5.3"/><circle cx="1837.9" cy="1187.4" r="5.3"/><circle cx="1842.4" cy="1187.6" r="5.3"/><circle cx="1847.0" cy="1188.0" r="5.3"/><circle cx="1851.5" cy="1188.1" r="5.3"/><circle cx="1856.1" cy="1188.3" r="5.3"/><circle cx="1860.6" cy="1188.5" r="5.3"/><circle cx="1865.2" cy="1188.6" r="5.3"/><circle cx="1869.7" cy="1188.6" r="5.3"/><circle cx="1874.2" cy="1189.4" r="5.3"/><circle cx="1878.8" cy="1189.5" r="5.3"/><circle cx="1883.3" cy="1189.6" r="5.3"/><circle cx="1887.9" cy="1189.3" r="5.3"/><circle cx="1892.4" cy="1189.9" r="5.3"/><circle cx="1897.0" cy="1189.7" r="5.3"/><circle cx="1901.5" cy="1190.5" r="5.3"/><circle cx="1906.1" cy="1190.7" r="5.3"/><circle cx="1910.6" cy="1190.7" r="5.3"/><circle cx="1915.2" cy="1190.9" r="5.3"/><circle cx="1919.7" cy="1191.1" r="5.3"/><circle cx="1924.2" cy="1191.4" r="5.3"/><circle cx="1928.8" cy="1191.1" r="5.3"/><circle cx="1933.3" cy="1191.5" r="5.3"/><circle cx="1937.9" cy="1191.7" r="5.3"/><circle cx="1942.4" cy="1191.8" r="5.3"/></g><circle cx="1345.2" cy="960.6" r="4.5" fill="#dc1010"/><circle cx="1548.9" cy="960.6" r="4.5" fill="#16e616"/><circle cx="1738.7" cy="960.6" r="4.5" fill="#0808f2"/></g>
<g font-family="'Liberation Sans', Arial, sans-serif" font-weight="bold" font-size="33.0" fill="#000" stroke="#000" stroke-width="0.45"><text x="1246.1" y="1237.5" text-anchor="end" font-size="34.6">0</text><text x="1246.1" y="1170.9" text-anchor="end" font-size="34.6">1</text><text x="1246.1" y="1104.3" text-anchor="end" font-size="34.6">2</text><text x="1246.1" y="1037.7" text-anchor="end" font-size="34.6">3</text><text x="1283.4" y="1286.1" text-anchor="middle" font-size="34.6">0</text><text x="1374.3" y="1286.1" text-anchor="middle" font-size="34.6">20</text><text x="1465.2" y="1286.1" text-anchor="middle" font-size="34.6">40</text><text x="1556.1" y="1286.1" text-anchor="middle" font-size="34.6">60</text><text x="1647.0" y="1286.1" text-anchor="middle" font-size="34.6">80</text><text x="1737.9" y="1286.1" text-anchor="middle" font-size="34.6">100</text><text x="1828.8" y="1286.1" text-anchor="middle" font-size="34.6">120</text><text x="1919.7" y="1286.1" text-anchor="middle" font-size="34.6">140</text><text x="2010.6" y="1286.1" text-anchor="middle" font-size="34.6">160</text><text x="1647.0" y="1337.9" text-anchor="middle" textLength="218.5" lengthAdjust="spacingAndGlyphs">No. of Sample</text><text transform="translate(1211.7,1126.4) rotate(-90)" text-anchor="middle" textLength="95.1" lengthAdjust="spacingAndGlyphs">SE (m)</text><text x="1365.1" y="972.0" textLength="135.0" lengthAdjust="spacingAndGlyphs">Srt30.nn</text><text x="1567.6" y="972.0" textLength="123.4" lengthAdjust="spacingAndGlyphs">Srt30.bl</text><text x="1758.6" y="972.0" textLength="132.0" lengthAdjust="spacingAndGlyphs">Srt30.bc</text></g>
<g><line x1="1373.0" y1="1441.4" x2="1373.0" y2="1643.0" stroke="#5e5e5e" stroke-width="1.9" stroke-dasharray="6 4.75"/><line x1="1464.3" y1="1441.4" x2="1464.3" y2="1643.0" stroke="#5e5e5e" stroke-width="1.9" stroke-dasharray="6 4.75"/><line x1="1555.7" y1="1441.4" x2="1555.7" y2="1643.0" stroke="#5e5e5e" stroke-width="1.9" stroke-dasharray="6 4.75"/><line x1="1647.0" y1="1441.4" x2="1647.0" y2="1643.0" stroke="#5e5e5e" stroke-width="1.9" stroke-dasharray="6 4.75"/><line x1="1738.3" y1="1441.4" x2="1738.3" y2="1643.0" stroke="#5e5e5e" stroke-width="1.9" stroke-dasharray="6 4.75"/><line x1="1829.7" y1="1441.4" x2="1829.7" y2="1643.0" stroke="#5e5e5e" stroke-width="1.9" stroke-dasharray="6 4.75"/><line x1="1921.0" y1="1441.4" x2="1921.0" y2="1643.0" stroke="#5e5e5e" stroke-width="1.9" stroke-dasharray="6 4.75"/><line x1="1281.7" y1="1575.8" x2="2012.3" y2="1575.8" stroke="#6c6c6c" stroke-width="1.9" stroke-dasharray="6.3 4.5 2.3 3.7"/><line x1="1281.7" y1="1508.6" x2="2012.3" y2="1508.6" stroke="#6c6c6c" stroke-width="1.9" stroke-dasharray="6.3 4.5 2.3 3.7"/><rect x="1281.7" y="1441.4" width="730.6" height="201.6" fill="none" stroke="#1a1a1a" stroke-width="2.7"/><line x1="1269.7" y1="1643.0" x2="1281.7" y2="1643.0" stroke="#1a1a1a" stroke-width="2.7"/><line x1="1269.7" y1="1575.8" x2="1281.7" y2="1575.8" stroke="#1a1a1a" stroke-width="2.7"/><line x1="1269.7" y1="1508.6" x2="1281.7" y2="1508.6" stroke="#1a1a1a" stroke-width="2.7"/><line x1="1269.7" y1="1441.4" x2="1281.7" y2="1441.4" stroke="#1a1a1a" stroke-width="2.7"/><line x1="1281.7" y1="1643.0" x2="1281.7" y2="1655.0" stroke="#1a1a1a" stroke-width="2.7"/><line x1="1373.0" y1="1643.0" x2="1373.0" y2="1655.0" stroke="#1a1a1a" stroke-width="2.7"/><line x1="1464.3" y1="1643.0" x2="1464.3" y2="1655.0" stroke="#1a1a1a" stroke-width="2.7"/><line x1="1555.7" y1="1643.0" x2="1555.7" y2="1655.0" stroke="#1a1a1a" stroke-width="2.7"/><line x1="1647.0" y1="1643.0" x2="1647.0" y2="1655.0" stroke="#1a1a1a" stroke-width="2.7"/><line x1="1738.3" y1="1643.0" x2="1738.3" y2="1655.0" stroke="#1a1a1a" stroke-width="2.7"/><line x1="1829.7" y1="1643.0" x2="1829.7" y2="1655.0" stroke="#1a1a1a" stroke-width="2.7"/><line x1="1921.0" y1="1643.0" x2="1921.0" y2="1655.0" stroke="#1a1a1a" stroke-width="2.7"/><line x1="2012.3" y1="1643.0" x2="2012.3" y2="1655.0" stroke="#1a1a1a" stroke-width="2.7"/><g fill="#dc1010"><circle cx="1327.4" cy="1538.4" r="5.3"/><circle cx="1331.9" cy="1515.6" r="5.3"/><circle cx="1336.5" cy="1528.5" r="5.3"/><circle cx="1341.1" cy="1535.2" r="5.3"/><circle cx="1345.6" cy="1542.7" r="5.3"/><circle cx="1350.2" cy="1544.3" r="5.3"/><circle cx="1354.8" cy="1548.6" r="5.3"/><circle cx="1359.3" cy="1553.1" r="5.3"/><circle cx="1363.9" cy="1557.3" r="5.3"/><circle cx="1368.5" cy="1560.9" r="5.3"/><circle cx="1373.0" cy="1563.7" r="5.3"/><circle cx="1377.6" cy="1565.9" r="5.3"/><circle cx="1382.2" cy="1568.3" r="5.3"/><circle cx="1386.7" cy="1570.8" r="5.3"/><circle cx="1391.3" cy="1572.4" r="5.3"/><circle cx="1395.9" cy="1570.2" r="5.3"/><circle cx="1400.4" cy="1570.0" r="5.3"/><circle cx="1405.0" cy="1572.8" r="5.3"/><circle cx="1409.6" cy="1575.2" r="5.3"/><circle cx="1414.1" cy="1576.9" r="5.3"/><circle cx="1418.7" cy="1578.4" r="5.3"/><circle cx="1423.3" cy="1581.1" r="5.3"/><circle cx="1427.8" cy="1581.0" r="5.3"/><circle cx="1432.4" cy="1579.9" r="5.3"/><circle cx="1437.0" cy="1575.4" r="5.3"/><circle cx="1441.5" cy="1576.7" r="5.3"/><circle cx="1446.1" cy="1576.3" r="5.3"/><circle cx="1450.7" cy="1577.4" r="5.3"/><circle cx="1455.2" cy="1578.9" r="5.3"/><circle cx="1459.8" cy="1579.7" r="5.3"/><circle cx="1464.3" cy="1582.1" r="5.3"/><circle cx="1468.9" cy="1583.1" r="5.3"/><circle cx="1473.5" cy="1584.8" r="5.3"/><circle cx="1478.0" cy="1585.8" r="5.3"/><circle cx="1482.6" cy="1587.6" r="5.3"/><circle cx="1487.2" cy="1588.7" r="5.3"/><circle cx="1491.7" cy="1583.7" r="5.3"/><circle cx="1496.3" cy="1584.4" r="5.3"/><circle cx="1500.9" cy="1584.9" r="5.3"/><circle cx="1505.4" cy="1585.2" r="5.3"/><circle cx="1510.0" cy="1586.1" r="5.3"/><circle cx="1514.6" cy="1587.0" r="5.3"/><circle cx="1519.1" cy="1588.2" r="5.3"/><circle cx="1523.7" cy="1588.4" r="5.3"/><circle cx="1528.3" cy="1589.5" r="5.3"/><circle cx="1532.8" cy="1590.3" r="5.3"/><circle cx="1537.4" cy="1589.9" r="5.3"/><circle cx="1542.0" cy="1590.8" r="5.3"/><circle cx="1546.5" cy="1592.3" r="5.3"/><circle cx="1551.1" cy="1592.4" r="5.3"/><circle cx="1555.7" cy="1593.5" r="5.3"/><circle cx="1560.2" cy="1592.8" r="5.3"/><circle cx="1564.8" cy="1591.8" r="5.3"/><circle cx="1569.4" cy="1592.7" r="5.3"/><circle cx="1573.9" cy="1591.5" r="5.3"/><circle cx="1578.5" cy="1590.6" r="5.3"/><circle cx="1583.1" cy="1591.1" r="5.3"/><circle cx="1587.6" cy="1592.5" r="5.3"/><circle cx="1592.2" cy="1592.4" r="5.3"/><circle cx="1596.8" cy="1591.9" r="5.3"/><circle cx="1601.3" cy="1593.3" r="5.3"/><circle cx="1605.9" cy="1593.7" r="5.3"/><circle cx="1610.5" cy="1593.7" r="5.3"/><circle cx="1615.0" cy="1594.3" r="5.3"/><circle cx="1619.6" cy="1594.7" r="5.3"/><circle cx="1624.2" cy="1595.1" r="5.3"/><circle cx="1628.7" cy="1595.5" r="5.3"/><circle cx="1633.3" cy="1596.3" r="5.3"/><circle cx="1637.9" cy="1596.4" r="5.3"/><circle cx="1642.4" cy="1597.2" r="5.3"/><circle cx="1647.0" cy="1597.2" r="5.3"/><circle cx="1651.6" cy="1597.6" r="5.3"/><circle cx="1656.1" cy="1598.0" r="5.3"/><circle cx="1660.7" cy="1598.2" r="5.3"/><circle cx="1665.3" cy="1598.8" r="5.3"/><circle cx="1669.8" cy="1599.2" r="5.3"/><circle cx="1674.4" cy="1599.0" r="5.3"/><circle cx="1679.0" cy="1599.1" r="5.3"/><circle cx="1683.5" cy="1599.8" r="5.3"/><circle cx="1688.1" cy="1600.0" r="5.3"/><circle cx="1692.7" cy="1600.0" r="5.3"/><circle cx="1697.2" cy="1600.3" r="5.3"/><circle cx="1701.8" cy="1600.4" r="5.3"/><circle cx="1706.4" cy="1601.3" r="5.3"/><circle cx="1710.9" cy="1601.4" r="5.3"/><circle cx="1715.5" cy="1601.7" r="5.3"/><circle cx="1720.1" cy="1600.9" r="5.3"/><circle cx="1724.6" cy="1600.3" r="5.3"/><circle cx="1729.2" cy="1599.5" r="5.3"/><circle cx="1733.8" cy="1598.9" r="5.3"/><circle cx="1738.3" cy="1597.9" r="5.3"/><circle cx="1742.9" cy="1598.5" r="5.3"/><circle cx="1747.5" cy="1598.7" r="5.3"/><circle cx="1752.0" cy="1598.8" r="5.3"/><circle cx="1756.6" cy="1599.3" r="5.3"/><circle cx="1761.2" cy="1599.1" r="5.3"/><circle cx="1765.7" cy="1599.8" r="5.3"/><circle cx="1770.3" cy="1599.9" r="5.3"/><circle cx="1774.9" cy="1600.3" r="5.3"/><circle cx="1779.4" cy="1600.7" r="5.3"/><circle cx="1784.0" cy="1600.7" r="5.3"/><circle cx="1788.6" cy="1600.9" r="5.3"/><circle cx="1793.1" cy="1601.2" r="5.3"/><circle cx="1797.7" cy="1601.5" r="5.3"/><circle cx="1802.3" cy="1601.9" r="5.3"/><circle cx="1806.8" cy="1602.1" r="5.3"/><circle cx="1811.4" cy="1602.2" r="5.3"/><circle cx="1816.0" cy="1602.5" r="5.3"/><circle cx="1820.5" cy="1602.6" r="5.3"/><circle cx="1825.1" cy="1603.4" r="5.3"/><circle cx="1829.7" cy="1603.6" r="5.3"/><circle cx="1834.2" cy="1603.7" r="5.3"/><circle cx="1838.8" cy="1603.7" r="5.3"/><circle cx="1843.3" cy="1604.1" r="5.3"/><circle cx="1847.9" cy="1604.6" r="5.3"/><circle cx="1852.5" cy="1604.5" r="5.3"/><circle cx="1857.0" cy="1604.8" r="5.3"/><circle cx="1861.6" cy="1604.7" r="5.3"/><circle cx="1866.2" cy="1604.9" r="5.3"/><circle cx="1870.7" cy="1605.3" r="5.3"/><circle cx="1875.3" cy="1605.6" r="5.3"/><circle cx="1879.9" cy="1605.3" r="5.3"/><circle cx="1884.4" cy="1605.8" r="5.3"/><circle cx="1889.0" cy="1605.9" r="5.3"/><circle cx="1893.6" cy="1605.8" r="5.3"/><circle cx="1898.1" cy="1606.2" r="5.3"/><circle cx="1902.7" cy="1606.8" r="5.3"/><circle cx="1907.3" cy="1606.8" r="5.3"/><circle cx="1911.8" cy="1606.7" r="5.3"/><circle cx="1916.4" cy="1607.4" r="5.3"/><circle cx="1921.0" cy="1607.3" r="5.3"/><circle cx="1925.5" cy="1607.3" r="5.3"/><circle cx="1930.1" cy="1607.5" r="5.3"/><circle cx="1934.7" cy="1608.0" r="5.3"/><circle cx="1939.2" cy="1608.3" r="5.3"/><circle cx="1943.8" cy="1608.3" r="5.3"/></g><g fill="#16e616"><circle cx="1327.4" cy="1549.6" r="5.3"/><circle cx="1331.9" cy="1524.7" r="5.3"/><circle cx="1336.5" cy="1531.4" r="5.3"/><circle cx="1341.1" cy="1538.1" r="5.3"/><circle cx="1345.6" cy="1545.5" r="5.3"/><circle cx="1350.2" cy="1547.1" r="5.3"/><circle cx="1354.8" cy="1551.3" r="5.3"/><circle cx="1359.3" cy="1555.8" r="5.3"/><circle cx="1363.9" cy="1559.9" r="5.3"/><circle cx="1368.5" cy="1563.5" r="5.3"/><circle cx="1373.0" cy="1566.3" r="5.3"/><circle cx="1377.6" cy="1568.4" r="5.3"/><circle cx="1382.2" cy="1570.7" r="5.3"/><circle cx="1386.7" cy="1573.2" r="5.3"/><circle cx="1391.3" cy="1574.7" r="5.3"/><circle cx="1395.9" cy="1572.5" r="5.3"/><circle cx="1400.4" cy="1572.3" r="5.3"/><circle cx="1405.0" cy="1575.0" r="5.3"/><circle cx="1409.6" cy="1577.4" r="5.3"/><circle cx="1414.1" cy="1579.0" r="5.3"/><circle cx="1418.7" cy="1580.5" r="5.3"/><circle cx="1423.3" cy="1583.1" r="5.3"/><circle cx="1427.8" cy="1583.0" r="5.3"/><circle cx="1432.4" cy="1581.8" r="5.3"/><circle cx="1437.0" cy="1577.3" r="5.3"/><circle cx="1441.5" cy="1578.5" r="5.3"/><circle cx="1446.1" cy="1578.0" r="5.3"/><circle cx="1450.7" cy="1579.1" r="5.3"/><circle cx="1455.2" cy="1580.5" r="5.3"/><circle cx="1459.8" cy="1581.3" r="5.3"/><circle cx="1464.3" cy="1583.6" r="5.3"/><circle cx="1468.9" cy="1584.7" r="5.3"/><circle cx="1473.5" cy="1586.3" r="5.3"/><circle cx="1478.0" cy="1587.3" r="5.3"/><circle cx="1482.6" cy="1589.1" r="5.3"/><circle cx="1487.2" cy="1590.2" r="5.3"/><circle cx="1491.7" cy="1585.2" r="5.3"/><circle cx="1496.3" cy="1585.9" r="5.3"/><circle cx="1500.9" cy="1586.4" r="5.3"/><circle cx="1505.4" cy="1586.7" r="5.3"/><circle cx="1510.0" cy="1587.6" r="5.3"/><circle cx="1514.6" cy="1588.5" r="5.3"/><circle cx="1519.1" cy="1589.7" r="5.3"/><circle cx="1523.7" cy="1589.9" r="5.3"/><circle cx="1528.3" cy="1590.9" r="5.3"/><circle cx="1532.8" cy="1591.7" r="5.3"/><circle cx="1537.4" cy="1591.4" r="5.3"/><circle cx="1542.0" cy="1592.2" r="5.3"/><circle cx="1546.5" cy="1593.7" r="5.3"/><circle cx="1551.1" cy="1593.8" r="5.3"/><circle cx="1555.7" cy="1594.9" r="5.3"/><circle cx="1560.2" cy="1594.2" r="5.3"/><circle cx="1564.8" cy="1593.2" r="5.3"/><circle cx="1569.4" cy="1594.1" r="5.3"/><circle cx="1573.9" cy="1592.9" r="5.3"/><circle cx="1578.5" cy="1592.0" r="5.3"/><circle cx="1583.1" cy="1592.5" r="5.3"/><circle cx="1587.6" cy="1593.8" r="5.3"/><circle cx="1592.2" cy="1593.8" r="5.3"/><circle cx="1596.8" cy="1593.3" r="5.3"/><circle cx="1601.3" cy="1594.7" r="5.3"/><circle cx="1605.9" cy="1595.0" r="5.3"/><circle cx="1610.5" cy="1595.0" r="5.3"/><circle cx="1615.0" cy="1595.7" r="5.3"/><circle cx="1619.6" cy="1596.0" r="5.3"/><circle cx="1624.2" cy="1596.4" r="5.3"/><circle cx="1628.7" cy="1596.8" r="5.3"/><circle cx="1633.3" cy="1597.6" r="5.3"/><circle cx="1637.9" cy="1597.7" r="5.3"/><circle cx="1642.4" cy="1598.5" r="5.3"/><circle cx="1647.0" cy="1598.5" r="5.3"/><circle cx="1651.6" cy="1598.9" r="5.3"/><circle cx="1656.1" cy="1599.3" r="5.3"/><circle cx="1660.7" cy="1599.5" r="5.3"/><circle cx="1665.3" cy="1600.1" r="5.3"/><circle cx="1669.8" cy="1600.5" r="5.3"/><circle cx="1674.4" cy="1600.3" r="5.3"/><circle cx="1679.0" cy="1600.3" r="5.3"/><circle cx="1683.5" cy="1601.0" r="5.3"/><circle cx="1688.1" cy="1601.2" r="5.3"/><circle cx="1692.7" cy="1601.2" r="5.3"/><circle cx="1697.2" cy="1601.5" r="5.3"/><circle cx="1701.8" cy="1601.6" r="5.3"/><circle cx="1706.4" cy="1602.5" r="5.3"/><circle cx="1710.9" cy="1602.6" r="5.3"/><circle cx="1715.5" cy="1602.8" r="5.3"/><circle cx="1720.1" cy="1602.1" r="5.3"/><circle cx="1724.6" cy="1601.5" r="5.3"/><circle cx="1729.2" cy="1600.7" r="5.3"/><circle cx="1733.8" cy="1600.1" r="5.3"/><circle cx="1738.3" cy="1599.0" r="5.3"/><circle cx="1742.9" cy="1599.6" r="5.3"/><circle cx="1747.5" cy="1599.8" r="5.3"/><circle cx="1752.0" cy="1600.0" r="5.3"/><circle cx="1756.6" cy="1600.4" r="5.3"/><circle cx="1761.2" cy="1600.2" r="5.3"/><circle cx="1765.7" cy="1600.9" r="5.3"/><circle cx="1770.3" cy="1601.0" r="5.3"/><circle cx="1774.9" cy="1601.4" r="5.3"/><circle cx="1779.4" cy="1601.8" r="5.3"/><circle cx="1784.0" cy="1601.8" r="5.3"/><circle cx="1788.6" cy="1602.0" r="5.3"/><circle cx="1793.1" cy="1602.3" r="5.3"/><circle cx="1797.7" cy="1602.5" r="5.3"/><circle cx="1802.3" cy="1602.9" r="5.3"/><circle cx="1806.8" cy="1603.2" r="5.3"/><circle cx="1811.4" cy="1603.3" r="5.3"/><circle cx="1816.0" cy="1603.5" r="5.3"/><circle cx="1820.5" cy="1603.6" r="5.3"/><circle cx="1825.1" cy="1604.4" r="5.3"/><circle cx="1829.7" cy="1604.6" r="5.3"/><circle cx="1834.2" cy="1604.7" r="5.3"/><circle cx="1838.8" cy="1604.7" r="5.3"/><circle cx="1843.3" cy="1605.1" r="5.3"/><circle cx="1847.9" cy="1605.5" r="5.3"/><circle cx="1852.5" cy="1605.4" r="5.3"/><circle cx="1857.0" cy="1605.7" r="5.3"/><circle cx="1861.6" cy="1605.7" r="5.3"/><circle cx="1866.2" cy="1605.9" r="5.3"/><circle cx="1870.7" cy="1606.2" r="5.3"/><circle cx="1875.3" cy="1606.5" r="5.3"/><circle cx="1879.9" cy="1606.2" r="5.3"/><circle cx="1884.4" cy="1606.7" r="5.3"/><circle cx="1889.0" cy="1606.8" r="5.3"/><circle cx="1893.6" cy="1606.7" r="5.3"/><circle cx="1898.1" cy="1607.0" r="5.3"/><circle cx="1902.7" cy="1607.6" r="5.3"/><circle cx="1907.3" cy="1607.6" r="5.3"/><circle cx="1911.8" cy="1607.6" r="5.3"/><circle cx="1916.4" cy="1608.3" r="5.3"/><circle cx="1921.0" cy="1608.1" r="5.3"/><circle cx="1925.5" cy="1608.2" r="5.3"/><circle cx="1930.1" cy="1608.3" r="5.3"/><circle cx="1934.7" cy="1608.9" r="5.3"/><circle cx="1939.2" cy="1609.1" r="5.3"/><circle cx="1943.8" cy="1609.1" r="5.3"/></g><g fill="#0808f2"><circle cx="1327.4" cy="1547.7" r="5.3"/><circle cx="1331.9" cy="1522.9" r="5.3"/><circle cx="1336.5" cy="1530.8" r="5.3"/><circle cx="1341.1" cy="1537.5" r="5.3"/><circle cx="1345.6" cy="1544.9" r="5.3"/><circle cx="1350.2" cy="1546.6" r="5.3"/><circle cx="1354.8" cy="1550.8" r="5.3"/><circle cx="1359.3" cy="1555.3" r="5.3"/><circle cx="1363.9" cy="1559.4" r="5.3"/><circle cx="1368.5" cy="1563.0" r="5.3"/><circle cx="1373.0" cy="1565.8" r="5.3"/><circle cx="1377.6" cy="1567.9" r="5.3"/><circle cx="1382.2" cy="1570.2" r="5.3"/><circle cx="1386.7" cy="1572.7" r="5.3"/><circle cx="1391.3" cy="1574.2" r="5.3"/><circle cx="1395.9" cy="1572.0" r="5.3"/><circle cx="1400.4" cy="1571.7" r="5.3"/><circle cx="1405.0" cy="1574.5" r="5.3"/><circle cx="1409.6" cy="1576.9" r="5.3"/><circle cx="1414.1" cy="1578.5" r="5.3"/><circle cx="1418.7" cy="1579.9" r="5.3"/><circle cx="1423.3" cy="1582.6" r="5.3"/><circle cx="1427.8" cy="1582.4" r="5.3"/><circle cx="1432.4" cy="1581.2" r="5.3"/><circle cx="1437.0" cy="1576.7" r="5.3"/><circle cx="1441.5" cy="1578.0" r="5.3"/><circle cx="1446.1" cy="1577.5" r="5.3"/><circle cx="1450.7" cy="1578.5" r="5.3"/><circle cx="1455.2" cy="1580.0" r="5.3"/><circle cx="1459.8" cy="1580.8" r="5.3"/><circle cx="1464.3" cy="1583.1" r="5.3"/><circle cx="1468.9" cy="1584.1" r="5.3"/><circle cx="1473.5" cy="1585.8" r="5.3"/><circle cx="1478.0" cy="1586.8" r="5.3"/><circle cx="1482.6" cy="1588.6" r="5.3"/><circle cx="1487.2" cy="1589.6" r="5.3"/><circle cx="1491.7" cy="1584.6" r="5.3"/><circle cx="1496.3" cy="1585.3" r="5.3"/><circle cx="1500.9" cy="1585.9" r="5.3"/><circle cx="1505.4" cy="1586.1" r="5.3"/><circle cx="1510.0" cy="1587.1" r="5.3"/><circle cx="1514.6" cy="1588.0" r="5.3"/><circle cx="1519.1" cy="1589.2" r="5.3"/><circle cx="1523.7" cy="1589.4" r="5.3"/><circle cx="1528.3" cy="1590.4" r="5.3"/><circle cx="1532.8" cy="1591.2" r="5.3"/><circle cx="1537.4" cy="1590.9" r="5.3"/><circle cx="1542.0" cy="1591.7" r="5.3"/><circle cx="1546.5" cy="1593.2" r="5.3"/><circle cx="1551.1" cy="1593.3" r="5.3"/><circle cx="1555.7" cy="1594.4" r="5.3"/><circle cx="1560.2" cy="1593.7" r="5.3"/><circle cx="1564.8" cy="1592.7" r="5.3"/><circle cx="1569.4" cy="1593.6" r="5.3"/><circle cx="1573.9" cy="1592.4" r="5.3"/><circle cx="1578.5" cy="1591.5" r="5.3"/><circle cx="1583.1" cy="1592.0" r="5.3"/><circle cx="1587.6" cy="1593.3" r="5.3"/><circle cx="1592.2" cy="1593.3" r="5.3"/><circle cx="1596.8" cy="1592.8" r="5.3"/><circle cx="1601.3" cy="1594.2" r="5.3"/><circle cx="1605.9" cy="1594.5" r="5.3"/><circle cx="1610.5" cy="1594.5" r="5.3"/><circle cx="1615.0" cy="1595.2" r="5.3"/><circle cx="1619.6" cy="1595.6" r="5.3"/><circle cx="1624.2" cy="1595.9" r="5.3"/><circle cx="1628.7" cy="1596.3" r="5.3"/><circle cx="1633.3" cy="1597.1" r="5.3"/><circle cx="1637.9" cy="1597.2" r="5.3"/><circle cx="1642.4" cy="1598.0" r="5.3"/><circle cx="1647.0" cy="1598.0" r="5.3"/><circle cx="1651.6" cy="1598.4" r="5.3"/><circle cx="1656.1" cy="1598.8" r="5.3"/><circle cx="1660.7" cy="1599.0" r="5.3"/><circle cx="1665.3" cy="1599.6" r="5.3"/><circle cx="1669.8" cy="1600.0" r="5.3"/><circle cx="1674.4" cy="1599.8" r="5.3"/><circle cx="1679.0" cy="1599.9" r="5.3"/><circle cx="1683.5" cy="1600.6" r="5.3"/><circle cx="1688.1" cy="1600.8" r="5.3"/><circle cx="1692.7" cy="1600.7" r="5.3"/><circle cx="1697.2" cy="1601.1" r="5.3"/><circle cx="1701.8" cy="1601.2" r="5.3"/><circle cx="1706.4" cy="1602.0" r="5.3"/><circle cx="1710.9" cy="1602.2" r="5.3"/><circle cx="1715.5" cy="1602.4" r="5.3"/><circle cx="1720.1" cy="1601.6" r="5.3"/><circle cx="1724.6" cy="1601.0" r="5.3"/><circle cx="1729.2" cy="1600.2" r="5.3"/><circle cx="1733.8" cy="1599.7" r="5.3"/><circle cx="1738.3" cy="1598.6" r="5.3"/><circle cx="1742.9" cy="1599.2" r="5.3"/><circle cx="1747.5" cy="1599.4" r="5.3"/><circle cx="1752.0" cy="1599.5" r="5.3"/><circle cx="1756.6" cy="1599.9" r="5.3"/><circle cx="1761.2" cy="1599.8" r="5.3"/><circle cx="1765.7" cy="1600.4" r="5.3"/><circle cx="1770.3" cy="1600.6" r="5.3"/><circle cx="1774.9" cy="1600.9" r="5.3"/><circle cx="1779.4" cy="1601.4" r="5.3"/><circle cx="1784.0" cy="1601.4" r="5.3"/><circle cx="1788.6" cy="1601.6" r="5.3"/><circle cx="1793.1" cy="1601.9" r="5.3"/><circle cx="1797.7" cy="1602.1" r="5.3"/><circle cx="1802.3" cy="1602.5" r="5.3"/><circle cx="1806.8" cy="1602.8" r="5.3"/><circle cx="1811.4" cy="1602.9" r="5.3"/><circle cx="1816.0" cy="1603.1" r="5.3"/><circle cx="1820.5" cy="1603.2" r="5.3"/><circle cx="1825.1" cy="1604.0" r="5.3"/><circle cx="1829.7" cy="1604.2" r="5.3"/><circle cx="1834.2" cy="1604.3" r="5.3"/><circle cx="1838.8" cy="1604.3" r="5.3"/><circle cx="1843.3" cy="1604.7" r="5.3"/><circle cx="1847.9" cy="1605.1" r="5.3"/><circle cx="1852.5" cy="1605.1" r="5.3"/><circle cx="1857.0" cy="1605.4" r="5.3"/><circle cx="1861.6" cy="1605.3" r="5.3"/><circle cx="1866.2" cy="1605.5" r="5.3"/><circle cx="1870.7" cy="1605.8" r="5.3"/><circle cx="1875.3" cy="1606.1" r="5.3"/><circle cx="1879.9" cy="1605.8" r="5.3"/><circle cx="1884.4" cy="1606.3" r="5.3"/><circle cx="1889.0" cy="1606.5" r="5.3"/><circle cx="1893.6" cy="1606.3" r="5.3"/><circle cx="1898.1" cy="1606.7" r="5.3"/><circle cx="1902.7" cy="1607.3" r="5.3"/><circle cx="1907.3" cy="1607.3" r="5.3"/><circle cx="1911.8" cy="1607.2" r="5.3"/><circle cx="1916.4" cy="1607.9" r="5.3"/><circle cx="1921.0" cy="1607.7" r="5.3"/><circle cx="1925.5" cy="1607.8" r="5.3"/><circle cx="1930.1" cy="1608.0" r="5.3"/><circle cx="1934.7" cy="1608.5" r="5.3"/><circle cx="1939.2" cy="1608.8" r="5.3"/><circle cx="1943.8" cy="1608.8" r="5.3"/></g><circle cx="1345.2" cy="1375.6" r="4.5" fill="#dc1010"/><circle cx="1548.9" cy="1375.6" r="4.5" fill="#16e616"/><circle cx="1739.8" cy="1375.6" r="4.5" fill="#0808f2"/></g>
<g font-family="'Liberation Sans', Arial, sans-serif" font-weight="bold" font-size="33.0" fill="#000" stroke="#000" stroke-width="0.45"><text x="1244.4" y="1655.0" text-anchor="end" font-size="34.6">0</text><text x="1244.4" y="1587.8" text-anchor="end" font-size="34.6">1</text><text x="1244.4" y="1520.6" text-anchor="end" font-size="34.6">2</text><text x="1244.4" y="1453.4" text-anchor="end" font-size="34.6">3</text><text x="1281.7" y="1704.1" text-anchor="middle" font-size="34.6">0</text><text x="1373.0" y="1704.1" text-anchor="middle" font-size="34.6">20</text><text x="1464.3" y="1704.1" text-anchor="middle" font-size="34.6">40</text><text x="1555.7" y="1704.1" text-anchor="middle" font-size="34.6">60</text><text x="1647.0" y="1704.1" text-anchor="middle" font-size="34.6">80</text><text x="1738.3" y="1704.1" text-anchor="middle" font-size="34.6">100</text><text x="1829.7" y="1704.1" text-anchor="middle" font-size="34.6">120</text><text x="1921.0" y="1704.1" text-anchor="middle" font-size="34.6">140</text><text x="2012.3" y="1704.1" text-anchor="middle" font-size="34.6">160</text><text x="1647.0" y="1756.4" text-anchor="middle" textLength="219.5" lengthAdjust="spacingAndGlyphs">No. of Sample</text><text transform="translate(1209.6,1543.0) rotate(-90)" text-anchor="middle" textLength="96.0" lengthAdjust="spacingAndGlyphs">SE (m)</text><text x="1365.1" y="1387.0" textLength="135.0" lengthAdjust="spacingAndGlyphs">Srt90.nn</text><text x="1567.6" y="1387.0" textLength="124.5" lengthAdjust="spacingAndGlyphs">Srt90.bl</text><text x="1759.2" y="1387.0" textLength="132.6" lengthAdjust="spacingAndGlyphs">Srt90.bc</text></g>
<g><line x1="1379.1" y1="1871.8" x2="1379.1" y2="2073.2" stroke="#5e5e5e" stroke-width="1.9" stroke-dasharray="6 4.75"/><line x1="1470.4" y1="1871.8" x2="1470.4" y2="2073.2" stroke="#5e5e5e" stroke-width="1.9" stroke-dasharray="6 4.75"/><line x1="1561.7" y1="1871.8" x2="1561.7" y2="2073.2" stroke="#5e5e5e" stroke-width="1.9" stroke-dasharray="6 4.75"/><line x1="1652.9" y1="1871.8" x2="1652.9" y2="2073.2" stroke="#5e5e5e" stroke-width="1.9" stroke-dasharray="6 4.75"/><line x1="1744.2" y1="1871.8" x2="1744.2" y2="2073.2" stroke="#5e5e5e" stroke-width="1.9" stroke-dasharray="6 4.75"/><line x1="1835.5" y1="1871.8" x2="1835.5" y2="2073.2" stroke="#5e5e5e" stroke-width="1.9" stroke-dasharray="6 4.75"/><line x1="1926.8" y1="1871.8" x2="1926.8" y2="2073.2" stroke="#5e5e5e" stroke-width="1.9" stroke-dasharray="6 4.75"/><line x1="1287.8" y1="2006.1" x2="2018.1" y2="2006.1" stroke="#6c6c6c" stroke-width="1.9" stroke-dasharray="6.3 4.5 2.3 3.7"/><line x1="1287.8" y1="1938.9" x2="2018.1" y2="1938.9" stroke="#6c6c6c" stroke-width="1.9" stroke-dasharray="6.3 4.5 2.3 3.7"/><rect x="1287.8" y="1871.8" width="730.3" height="201.4" fill="none" stroke="#1a1a1a" stroke-width="2.7"/><line x1="1275.8" y1="2073.2" x2="1287.8" y2="2073.2" stroke="#1a1a1a" stroke-width="2.7"/><line x1="1275.8" y1="2006.1" x2="1287.8" y2="2006.1" stroke="#1a1a1a" stroke-width="2.7"/><line x1="1275.8" y1="1938.9" x2="1287.8" y2="1938.9" stroke="#1a1a1a" stroke-width="2.7"/><line x1="1275.8" y1="1871.8" x2="1287.8" y2="1871.8" stroke="#1a1a1a" stroke-width="2.7"/><line x1="1287.8" y1="2073.2" x2="1287.8" y2="2085.2" stroke="#1a1a1a" stroke-width="2.7"/><line x1="1379.1" y1="2073.2" x2="1379.1" y2="2085.2" stroke="#1a1a1a" stroke-width="2.7"/><line x1="1470.4" y1="2073.2" x2="1470.4" y2="2085.2" stroke="#1a1a1a" stroke-width="2.7"/><line x1="1561.7" y1="2073.2" x2="1561.7" y2="2085.2" stroke="#1a1a1a" stroke-width="2.7"/><line x1="1652.9" y1="2073.2" x2="1652.9" y2="2085.2" stroke="#1a1a1a" stroke-width="2.7"/><line x1="1744.2" y1="2073.2" x2="1744.2" y2="2085.2" stroke="#1a1a1a" stroke-width="2.7"/><line x1="1835.5" y1="2073.2" x2="1835.5" y2="2085.2" stroke="#1a1a1a" stroke-width="2.7"/><line x1="1926.8" y1="2073.2" x2="1926.8" y2="2085.2" stroke="#1a1a1a" stroke-width="2.7"/><line x1="2018.1" y1="2073.2" x2="2018.1" y2="2085.2" stroke="#1a1a1a" stroke-width="2.7"/><g fill="#dc1010"><circle cx="1333.4" cy="1972.3" r="5.3"/><circle cx="1338.0" cy="1949.0" r="5.3"/><circle cx="1342.6" cy="1960.6" r="5.3"/><circle cx="1347.1" cy="1967.6" r="5.3"/><circle cx="1351.7" cy="1975.3" r="5.3"/><circle cx="1356.3" cy="1978.1" r="5.3"/><circle cx="1360.8" cy="1981.4" r="5.3"/><circle cx="1365.4" cy="1985.5" r="5.3"/><circle cx="1370.0" cy="1989.4" r="5.3"/><circle cx="1374.5" cy="1992.7" r="5.3"/><circle cx="1379.1" cy="1996.2" r="5.3"/><circle cx="1383.7" cy="1998.9" r="5.3"/><circle cx="1388.2" cy="2001.4" r="5.3"/><circle cx="1392.8" cy="2003.0" r="5.3"/><circle cx="1397.3" cy="2004.5" r="5.3"/><circle cx="1401.9" cy="2001.8" r="5.3"/><circle cx="1406.5" cy="2002.7" r="5.3"/><circle cx="1411.0" cy="2006.3" r="5.3"/><circle cx="1415.6" cy="2007.5" r="5.3"/><circle cx="1420.2" cy="2009.2" r="5.3"/><circle cx="1424.7" cy="2010.0" r="5.3"/><circle cx="1429.3" cy="2011.9" r="5.3"/><circle cx="1433.9" cy="2012.5" r="5.3"/><circle cx="1438.4" cy="2010.8" r="5.3"/><circle cx="1443.0" cy="2005.5" r="5.3"/><circle cx="1447.6" cy="2008.4" r="5.3"/><circle cx="1452.1" cy="2008.6" r="5.3"/><circle cx="1456.7" cy="2009.4" r="5.3"/><circle cx="1461.2" cy="2011.1" r="5.3"/><circle cx="1465.8" cy="2013.3" r="5.3"/><circle cx="1470.4" cy="2014.6" r="5.3"/><circle cx="1474.9" cy="2016.0" r="5.3"/><circle cx="1479.5" cy="2017.7" r="5.3"/><circle cx="1484.1" cy="2019.4" r="5.3"/><circle cx="1488.6" cy="2020.0" r="5.3"/><circle cx="1493.2" cy="2019.2" r="5.3"/><circle cx="1497.8" cy="2014.0" r="5.3"/><circle cx="1502.3" cy="2015.0" r="5.3"/><circle cx="1506.9" cy="2015.2" r="5.3"/><circle cx="1511.5" cy="2016.4" r="5.3"/><circle cx="1516.0" cy="2017.5" r="5.3"/><circle cx="1520.6" cy="2018.2" r="5.3"/><circle cx="1525.1" cy="2019.8" r="5.3"/><circle cx="1529.7" cy="2019.6" r="5.3"/><circle cx="1534.3" cy="2021.0" r="5.3"/><circle cx="1538.8" cy="2021.0" r="5.3"/><circle cx="1543.4" cy="2021.7" r="5.3"/><circle cx="1548.0" cy="2021.6" r="5.3"/><circle cx="1552.5" cy="2022.9" r="5.3"/><circle cx="1557.1" cy="2023.2" r="5.3"/><circle cx="1561.7" cy="2024.1" r="5.3"/><circle cx="1566.2" cy="2024.8" r="5.3"/><circle cx="1570.8" cy="2023.5" r="5.3"/><circle cx="1575.4" cy="2023.4" r="5.3"/><circle cx="1579.9" cy="2022.9" r="5.3"/><circle cx="1584.5" cy="2022.6" r="5.3"/><circle cx="1589.0" cy="2022.7" r="5.3"/><circle cx="1593.6" cy="2022.6" r="5.3"/><circle cx="1598.2" cy="2022.8" r="5.3"/><circle cx="1602.7" cy="2023.2" r="5.3"/><circle cx="1607.3" cy="2024.2" r="5.3"/><circle cx="1611.9" cy="2025.0" r="5.3"/><circle cx="1616.4" cy="2025.2" r="5.3"/><circle cx="1621.0" cy="2025.4" r="5.3"/><circle cx="1625.6" cy="2026.1" r="5.3"/><circle cx="1630.1" cy="2026.3" r="5.3"/><circle cx="1634.7" cy="2027.3" r="5.3"/><circle cx="1639.3" cy="2027.4" r="5.3"/><circle cx="1643.8" cy="2027.4" r="5.3"/><circle cx="1648.4" cy="2028.0" r="5.3"/><circle cx="1652.9" cy="2028.5" r="5.3"/><circle cx="1657.5" cy="2029.3" r="5.3"/><circle cx="1662.1" cy="2029.5" r="5.3"/><circle cx="1666.6" cy="2029.6" r="5.3"/><circle cx="1671.2" cy="2029.7" r="5.3"/><circle cx="1675.8" cy="2029.9" r="5.3"/><circle cx="1680.3" cy="2029.8" r="5.3"/><circle cx="1684.9" cy="2030.1" r="5.3"/><circle cx="1689.5" cy="2030.4" r="5.3"/><circle cx="1694.0" cy="2030.4" r="5.3"/><circle cx="1698.6" cy="2030.9" r="5.3"/><circle cx="1703.2" cy="2031.3" r="5.3"/><circle cx="1707.7" cy="2031.4" r="5.3"/><circle cx="1712.3" cy="2031.8" r="5.3"/><circle cx="1716.9" cy="2031.9" r="5.3"/><circle cx="1721.4" cy="2032.1" r="5.3"/><circle cx="1726.0" cy="2031.3" r="5.3"/><circle cx="1730.5" cy="2030.6" r="5.3"/><circle cx="1735.1" cy="2029.6" r="5.3"/><circle cx="1739.7" cy="2029.1" r="5.3"/><circle cx="1744.2" cy="2028.3" r="5.3"/><circle cx="1748.8" cy="2028.5" r="5.3"/><circle cx="1753.4" cy="2028.6" r="5.3"/><circle cx="1757.9" cy="2029.7" r="5.3"/><circle cx="1762.5" cy="2029.2" r="5.3"/><circle cx="1767.1" cy="2029.6" r="5.3"/><circle cx="1771.6" cy="2030.1" r="5.3"/><circle cx="1776.2" cy="2029.8" r="5.3"/><circle cx="1780.8" cy="2030.1" r="5.3"/><circle cx="1785.3" cy="2030.4" r="5.3"/><circle cx="1789.9" cy="2030.9" r="5.3"/><circle cx="1794.4" cy="2031.1" r="5.3"/><circle cx="1799.0" cy="2031.3" r="5.3"/><circle cx="1803.6" cy="2031.2" r="5.3"/><circle cx="1808.1" cy="2031.4" r="5.3"/><circle cx="1812.7" cy="2031.6" r="5.3"/><circle cx="1817.3" cy="2032.3" r="5.3"/><circle cx="1821.8" cy="2032.4" r="5.3"/><circle cx="1826.4" cy="2032.9" r="5.3"/><circle cx="1831.0" cy="2032.9" r="5.3"/><circle cx="1835.5" cy="2033.2" r="5.3"/><circle cx="1840.1" cy="2033.4" r="5.3"/><circle cx="1844.7" cy="2033.6" r="5.3"/><circle cx="1849.2" cy="2033.6" r="5.3"/><circle cx="1853.8" cy="2034.1" r="5.3"/><circle cx="1858.3" cy="2034.2" r="5.3"/><circle cx="1862.9" cy="2034.2" r="5.3"/><circle cx="1867.5" cy="2034.8" r="5.3"/><circle cx="1872.0" cy="2035.0" r="5.3"/><circle cx="1876.6" cy="2034.9" r="5.3"/><circle cx="1881.2" cy="2035.2" r="5.3"/><circle cx="1885.7" cy="2035.0" r="5.3"/><circle cx="1890.3" cy="2035.6" r="5.3"/><circle cx="1894.9" cy="2035.4" r="5.3"/><circle cx="1899.4" cy="2035.8" r="5.3"/><circle cx="1904.0" cy="2036.0" r="5.3"/><circle cx="1908.6" cy="2036.1" r="5.3"/><circle cx="1913.1" cy="2036.1" r="5.3"/><circle cx="1917.7" cy="2036.4" r="5.3"/><circle cx="1922.2" cy="2036.6" r="5.3"/><circle cx="1926.8" cy="2036.8" r="5.3"/><circle cx="1931.4" cy="2037.4" r="5.3"/><circle cx="1935.9" cy="2037.3" r="5.3"/><circle cx="1940.5" cy="2037.7" r="5.3"/><circle cx="1945.1" cy="2037.4" r="5.3"/><circle cx="1949.6" cy="2037.9" r="5.3"/></g><g fill="#16e616"><circle cx="1333.4" cy="1982.6" r="5.3"/><circle cx="1338.0" cy="1956.4" r="5.3"/><circle cx="1342.6" cy="1963.5" r="5.3"/><circle cx="1347.1" cy="1970.5" r="5.3"/><circle cx="1351.7" cy="1978.1" r="5.3"/><circle cx="1356.3" cy="1980.8" r="5.3"/><circle cx="1360.8" cy="1984.1" r="5.3"/><circle cx="1365.4" cy="1988.2" r="5.3"/><circle cx="1370.0" cy="1992.0" r="5.3"/><circle cx="1374.5" cy="1995.3" r="5.3"/><circle cx="1379.1" cy="1998.8" r="5.3"/><circle cx="1383.7" cy="2001.4" r="5.3"/><circle cx="1388.2" cy="2003.9" r="5.3"/><circle cx="1392.8" cy="2005.4" r="5.3"/><circle cx="1397.3" cy="2006.8" r="5.3"/><circle cx="1401.9" cy="2004.1" r="5.3"/><circle cx="1406.5" cy="2004.9" r="5.3"/><circle cx="1411.0" cy="2008.5" r="5.3"/><circle cx="1415.6" cy="2009.7" r="5.3"/><circle cx="1420.2" cy="2011.3" r="5.3"/><circle cx="1424.7" cy="2012.1" r="5.3"/><circle cx="1429.3" cy="2013.9" r="5.3"/><circle cx="1433.9" cy="2014.5" r="5.3"/><circle cx="1438.4" cy="2012.7" r="5.3"/><circle cx="1443.0" cy="2007.3" r="5.3"/><circle cx="1447.6" cy="2010.2" r="5.3"/><circle cx="1452.1" cy="2010.3" r="5.3"/><circle cx="1456.7" cy="2011.1" r="5.3"/><circle cx="1461.2" cy="2012.8" r="5.3"/><circle cx="1465.8" cy="2014.9" r="5.3"/><circle cx="1470.4" cy="2016.1" r="5.3"/><circle cx="1474.9" cy="2017.5" r="5.3"/><circle cx="1479.5" cy="2019.2" r="5.3"/><circle cx="1484.1" cy="2021.0" r="5.3"/><circle cx="1488.6" cy="2021.5" r="5.3"/><circle cx="1493.2" cy="2020.7" r="5.3"/><circle cx="1497.8" cy="2015.5" r="5.3"/><circle cx="1502.3" cy="2016.5" r="5.3"/><circle cx="1506.9" cy="2016.7" r="5.3"/><circle cx="1511.5" cy="2017.9" r="5.3"/><circle cx="1516.0" cy="2019.0" r="5.3"/><circle cx="1520.6" cy="2019.7" r="5.3"/><circle cx="1525.1" cy="2021.2" r="5.3"/><circle cx="1529.7" cy="2021.1" r="5.3"/><circle cx="1534.3" cy="2022.5" r="5.3"/><circle cx="1538.8" cy="2022.5" r="5.3"/><circle cx="1543.4" cy="2023.1" r="5.3"/><circle cx="1548.0" cy="2023.0" r="5.3"/><circle cx="1552.5" cy="2024.3" r="5.3"/><circle cx="1557.1" cy="2024.7" r="5.3"/><circle cx="1561.7" cy="2025.5" r="5.3"/><circle cx="1566.2" cy="2026.2" r="5.3"/><circle cx="1570.8" cy="2024.9" r="5.3"/><circle cx="1575.4" cy="2024.8" r="5.3"/><circle cx="1579.9" cy="2024.3" r="5.3"/><circle cx="1584.5" cy="2024.0" r="5.3"/><circle cx="1589.0" cy="2024.1" r="5.3"/><circle cx="1593.6" cy="2023.9" r="5.3"/><circle cx="1598.2" cy="2024.2" r="5.3"/><circle cx="1602.7" cy="2024.5" r="5.3"/><circle cx="1607.3" cy="2025.5" r="5.3"/><circle cx="1611.9" cy="2026.3" r="5.3"/><circle cx="1616.4" cy="2026.6" r="5.3"/><circle cx="1621.0" cy="2026.7" r="5.3"/><circle cx="1625.6" cy="2027.4" r="5.3"/><circle cx="1630.1" cy="2027.6" r="5.3"/><circle cx="1634.7" cy="2028.6" r="5.3"/><circle cx="1639.3" cy="2028.7" r="5.3"/><circle cx="1643.8" cy="2028.7" r="5.3"/><circle cx="1648.4" cy="2029.2" r="5.3"/><circle cx="1652.9" cy="2029.8" r="5.3"/><circle cx="1657.5" cy="2030.6" r="5.3"/><circle cx="1662.1" cy="2030.7" r="5.3"/><circle cx="1666.6" cy="2030.8" r="5.3"/><circle cx="1671.2" cy="2031.0" r="5.3"/><circle cx="1675.8" cy="2031.1" r="5.3"/><circle cx="1680.3" cy="2031.1" r="5.3"/><circle cx="1684.9" cy="2031.3" r="5.3"/><circle cx="1689.5" cy="2031.6" r="5.3"/><circle cx="1694.0" cy="2031.6" r="5.3"/><circle cx="1698.6" cy="2032.1" r="5.3"/><circle cx="1703.2" cy="2032.5" r="5.3"/><circle cx="1707.7" cy="2032.6" r="5.3"/><circle cx="1712.3" cy="2032.9" r="5.3"/><circle cx="1716.9" cy="2033.1" r="5.3"/><circle cx="1721.4" cy="2033.2" r="5.3"/><circle cx="1726.0" cy="2032.4" r="5.3"/><circle cx="1730.5" cy="2031.7" r="5.3"/><circle cx="1735.1" cy="2030.8" r="5.3"/><circle cx="1739.7" cy="2030.2" r="5.3"/><circle cx="1744.2" cy="2029.4" r="5.3"/><circle cx="1748.8" cy="2029.6" r="5.3"/><circle cx="1753.4" cy="2029.7" r="5.3"/><circle cx="1757.9" cy="2030.8" r="5.3"/><circle cx="1762.5" cy="2030.3" r="5.3"/><circle cx="1767.1" cy="2030.7" r="5.3"/><circle cx="1771.6" cy="2031.2" r="5.3"/><circle cx="1776.2" cy="2030.9" r="5.3"/><circle cx="1780.8" cy="2031.2" r="5.3"/><circle cx="1785.3" cy="2031.4" r="5.3"/><circle cx="1789.9" cy="2032.0" r="5.3"/><circle cx="1794.4" cy="2032.1" r="5.3"/><circle cx="1799.0" cy="2032.4" r="5.3"/><circle cx="1803.6" cy="2032.2" r="5.3"/><circle cx="1808.1" cy="2032.4" r="5.3"/><circle cx="1812.7" cy="2032.6" r="5.3"/><circle cx="1817.3" cy="2033.3" r="5.3"/><circle cx="1821.8" cy="2033.4" r="5.3"/><circle cx="1826.4" cy="2033.9" r="5.3"/><circle cx="1831.0" cy="2033.9" r="5.3"/><circle cx="1835.5" cy="2034.2" r="5.3"/><circle cx="1840.1" cy="2034.4" r="5.3"/><circle cx="1844.7" cy="2034.5" r="5.3"/><circle cx="1849.2" cy="2034.6" r="5.3"/><circle cx="1853.8" cy="2035.1" r="5.3"/><circle cx="1858.3" cy="2035.2" r="5.3"/><circle cx="1862.9" cy="2035.1" r="5.3"/><circle cx="1867.5" cy="2035.7" r="5.3"/><circle cx="1872.0" cy="2035.9" r="5.3"/><circle cx="1876.6" cy="2035.8" r="5.3"/><circle cx="1881.2" cy="2036.1" r="5.3"/><circle cx="1885.7" cy="2035.9" r="5.3"/><circle cx="1890.3" cy="2036.5" r="5.3"/><circle cx="1894.9" cy="2036.3" r="5.3"/><circle cx="1899.4" cy="2036.7" r="5.3"/><circle cx="1904.0" cy="2036.9" r="5.3"/><circle cx="1908.6" cy="2036.9" r="5.3"/><circle cx="1913.1" cy="2036.9" r="5.3"/><circle cx="1917.7" cy="2037.2" r="5.3"/><circle cx="1922.2" cy="2037.4" r="5.3"/><circle cx="1926.8" cy="2037.7" r="5.3"/><circle cx="1931.4" cy="2038.2" r="5.3"/><circle cx="1935.9" cy="2038.1" r="5.3"/><circle cx="1940.5" cy="2038.5" r="5.3"/><circle cx="1945.1" cy="2038.2" r="5.3"/><circle cx="1949.6" cy="2038.7" r="5.3"/></g><g fill="#0808f2"><circle cx="1333.4" cy="1981.2" r="5.3"/><circle cx="1338.0" cy="1955.3" r="5.3"/><circle cx="1342.6" cy="1963.0" r="5.3"/><circle cx="1347.1" cy="1970.0" r="5.3"/><circle cx="1351.7" cy="1977.6" r="5.3"/><circle cx="1356.3" cy="1980.3" r="5.3"/><circle cx="1360.8" cy="1983.5" r="5.3"/><circle cx="1365.4" cy="1987.7" r="5.3"/><circle cx="1370.0" cy="1991.5" r="5.3"/><circle cx="1374.5" cy="1994.8" r="5.3"/><circle cx="1379.1" cy="1998.2" r="5.3"/><circle cx="1383.7" cy="2000.8" r="5.3"/><circle cx="1388.2" cy="2003.3" r="5.3"/><circle cx="1392.8" cy="2004.8" r="5.3"/><circle cx="1397.3" cy="2006.3" r="5.3"/><circle cx="1401.9" cy="2003.6" r="5.3"/><circle cx="1406.5" cy="2004.4" r="5.3"/><circle cx="1411.0" cy="2008.0" r="5.3"/><circle cx="1415.6" cy="2009.1" r="5.3"/><circle cx="1420.2" cy="2010.8" r="5.3"/><circle cx="1424.7" cy="2011.5" r="5.3"/><circle cx="1429.3" cy="2013.4" r="5.3"/><circle cx="1433.9" cy="2014.0" r="5.3"/><circle cx="1438.4" cy="2012.2" r="5.3"/><circle cx="1443.0" cy="2006.8" r="5.3"/><circle cx="1447.6" cy="2009.7" r="5.3"/><circle cx="1452.1" cy="2009.8" r="5.3"/><circle cx="1456.7" cy="2010.5" r="5.3"/><circle cx="1461.2" cy="2012.2" r="5.3"/><circle cx="1465.8" cy="2014.4" r="5.3"/><circle cx="1470.4" cy="2015.6" r="5.3"/><circle cx="1474.9" cy="2017.0" r="5.3"/><circle cx="1479.5" cy="2018.7" r="5.3"/><circle cx="1484.1" cy="2020.4" r="5.3"/><circle cx="1488.6" cy="2020.9" r="5.3"/><circle cx="1493.2" cy="2020.2" r="5.3"/><circle cx="1497.8" cy="2015.0" r="5.3"/><circle cx="1502.3" cy="2016.0" r="5.3"/><circle cx="1506.9" cy="2016.2" r="5.3"/><circle cx="1511.5" cy="2017.3" r="5.3"/><circle cx="1516.0" cy="2018.4" r="5.3"/><circle cx="1520.6" cy="2019.2" r="5.3"/><circle cx="1525.1" cy="2020.7" r="5.3"/><circle cx="1529.7" cy="2020.6" r="5.3"/><circle cx="1534.3" cy="2021.9" r="5.3"/><circle cx="1538.8" cy="2021.9" r="5.3"/><circle cx="1543.4" cy="2022.6" r="5.3"/><circle cx="1548.0" cy="2022.5" r="5.3"/><circle cx="1552.5" cy="2023.8" r="5.3"/><circle cx="1557.1" cy="2024.2" r="5.3"/><circle cx="1561.7" cy="2025.0" r="5.3"/><circle cx="1566.2" cy="2025.7" r="5.3"/><circle cx="1570.8" cy="2024.4" r="5.3"/><circle cx="1575.4" cy="2024.3" r="5.3"/><circle cx="1579.9" cy="2023.8" r="5.3"/><circle cx="1584.5" cy="2023.5" r="5.3"/><circle cx="1589.0" cy="2023.6" r="5.3"/><circle cx="1593.6" cy="2023.4" r="5.3"/><circle cx="1598.2" cy="2023.7" r="5.3"/><circle cx="1602.7" cy="2024.0" r="5.3"/><circle cx="1607.3" cy="2025.0" r="5.3"/><circle cx="1611.9" cy="2025.8" r="5.3"/><circle cx="1616.4" cy="2026.1" r="5.3"/><circle cx="1621.0" cy="2026.2" r="5.3"/><circle cx="1625.6" cy="2026.9" r="5.3"/><circle cx="1630.1" cy="2027.1" r="5.3"/><circle cx="1634.7" cy="2028.2" r="5.3"/><circle cx="1639.3" cy="2028.2" r="5.3"/><circle cx="1643.8" cy="2028.2" r="5.3"/><circle cx="1648.4" cy="2028.8" r="5.3"/><circle cx="1652.9" cy="2029.3" r="5.3"/><circle cx="1657.5" cy="2030.1" r="5.3"/><circle cx="1662.1" cy="2030.3" r="5.3"/><circle cx="1666.6" cy="2030.4" r="5.3"/><circle cx="1671.2" cy="2030.5" r="5.3"/><circle cx="1675.8" cy="2030.6" r="5.3"/><circle cx="1680.3" cy="2030.6" r="5.3"/><circle cx="1684.9" cy="2030.8" r="5.3"/><circle cx="1689.5" cy="2031.2" r="5.3"/><circle cx="1694.0" cy="2031.1" r="5.3"/><circle cx="1698.6" cy="2031.6" r="5.3"/><circle cx="1703.2" cy="2032.1" r="5.3"/><circle cx="1707.7" cy="2032.2" r="5.3"/><circle cx="1712.3" cy="2032.5" r="5.3"/><circle cx="1716.9" cy="2032.6" r="5.3"/><circle cx="1721.4" cy="2032.8" r="5.3"/><circle cx="1726.0" cy="2032.0" r="5.3"/><circle cx="1730.5" cy="2031.3" r="5.3"/><circle cx="1735.1" cy="2030.3" r="5.3"/><circle cx="1739.7" cy="2029.8" r="5.3"/><circle cx="1744.2" cy="2029.0" r="5.3"/><circle cx="1748.8" cy="2029.2" r="5.3"/><circle cx="1753.4" cy="2029.3" r="5.3"/><circle cx="1757.9" cy="2030.4" r="5.3"/><circle cx="1762.5" cy="2029.9" r="5.3"/><circle cx="1767.1" cy="2030.3" r="5.3"/><circle cx="1771.6" cy="2030.8" r="5.3"/><circle cx="1776.2" cy="2030.4" r="5.3"/><circle cx="1780.8" cy="2030.8" r="5.3"/><circle cx="1785.3" cy="2031.0" r="5.3"/><circle cx="1789.9" cy="2031.6" r="5.3"/><circle cx="1794.4" cy="2031.7" r="5.3"/><circle cx="1799.0" cy="2032.0" r="5.3"/><circle cx="1803.6" cy="2031.8" r="5.3"/><circle cx="1808.1" cy="2032.0" r="5.3"/><circle cx="1812.7" cy="2032.2" r="5.3"/><circle cx="1817.3" cy="2032.9" r="5.3"/><circle cx="1821.8" cy="2033.0" r="5.3"/><circle cx="1826.4" cy="2033.5" r="5.3"/><circle cx="1831.0" cy="2033.5" r="5.3"/><circle cx="1835.5" cy="2033.8" r="5.3"/><circle cx="1840.1" cy="2034.0" r="5.3"/><circle cx="1844.7" cy="2034.2" r="5.3"/><circle cx="1849.2" cy="2034.2" r="5.3"/><circle cx="1853.8" cy="2034.7" r="5.3"/><circle cx="1858.3" cy="2034.8" r="5.3"/><circle cx="1862.9" cy="2034.7" r="5.3"/><circle cx="1867.5" cy="2035.4" r="5.3"/><circle cx="1872.0" cy="2035.5" r="5.3"/><circle cx="1876.6" cy="2035.4" r="5.3"/><circle cx="1881.2" cy="2035.7" r="5.3"/><circle cx="1885.7" cy="2035.5" r="5.3"/><circle cx="1890.3" cy="2036.1" r="5.3"/><circle cx="1894.9" cy="2036.0" r="5.3"/><circle cx="1899.4" cy="2036.3" r="5.3"/><circle cx="1904.0" cy="2036.5" r="5.3"/><circle cx="1908.6" cy="2036.6" r="5.3"/><circle cx="1913.1" cy="2036.6" r="5.3"/><circle cx="1917.7" cy="2036.9" r="5.3"/><circle cx="1922.2" cy="2037.1" r="5.3"/><circle cx="1926.8" cy="2037.3" r="5.3"/><circle cx="1931.4" cy="2037.9" r="5.3"/><circle cx="1935.9" cy="2037.8" r="5.3"/><circle cx="1940.5" cy="2038.2" r="5.3"/><circle cx="1945.1" cy="2037.9" r="5.3"/><circle cx="1949.6" cy="2038.4" r="5.3"/></g><circle cx="1303.6" cy="1806.6" r="4.5" fill="#dc1010"/><circle cx="1539.1" cy="1806.6" r="4.5" fill="#16e616"/><circle cx="1763.6" cy="1806.6" r="4.5" fill="#0808f2"/></g>
<g font-family="'Liberation Sans', Arial, sans-serif" font-weight="bold" font-size="33.0" fill="#000" stroke="#000" stroke-width="0.45"><text x="1250.5" y="2085.2" text-anchor="end" font-size="34.6">0</text><text x="1250.5" y="2018.1" text-anchor="end" font-size="34.6">1</text><text x="1250.5" y="1950.9" text-anchor="end" font-size="34.6">2</text><text x="1250.5" y="1883.8" text-anchor="end" font-size="34.6">3</text><text x="1287.8" y="2134.2" text-anchor="middle" font-size="34.6">0</text><text x="1379.1" y="2134.2" text-anchor="middle" font-size="34.6">20</text><text x="1470.4" y="2134.2" text-anchor="middle" font-size="34.6">40</text><text x="1561.7" y="2134.2" text-anchor="middle" font-size="34.6">60</text><text x="1652.9" y="2134.2" text-anchor="middle" font-size="34.6">80</text><text x="1744.2" y="2134.2" text-anchor="middle" font-size="34.6">100</text><text x="1835.5" y="2134.2" text-anchor="middle" font-size="34.6">120</text><text x="1926.8" y="2134.2" text-anchor="middle" font-size="34.6">140</text><text x="2018.1" y="2134.2" text-anchor="middle" font-size="34.6">160</text><text x="1652.9" y="2186.4" text-anchor="middle" textLength="219.4" lengthAdjust="spacingAndGlyphs">No. of Sample</text><text transform="translate(1215.7,1973.3) rotate(-90)" text-anchor="middle" textLength="95.9" lengthAdjust="spacingAndGlyphs">SE (m)</text><text x="1323.5" y="1818.0" textLength="163.2" lengthAdjust="spacingAndGlyphs">MRT90.nn</text><text x="1559.5" y="1818.0" textLength="152.9" lengthAdjust="spacingAndGlyphs">MRT90.bl</text><text x="1784.6" y="1818.0" textLength="161.0" lengthAdjust="spacingAndGlyphs">MRT90.bc</text></g>
<g><line x1="1378.7" y1="2306.1" x2="1378.7" y2="2507.0" stroke="#5e5e5e" stroke-width="1.9" stroke-dasharray="6 4.75"/><line x1="1469.7" y1="2306.1" x2="1469.7" y2="2507.0" stroke="#5e5e5e" stroke-width="1.9" stroke-dasharray="6 4.75"/><line x1="1560.6" y1="2306.1" x2="1560.6" y2="2507.0" stroke="#5e5e5e" stroke-width="1.9" stroke-dasharray="6 4.75"/><line x1="1651.5" y1="2306.1" x2="1651.5" y2="2507.0" stroke="#5e5e5e" stroke-width="1.9" stroke-dasharray="6 4.75"/><line x1="1742.4" y1="2306.1" x2="1742.4" y2="2507.0" stroke="#5e5e5e" stroke-width="1.9" stroke-dasharray="6 4.75"/><line x1="1833.3" y1="2306.1" x2="1833.3" y2="2507.0" stroke="#5e5e5e" stroke-width="1.9" stroke-dasharray="6 4.75"/><line x1="1924.3" y1="2306.1" x2="1924.3" y2="2507.0" stroke="#5e5e5e" stroke-width="1.9" stroke-dasharray="6 4.75"/><line x1="1287.8" y1="2440.0" x2="2015.2" y2="2440.0" stroke="#6c6c6c" stroke-width="1.9" stroke-dasharray="6.3 4.5 2.3 3.7"/><line x1="1287.8" y1="2373.1" x2="2015.2" y2="2373.1" stroke="#6c6c6c" stroke-width="1.9" stroke-dasharray="6.3 4.5 2.3 3.7"/><rect x="1287.8" y="2306.1" width="727.4" height="200.9" fill="none" stroke="#1a1a1a" stroke-width="2.7"/><line x1="1275.8" y1="2507.0" x2="1287.8" y2="2507.0" stroke="#1a1a1a" stroke-width="2.7"/><line x1="1275.8" y1="2440.0" x2="1287.8" y2="2440.0" stroke="#1a1a1a" stroke-width="2.7"/><line x1="1275.8" y1="2373.1" x2="1287.8" y2="2373.1" stroke="#1a1a1a" stroke-width="2.7"/><line x1="1275.8" y1="2306.1" x2="1287.8" y2="2306.1" stroke="#1a1a1a" stroke-width="2.7"/><line x1="1287.8" y1="2507.0" x2="1287.8" y2="2519.0" stroke="#1a1a1a" stroke-width="2.7"/><line x1="1378.7" y1="2507.0" x2="1378.7" y2="2519.0" stroke="#1a1a1a" stroke-width="2.7"/><line x1="1469.7" y1="2507.0" x2="1469.7" y2="2519.0" stroke="#1a1a1a" stroke-width="2.7"/><line x1="1560.6" y1="2507.0" x2="1560.6" y2="2519.0" stroke="#1a1a1a" stroke-width="2.7"/><line x1="1651.5" y1="2507.0" x2="1651.5" y2="2519.0" stroke="#1a1a1a" stroke-width="2.7"/><line x1="1742.4" y1="2507.0" x2="1742.4" y2="2519.0" stroke="#1a1a1a" stroke-width="2.7"/><line x1="1833.3" y1="2507.0" x2="1833.3" y2="2519.0" stroke="#1a1a1a" stroke-width="2.7"/><line x1="1924.3" y1="2507.0" x2="1924.3" y2="2519.0" stroke="#1a1a1a" stroke-width="2.7"/><line x1="2015.2" y1="2507.0" x2="2015.2" y2="2519.0" stroke="#1a1a1a" stroke-width="2.7"/><g fill="#dc1010"><circle cx="1333.3" cy="2419.9" r="5.3"/><circle cx="1337.8" cy="2391.8" r="5.3"/><circle cx="1342.4" cy="2401.7" r="5.3"/><circle cx="1346.9" cy="2408.9" r="5.3"/><circle cx="1351.4" cy="2409.7" r="5.3"/><circle cx="1356.0" cy="2408.1" r="5.3"/><circle cx="1360.5" cy="2413.5" r="5.3"/><circle cx="1365.1" cy="2417.0" r="5.3"/><circle cx="1369.6" cy="2420.5" r="5.3"/><circle cx="1374.2" cy="2426.7" r="5.3"/><circle cx="1378.7" cy="2427.8" r="5.3"/><circle cx="1383.3" cy="2432.3" r="5.3"/><circle cx="1387.8" cy="2434.0" r="5.3"/><circle cx="1392.4" cy="2436.3" r="5.3"/><circle cx="1396.9" cy="2436.2" r="5.3"/><circle cx="1401.5" cy="2437.5" r="5.3"/><circle cx="1406.0" cy="2437.2" r="5.3"/><circle cx="1410.5" cy="2438.9" r="5.3"/><circle cx="1415.1" cy="2441.1" r="5.3"/><circle cx="1419.6" cy="2443.6" r="5.3"/><circle cx="1424.2" cy="2445.7" r="5.3"/><circle cx="1428.7" cy="2446.2" r="5.3"/><circle cx="1433.3" cy="2446.9" r="5.3"/><circle cx="1437.8" cy="2448.1" r="5.3"/><circle cx="1442.4" cy="2447.9" r="5.3"/><circle cx="1446.9" cy="2447.5" r="5.3"/><circle cx="1451.5" cy="2447.5" r="5.3"/><circle cx="1456.0" cy="2447.4" r="5.3"/><circle cx="1460.6" cy="2446.8" r="5.3"/><circle cx="1465.1" cy="2448.7" r="5.3"/><circle cx="1469.7" cy="2450.2" r="5.3"/><circle cx="1474.2" cy="2450.8" r="5.3"/><circle cx="1478.7" cy="2453.0" r="5.3"/><circle cx="1483.3" cy="2454.1" r="5.3"/><circle cx="1487.8" cy="2455.1" r="5.3"/><circle cx="1492.4" cy="2456.4" r="5.3"/><circle cx="1496.9" cy="2451.1" r="5.3"/><circle cx="1501.5" cy="2450.4" r="5.3"/><circle cx="1506.0" cy="2451.4" r="5.3"/><circle cx="1510.6" cy="2452.7" r="5.3"/><circle cx="1515.1" cy="2453.4" r="5.3"/><circle cx="1519.7" cy="2453.3" r="5.3"/><circle cx="1524.2" cy="2455.1" r="5.3"/><circle cx="1528.8" cy="2456.1" r="5.3"/><circle cx="1533.3" cy="2456.6" r="5.3"/><circle cx="1537.8" cy="2457.4" r="5.3"/><circle cx="1542.4" cy="2457.3" r="5.3"/><circle cx="1546.9" cy="2458.1" r="5.3"/><circle cx="1551.5" cy="2458.8" r="5.3"/><circle cx="1556.0" cy="2459.4" r="5.3"/><circle cx="1560.6" cy="2459.7" r="5.3"/><circle cx="1565.1" cy="2460.5" r="5.3"/><circle cx="1569.7" cy="2460.5" r="5.3"/><circle cx="1574.2" cy="2460.0" r="5.3"/><circle cx="1578.8" cy="2458.5" r="5.3"/><circle cx="1583.3" cy="2459.4" r="5.3"/><circle cx="1587.9" cy="2458.7" r="5.3"/><circle cx="1592.4" cy="2459.4" r="5.3"/><circle cx="1596.9" cy="2458.4" r="5.3"/><circle cx="1601.5" cy="2459.8" r="5.3"/><circle cx="1606.0" cy="2459.9" r="5.3"/><circle cx="1610.6" cy="2460.1" r="5.3"/><circle cx="1615.1" cy="2460.9" r="5.3"/><circle cx="1619.7" cy="2460.8" r="5.3"/><circle cx="1624.2" cy="2461.1" r="5.3"/><circle cx="1628.8" cy="2462.1" r="5.3"/><circle cx="1633.3" cy="2462.0" r="5.3"/><circle cx="1637.9" cy="2462.4" r="5.3"/><circle cx="1642.4" cy="2463.0" r="5.3"/><circle cx="1647.0" cy="2463.1" r="5.3"/><circle cx="1651.5" cy="2463.9" r="5.3"/><circle cx="1656.0" cy="2463.7" r="5.3"/><circle cx="1660.6" cy="2464.6" r="5.3"/><circle cx="1665.1" cy="2464.5" r="5.3"/><circle cx="1669.7" cy="2464.3" r="5.3"/><circle cx="1674.2" cy="2464.7" r="5.3"/><circle cx="1678.8" cy="2465.5" r="5.3"/><circle cx="1683.3" cy="2465.4" r="5.3"/><circle cx="1687.9" cy="2465.6" r="5.3"/><circle cx="1692.4" cy="2465.5" r="5.3"/><circle cx="1697.0" cy="2465.4" r="5.3"/><circle cx="1701.5" cy="2465.9" r="5.3"/><circle cx="1706.1" cy="2465.8" r="5.3"/><circle cx="1710.6" cy="2465.6" r="5.3"/><circle cx="1715.1" cy="2466.1" r="5.3"/><circle cx="1719.7" cy="2466.0" r="5.3"/><circle cx="1724.2" cy="2465.1" r="5.3"/><circle cx="1728.8" cy="2465.2" r="5.3"/><circle cx="1733.3" cy="2464.7" r="5.3"/><circle cx="1737.9" cy="2464.3" r="5.3"/><circle cx="1742.4" cy="2463.8" r="5.3"/><circle cx="1747.0" cy="2463.9" r="5.3"/><circle cx="1751.5" cy="2464.4" r="5.3"/><circle cx="1756.1" cy="2464.4" r="5.3"/><circle cx="1760.6" cy="2465.0" r="5.3"/><circle cx="1765.2" cy="2464.7" r="5.3"/><circle cx="1769.7" cy="2465.2" r="5.3"/><circle cx="1774.2" cy="2465.4" r="5.3"/><circle cx="1778.8" cy="2465.7" r="5.3"/><circle cx="1783.3" cy="2466.1" r="5.3"/><circle cx="1787.9" cy="2466.1" r="5.3"/><circle cx="1792.4" cy="2466.6" r="5.3"/><circle cx="1797.0" cy="2466.5" r="5.3"/><circle cx="1801.5" cy="2466.9" r="5.3"/><circle cx="1806.1" cy="2467.6" r="5.3"/><circle cx="1810.6" cy="2467.3" r="5.3"/><circle cx="1815.2" cy="2467.4" r="5.3"/><circle cx="1819.7" cy="2468.2" r="5.3"/><circle cx="1824.3" cy="2468.2" r="5.3"/><circle cx="1828.8" cy="2468.8" r="5.3"/><circle cx="1833.3" cy="2468.3" r="5.3"/><circle cx="1837.9" cy="2468.2" r="5.3"/><circle cx="1842.4" cy="2468.7" r="5.3"/><circle cx="1847.0" cy="2468.9" r="5.3"/><circle cx="1851.5" cy="2469.4" r="5.3"/><circle cx="1856.1" cy="2469.4" r="5.3"/><circle cx="1860.6" cy="2468.8" r="5.3"/><circle cx="1865.2" cy="2469.9" r="5.3"/><circle cx="1869.7" cy="2469.6" r="5.3"/><circle cx="1874.3" cy="2469.3" r="5.3"/><circle cx="1878.8" cy="2469.8" r="5.3"/><circle cx="1883.4" cy="2469.7" r="5.3"/><circle cx="1887.9" cy="2469.9" r="5.3"/><circle cx="1892.5" cy="2470.2" r="5.3"/><circle cx="1897.0" cy="2470.4" r="5.3"/><circle cx="1901.5" cy="2469.9" r="5.3"/><circle cx="1906.1" cy="2470.7" r="5.3"/><circle cx="1910.6" cy="2470.8" r="5.3"/><circle cx="1915.2" cy="2470.5" r="5.3"/><circle cx="1919.7" cy="2471.6" r="5.3"/><circle cx="1924.3" cy="2471.2" r="5.3"/><circle cx="1928.8" cy="2470.9" r="5.3"/><circle cx="1933.4" cy="2470.9" r="5.3"/><circle cx="1937.9" cy="2471.3" r="5.3"/><circle cx="1942.5" cy="2471.2" r="5.3"/><circle cx="1947.0" cy="2471.6" r="5.3"/></g><g fill="#16e616"><circle cx="1333.3" cy="2421.3" r="5.3"/><circle cx="1337.8" cy="2393.2" r="5.3"/><circle cx="1342.4" cy="2403.2" r="5.3"/><circle cx="1346.9" cy="2410.9" r="5.3"/><circle cx="1351.4" cy="2412.1" r="5.3"/><circle cx="1356.0" cy="2410.9" r="5.3"/><circle cx="1360.5" cy="2416.3" r="5.3"/><circle cx="1365.1" cy="2419.8" r="5.3"/><circle cx="1369.6" cy="2423.2" r="5.3"/><circle cx="1374.2" cy="2429.3" r="5.3"/><circle cx="1378.7" cy="2430.4" r="5.3"/><circle cx="1383.3" cy="2434.7" r="5.3"/><circle cx="1387.8" cy="2436.5" r="5.3"/><circle cx="1392.4" cy="2438.7" r="5.3"/><circle cx="1396.9" cy="2438.5" r="5.3"/><circle cx="1401.5" cy="2439.7" r="5.3"/><circle cx="1406.0" cy="2439.3" r="5.3"/><circle cx="1410.5" cy="2441.0" r="5.3"/><circle cx="1415.1" cy="2443.2" r="5.3"/><circle cx="1419.6" cy="2445.6" r="5.3"/><circle cx="1424.2" cy="2447.6" r="5.3"/><circle cx="1428.7" cy="2448.0" r="5.3"/><circle cx="1433.3" cy="2448.7" r="5.3"/><circle cx="1437.8" cy="2449.9" r="5.3"/><circle cx="1442.4" cy="2449.6" r="5.3"/><circle cx="1446.9" cy="2449.2" r="5.3"/><circle cx="1451.5" cy="2449.1" r="5.3"/><circle cx="1456.0" cy="2448.9" r="5.3"/><circle cx="1460.6" cy="2448.2" r="5.3"/><circle cx="1465.1" cy="2450.1" r="5.3"/><circle cx="1469.7" cy="2451.5" r="5.3"/><circle cx="1474.2" cy="2452.2" r="5.3"/><circle cx="1478.7" cy="2454.3" r="5.3"/><circle cx="1483.3" cy="2455.4" r="5.3"/><circle cx="1487.8" cy="2456.4" r="5.3"/><circle cx="1492.4" cy="2457.7" r="5.3"/><circle cx="1496.9" cy="2452.4" r="5.3"/><circle cx="1501.5" cy="2451.7" r="5.3"/><circle cx="1506.0" cy="2452.7" r="5.3"/><circle cx="1510.6" cy="2454.0" r="5.3"/><circle cx="1515.1" cy="2454.7" r="5.3"/><circle cx="1519.7" cy="2454.6" r="5.3"/><circle cx="1524.2" cy="2456.3" r="5.3"/><circle cx="1528.8" cy="2457.4" r="5.3"/><circle cx="1533.3" cy="2457.8" r="5.3"/><circle cx="1537.8" cy="2458.6" r="5.3"/><circle cx="1542.4" cy="2458.6" r="5.3"/><circle cx="1546.9" cy="2459.4" r="5.3"/><circle cx="1551.5" cy="2460.0" r="5.3"/><circle cx="1556.0" cy="2460.7" r="5.3"/><circle cx="1560.6" cy="2460.9" r="5.3"/><circle cx="1565.1" cy="2461.7" r="5.3"/><circle cx="1569.7" cy="2461.7" r="5.3"/><circle cx="1574.2" cy="2461.3" r="5.3"/><circle cx="1578.8" cy="2459.7" r="5.3"/><circle cx="1583.3" cy="2460.6" r="5.3"/><circle cx="1587.9" cy="2459.9" r="5.3"/><circle cx="1592.4" cy="2460.6" r="5.3"/><circle cx="1596.9" cy="2459.6" r="5.3"/><circle cx="1601.5" cy="2461.0" r="5.3"/><circle cx="1606.0" cy="2461.1" r="5.3"/><circle cx="1610.6" cy="2461.3" r="5.3"/><circle cx="1615.1" cy="2462.1" r="5.3"/><circle cx="1619.7" cy="2462.0" r="5.3"/><circle cx="1624.2" cy="2462.3" r="5.3"/><circle cx="1628.8" cy="2463.2" r="5.3"/><circle cx="1633.3" cy="2463.1" r="5.3"/><circle cx="1637.9" cy="2463.6" r="5.3"/><circle cx="1642.4" cy="2464.2" r="5.3"/><circle cx="1647.0" cy="2464.3" r="5.3"/><circle cx="1651.5" cy="2465.0" r="5.3"/><circle cx="1656.0" cy="2464.8" r="5.3"/><circle cx="1660.6" cy="2465.7" r="5.3"/><circle cx="1665.1" cy="2465.6" r="5.3"/><circle cx="1669.7" cy="2465.4" r="5.3"/><circle cx="1674.2" cy="2465.8" r="5.3"/><circle cx="1678.8" cy="2466.6" r="5.3"/><circle cx="1683.3" cy="2466.5" r="5.3"/><circle cx="1687.9" cy="2466.6" r="5.3"/><circle cx="1692.4" cy="2466.6" r="5.3"/><circle cx="1697.0" cy="2466.5" r="5.3"/><circle cx="1701.5" cy="2466.9" r="5.3"/><circle cx="1706.1" cy="2466.9" r="5.3"/><circle cx="1710.6" cy="2466.7" r="5.3"/><circle cx="1715.1" cy="2467.2" r="5.3"/><circle cx="1719.7" cy="2467.0" r="5.3"/><circle cx="1724.2" cy="2466.1" r="5.3"/><circle cx="1728.8" cy="2466.3" r="5.3"/><circle cx="1733.3" cy="2465.7" r="5.3"/><circle cx="1737.9" cy="2465.4" r="5.3"/><circle cx="1742.4" cy="2464.8" r="5.3"/><circle cx="1747.0" cy="2464.9" r="5.3"/><circle cx="1751.5" cy="2465.4" r="5.3"/><circle cx="1756.1" cy="2465.3" r="5.3"/><circle cx="1760.6" cy="2465.9" r="5.3"/><circle cx="1765.2" cy="2465.7" r="5.3"/><circle cx="1769.7" cy="2466.2" r="5.3"/><circle cx="1774.2" cy="2466.3" r="5.3"/><circle cx="1778.8" cy="2466.7" r="5.3"/><circle cx="1783.3" cy="2467.1" r="5.3"/><circle cx="1787.9" cy="2467.1" r="5.3"/><circle cx="1792.4" cy="2467.5" r="5.3"/><circle cx="1797.0" cy="2467.5" r="5.3"/><circle cx="1801.5" cy="2467.8" r="5.3"/><circle cx="1806.1" cy="2468.5" r="5.3"/><circle cx="1810.6" cy="2468.2" r="5.3"/><circle cx="1815.2" cy="2468.3" r="5.3"/><circle cx="1819.7" cy="2469.1" r="5.3"/><circle cx="1824.3" cy="2469.1" r="5.3"/><circle cx="1828.8" cy="2469.7" r="5.3"/><circle cx="1833.3" cy="2469.2" r="5.3"/><circle cx="1837.9" cy="2469.1" r="5.3"/><circle cx="1842.4" cy="2469.6" r="5.3"/><circle cx="1847.0" cy="2469.8" r="5.3"/><circle cx="1851.5" cy="2470.3" r="5.3"/><circle cx="1856.1" cy="2470.3" r="5.3"/><circle cx="1860.6" cy="2469.6" r="5.3"/><circle cx="1865.2" cy="2470.7" r="5.3"/><circle cx="1869.7" cy="2470.4" r="5.3"/><circle cx="1874.3" cy="2470.1" r="5.3"/><circle cx="1878.8" cy="2470.7" r="5.3"/><circle cx="1883.4" cy="2470.5" r="5.3"/><circle cx="1887.9" cy="2470.7" r="5.3"/><circle cx="1892.5" cy="2471.0" r="5.3"/><circle cx="1897.0" cy="2471.2" r="5.3"/><circle cx="1901.5" cy="2470.7" r="5.3"/><circle cx="1906.1" cy="2471.5" r="5.3"/><circle cx="1910.6" cy="2471.6" r="5.3"/><circle cx="1915.2" cy="2471.3" r="5.3"/><circle cx="1919.7" cy="2472.4" r="5.3"/><circle cx="1924.3" cy="2472.0" r="5.3"/><circle cx="1928.8" cy="2471.7" r="5.3"/><circle cx="1933.4" cy="2471.6" r="5.3"/><circle cx="1937.9" cy="2472.0" r="5.3"/><circle cx="1942.5" cy="2472.0" r="5.3"/><circle cx="1947.0" cy="2472.3" r="5.3"/></g><g fill="#0808f2"><circle cx="1333.3" cy="2420.4" r="5.3"/><circle cx="1337.8" cy="2392.7" r="5.3"/><circle cx="1342.4" cy="2402.7" r="5.3"/><circle cx="1346.9" cy="2410.3" r="5.3"/><circle cx="1351.4" cy="2411.6" r="5.3"/><circle cx="1356.0" cy="2410.4" r="5.3"/><circle cx="1360.5" cy="2415.8" r="5.3"/><circle cx="1365.1" cy="2419.2" r="5.3"/><circle cx="1369.6" cy="2422.6" r="5.3"/><circle cx="1374.2" cy="2428.8" r="5.3"/><circle cx="1378.7" cy="2429.8" r="5.3"/><circle cx="1383.3" cy="2434.2" r="5.3"/><circle cx="1387.8" cy="2435.9" r="5.3"/><circle cx="1392.4" cy="2438.1" r="5.3"/><circle cx="1396.9" cy="2437.9" r="5.3"/><circle cx="1401.5" cy="2439.2" r="5.3"/><circle cx="1406.0" cy="2438.8" r="5.3"/><circle cx="1410.5" cy="2440.5" r="5.3"/><circle cx="1415.1" cy="2442.6" r="5.3"/><circle cx="1419.6" cy="2445.1" r="5.3"/><circle cx="1424.2" cy="2447.1" r="5.3"/><circle cx="1428.7" cy="2447.5" r="5.3"/><circle cx="1433.3" cy="2448.2" r="5.3"/><circle cx="1437.8" cy="2449.3" r="5.3"/><circle cx="1442.4" cy="2449.1" r="5.3"/><circle cx="1446.9" cy="2448.6" r="5.3"/><circle cx="1451.5" cy="2448.5" r="5.3"/><circle cx="1456.0" cy="2448.3" r="5.3"/><circle cx="1460.6" cy="2447.7" r="5.3"/><circle cx="1465.1" cy="2449.6" r="5.3"/><circle cx="1469.7" cy="2451.0" r="5.3"/><circle cx="1474.2" cy="2451.6" r="5.3"/><circle cx="1478.7" cy="2453.8" r="5.3"/><circle cx="1483.3" cy="2454.8" r="5.3"/><circle cx="1487.8" cy="2455.9" r="5.3"/><circle cx="1492.4" cy="2457.2" r="5.3"/><circle cx="1496.9" cy="2451.9" r="5.3"/><circle cx="1501.5" cy="2451.2" r="5.3"/><circle cx="1506.0" cy="2452.1" r="5.3"/><circle cx="1510.6" cy="2453.5" r="5.3"/><circle cx="1515.1" cy="2454.1" r="5.3"/><circle cx="1519.7" cy="2454.1" r="5.3"/><circle cx="1524.2" cy="2455.8" r="5.3"/><circle cx="1528.8" cy="2456.8" r="5.3"/><circle cx="1533.3" cy="2457.3" r="5.3"/><circle cx="1537.8" cy="2458.1" r="5.3"/><circle cx="1542.4" cy="2458.0" r="5.3"/><circle cx="1546.9" cy="2458.8" r="5.3"/><circle cx="1551.5" cy="2459.5" r="5.3"/><circle cx="1556.0" cy="2460.1" r="5.3"/><circle cx="1560.6" cy="2460.4" r="5.3"/><circle cx="1565.1" cy="2461.2" r="5.3"/><circle cx="1569.7" cy="2461.2" r="5.3"/><circle cx="1574.2" cy="2460.8" r="5.3"/><circle cx="1578.8" cy="2459.2" r="5.3"/><circle cx="1583.3" cy="2460.1" r="5.3"/><circle cx="1587.9" cy="2459.4" r="5.3"/><circle cx="1592.4" cy="2460.1" r="5.3"/><circle cx="1596.9" cy="2459.1" r="5.3"/><circle cx="1601.5" cy="2460.5" r="5.3"/><circle cx="1606.0" cy="2460.6" r="5.3"/><circle cx="1610.6" cy="2460.8" r="5.3"/><circle cx="1615.1" cy="2461.6" r="5.3"/><circle cx="1619.7" cy="2461.5" r="5.3"/><circle cx="1624.2" cy="2461.8" r="5.3"/><circle cx="1628.8" cy="2462.7" r="5.3"/><circle cx="1633.3" cy="2462.6" r="5.3"/><circle cx="1637.9" cy="2463.1" r="5.3"/><circle cx="1642.4" cy="2463.7" r="5.3"/><circle cx="1647.0" cy="2463.8" r="5.3"/><circle cx="1651.5" cy="2464.5" r="5.3"/><circle cx="1656.0" cy="2464.3" r="5.3"/><circle cx="1660.6" cy="2465.2" r="5.3"/><circle cx="1665.1" cy="2465.1" r="5.3"/><circle cx="1669.7" cy="2464.9" r="5.3"/><circle cx="1674.2" cy="2465.3" r="5.3"/><circle cx="1678.8" cy="2466.1" r="5.3"/><circle cx="1683.3" cy="2466.0" r="5.3"/><circle cx="1687.9" cy="2466.2" r="5.3"/><circle cx="1692.4" cy="2466.1" r="5.3"/><circle cx="1697.0" cy="2466.1" r="5.3"/><circle cx="1701.5" cy="2466.5" r="5.3"/><circle cx="1706.1" cy="2466.4" r="5.3"/><circle cx="1710.6" cy="2466.2" r="5.3"/><circle cx="1715.1" cy="2466.7" r="5.3"/><circle cx="1719.7" cy="2466.6" r="5.3"/><circle cx="1724.2" cy="2465.7" r="5.3"/><circle cx="1728.8" cy="2465.8" r="5.3"/><circle cx="1733.3" cy="2465.3" r="5.3"/><circle cx="1737.9" cy="2464.9" r="5.3"/><circle cx="1742.4" cy="2464.4" r="5.3"/><circle cx="1747.0" cy="2464.5" r="5.3"/><circle cx="1751.5" cy="2465.0" r="5.3"/><circle cx="1756.1" cy="2464.9" r="5.3"/><circle cx="1760.6" cy="2465.5" r="5.3"/><circle cx="1765.2" cy="2465.3" r="5.3"/><circle cx="1769.7" cy="2465.7" r="5.3"/><circle cx="1774.2" cy="2465.9" r="5.3"/><circle cx="1778.8" cy="2466.3" r="5.3"/><circle cx="1783.3" cy="2466.6" r="5.3"/><circle cx="1787.9" cy="2466.7" r="5.3"/><circle cx="1792.4" cy="2467.1" r="5.3"/><circle cx="1797.0" cy="2467.1" r="5.3"/><circle cx="1801.5" cy="2467.4" r="5.3"/><circle cx="1806.1" cy="2468.1" r="5.3"/><circle cx="1810.6" cy="2467.8" r="5.3"/><circle cx="1815.2" cy="2467.9" r="5.3"/><circle cx="1819.7" cy="2468.7" r="5.3"/><circle cx="1824.3" cy="2468.7" r="5.3"/><circle cx="1828.8" cy="2469.3" r="5.3"/><circle cx="1833.3" cy="2468.8" r="5.3"/><circle cx="1837.9" cy="2468.7" r="5.3"/><circle cx="1842.4" cy="2469.2" r="5.3"/><circle cx="1847.0" cy="2469.4" r="5.3"/><circle cx="1851.5" cy="2469.9" r="5.3"/><circle cx="1856.1" cy="2469.9" r="5.3"/><circle cx="1860.6" cy="2469.2" r="5.3"/><circle cx="1865.2" cy="2470.4" r="5.3"/><circle cx="1869.7" cy="2470.0" r="5.3"/><circle cx="1874.3" cy="2469.7" r="5.3"/><circle cx="1878.8" cy="2470.3" r="5.3"/><circle cx="1883.4" cy="2470.1" r="5.3"/><circle cx="1887.9" cy="2470.3" r="5.3"/><circle cx="1892.5" cy="2470.7" r="5.3"/><circle cx="1897.0" cy="2470.9" r="5.3"/><circle cx="1901.5" cy="2470.4" r="5.3"/><circle cx="1906.1" cy="2471.1" r="5.3"/><circle cx="1910.6" cy="2471.3" r="5.3"/><circle cx="1915.2" cy="2470.9" r="5.3"/><circle cx="1919.7" cy="2472.1" r="5.3"/><circle cx="1924.3" cy="2471.7" r="5.3"/><circle cx="1928.8" cy="2471.3" r="5.3"/><circle cx="1933.4" cy="2471.3" r="5.3"/><circle cx="1937.9" cy="2471.7" r="5.3"/><circle cx="1942.5" cy="2471.6" r="5.3"/><circle cx="1947.0" cy="2472.0" r="5.3"/></g><circle cx="1319.2" cy="2241.2" r="4.5" fill="#dc1010"/><circle cx="1543.1" cy="2241.2" r="4.5" fill="#16e616"/><circle cx="1757.8" cy="2241.2" r="4.5" fill="#0808f2"/></g>
<g font-family="'Liberation Sans', Arial, sans-serif" font-weight="bold" font-size="33.0" fill="#000" stroke="#000" stroke-width="0.45"><text x="1250.5" y="2519.0" text-anchor="end" font-size="34.6">0</text><text x="1250.5" y="2452.0" text-anchor="end" font-size="34.6">1</text><text x="1250.5" y="2385.1" text-anchor="end" font-size="34.6">2</text><text x="1250.5" y="2318.1" text-anchor="end" font-size="34.6">3</text><text x="1287.8" y="2567.9" text-anchor="middle" font-size="34.6">0</text><text x="1378.7" y="2567.9" text-anchor="middle" font-size="34.6">20</text><text x="1469.7" y="2567.9" text-anchor="middle" font-size="34.6">40</text><text x="1560.6" y="2567.9" text-anchor="middle" font-size="34.6">60</text><text x="1651.5" y="2567.9" text-anchor="middle" font-size="34.6">80</text><text x="1742.4" y="2567.9" text-anchor="middle" font-size="34.6">100</text><text x="1833.3" y="2567.9" text-anchor="middle" font-size="34.6">120</text><text x="1924.3" y="2567.9" text-anchor="middle" font-size="34.6">140</text><text x="2015.2" y="2567.9" text-anchor="middle" font-size="34.6">160</text><text x="1651.5" y="2620.0" text-anchor="middle" textLength="218.5" lengthAdjust="spacingAndGlyphs">No. of Sample</text><text transform="translate(1216.0,2407.4) rotate(-90)" text-anchor="middle" textLength="95.6" lengthAdjust="spacingAndGlyphs">SE (m)</text><text x="1339.7" y="2252.6" textLength="151.7" lengthAdjust="spacingAndGlyphs">TDX90.nn</text><text x="1563.6" y="2252.6" textLength="141.9" lengthAdjust="spacingAndGlyphs">TDX90.bl</text><text x="1777.7" y="2252.6" textLength="147.6" lengthAdjust="spacingAndGlyphs">TDX90.bc</text></g>
<rect x="1036.6" y="2118" width="12" height="40" fill="#fff"/>
<line x1="23.9" y1="31.5" x2="2099.3" y2="31.5" stroke="#222" stroke-width="2.0"/>
<line x1="23.9" y1="118.9" x2="2099.3" y2="118.9" stroke="#0a0a0a" stroke-width="2.8"/>
<line x1="23.9" y1="533.2" x2="2099.3" y2="533.2" stroke="#0a0a0a" stroke-width="2.8"/>
<line x1="23.9" y1="943.4" x2="2099.3" y2="943.4" stroke="#0a0a0a" stroke-width="2.8"/>
<line x1="23.9" y1="1357.7" x2="2099.3" y2="1357.7" stroke="#0a0a0a" stroke-width="2.8"/>
<line x1="23.9" y1="1788.0" x2="2099.3" y2="1788.0" stroke="#0a0a0a" stroke-width="2.8"/>
<line x1="23.9" y1="2218.4" x2="2099.3" y2="2218.4" stroke="#0a0a0a" stroke-width="2.8"/>
<line x1="23.9" y1="2647.0" x2="2099.3" y2="2647.0" stroke="#222" stroke-width="2.4"/>
<line x1="25.2" y1="30.5" x2="25.2" y2="2648.2" stroke="#1e1e1e" stroke-width="2.6"/>
<line x1="154.8" y1="30.5" x2="154.8" y2="2648.2" stroke="#1e1e1e" stroke-width="2.6"/>
<line x1="1107.7" y1="30.5" x2="1107.7" y2="2648.2" stroke="#1e1e1e" stroke-width="2.6"/>
<line x1="2098.0" y1="30.5" x2="2098.0" y2="2648.2" stroke="#1e1e1e" stroke-width="2.6"/>
<text x="630.6" y="98.1" font-family="'Liberation Serif', 'Times New Roman', serif" font-weight="bold" font-size="66" text-anchor="middle" textLength="360" lengthAdjust="spacingAndGlyphs">Uncorrected</text>
<text x="1602.7" y="98.1" font-family="'Liberation Serif', 'Times New Roman', serif" font-weight="bold" font-size="66" text-anchor="middle" textLength="291" lengthAdjust="spacingAndGlyphs">Corrected</text>
<text transform="translate(106.8,326.4) rotate(-90)" font-family="'Liberation Serif', 'Times New Roman', serif" font-weight="bold" font-size="59" text-anchor="middle" textLength="139.9" lengthAdjust="spacingAndGlyphs">Ast30</text>
<text transform="translate(106.8,737.7) rotate(-90)" font-family="'Liberation Serif', 'Times New Roman', serif" font-weight="bold" font-size="59" text-anchor="middle" textLength="132.0" lengthAdjust="spacingAndGlyphs">Crt30</text>
<text transform="translate(106.8,1149.8) rotate(-90)" font-family="'Liberation Serif', 'Times New Roman', serif" font-weight="bold" font-size="59" text-anchor="middle" textLength="124.0" lengthAdjust="spacingAndGlyphs">Srt30</text>
<text transform="translate(106.8,1571.1) rotate(-90)" font-family="'Liberation Serif', 'Times New Roman', serif" font-weight="bold" font-size="59" text-anchor="middle" textLength="125.2" lengthAdjust="spacingAndGlyphs">Srt90</text>
<text transform="translate(106.8,2003.4) rotate(-90)" font-family="'Liberation Serif', 'Times New Roman', serif" font-weight="bold" font-size="59" text-anchor="middle" textLength="185.5" lengthAdjust="spacingAndGlyphs">MRT90</text>
<text transform="translate(106.8,2432.6) rotate(-90)" font-family="'Liberation Serif', 'Times New Roman', serif" font-weight="bold" font-size="59" text-anchor="middle" textLength="175.0" lengthAdjust="spacingAndGlyphs">TDX90</text>
</svg></body></html>
